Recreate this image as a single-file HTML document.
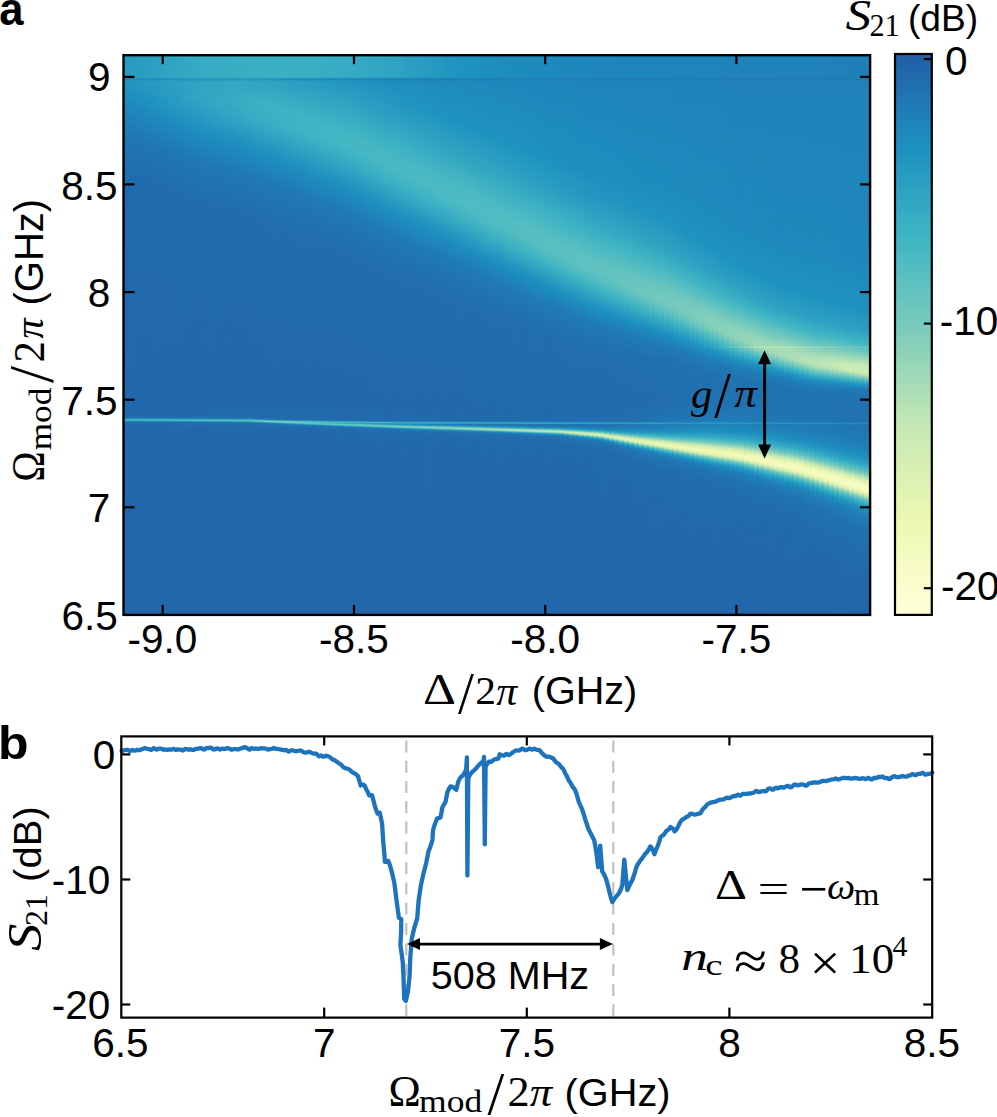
<!DOCTYPE html>
<html><head><meta charset="utf-8"><style>
html,body{margin:0;padding:0;background:#fff;overflow:hidden}
svg{display:block}
</style></head><body>
<svg width="997" height="1117" viewBox="0 0 997 1117">
<defs><linearGradient id="h0" x1="0" y1="0" x2="0" y2="1"><stop offset="0.0000" stop-color="#269ac1"/><stop offset="0.0377" stop-color="#269ac1"/><stop offset="0.0395" stop-color="#1f93c0"/><stop offset="0.0413" stop-color="#1f83b9"/><stop offset="0.0430" stop-color="#1e8cbe"/><stop offset="0.0448" stop-color="#2296c1"/><stop offset="0.0789" stop-color="#1e8cbe"/><stop offset="0.1507" stop-color="#2074b2"/><stop offset="0.2386" stop-color="#216aad"/><stop offset="0.6422" stop-color="#2268ac"/><stop offset="0.6475" stop-color="#216eaf"/><stop offset="0.6493" stop-color="#1f80b8"/><stop offset="0.6511" stop-color="#3db2c4"/><stop offset="0.6529" stop-color="#40b5c4"/><stop offset="0.6547" stop-color="#1f83b9"/><stop offset="0.6565" stop-color="#216eaf"/><stop offset="0.6619" stop-color="#2268ac"/><stop offset="1.0000" stop-color="#2266ab"/></linearGradient><linearGradient id="h1" x1="0" y1="0" x2="0" y2="1"><stop offset="0.0000" stop-color="#279cc1"/><stop offset="0.0377" stop-color="#279bc1"/><stop offset="0.0395" stop-color="#2094c0"/><stop offset="0.0413" stop-color="#1e84ba"/><stop offset="0.0430" stop-color="#1d8ebe"/><stop offset="0.0448" stop-color="#2397c1"/><stop offset="0.0807" stop-color="#1d8dbe"/><stop offset="0.1525" stop-color="#2074b2"/><stop offset="0.2386" stop-color="#216aad"/><stop offset="0.6404" stop-color="#2268ac"/><stop offset="0.6457" stop-color="#216aad"/><stop offset="0.6475" stop-color="#216eaf"/><stop offset="0.6493" stop-color="#1f80b7"/><stop offset="0.6511" stop-color="#3cb1c3"/><stop offset="0.6529" stop-color="#43b7c4"/><stop offset="0.6547" stop-color="#1e84ba"/><stop offset="0.6565" stop-color="#216faf"/><stop offset="0.6601" stop-color="#2169ac"/><stop offset="0.8215" stop-color="#2266ab"/><stop offset="1.0000" stop-color="#2266ab"/></linearGradient><linearGradient id="h2" x1="0" y1="0" x2="0" y2="1"><stop offset="0.0000" stop-color="#289dc1"/><stop offset="0.0377" stop-color="#289dc1"/><stop offset="0.0395" stop-color="#2195c0"/><stop offset="0.0413" stop-color="#1e85ba"/><stop offset="0.0430" stop-color="#1d8fbf"/><stop offset="0.0448" stop-color="#2498c1"/><stop offset="0.0843" stop-color="#1d8dbe"/><stop offset="0.1543" stop-color="#2074b2"/><stop offset="0.2368" stop-color="#216aad"/><stop offset="0.6404" stop-color="#2268ac"/><stop offset="0.6457" stop-color="#216aad"/><stop offset="0.6475" stop-color="#216eaf"/><stop offset="0.6493" stop-color="#1f7fb7"/><stop offset="0.6511" stop-color="#3bb0c3"/><stop offset="0.6529" stop-color="#47b8c3"/><stop offset="0.6547" stop-color="#1e85ba"/><stop offset="0.6565" stop-color="#216faf"/><stop offset="0.6601" stop-color="#2169ac"/><stop offset="0.8018" stop-color="#2266ab"/><stop offset="1.0000" stop-color="#2266ab"/></linearGradient><linearGradient id="h3" x1="0" y1="0" x2="0" y2="1"><stop offset="0.0000" stop-color="#2a9ec1"/><stop offset="0.0377" stop-color="#299ec1"/><stop offset="0.0395" stop-color="#2296c1"/><stop offset="0.0413" stop-color="#1e86bb"/><stop offset="0.0430" stop-color="#1d90c0"/><stop offset="0.0448" stop-color="#2599c1"/><stop offset="0.0861" stop-color="#1d8ebf"/><stop offset="0.1561" stop-color="#2075b2"/><stop offset="0.2368" stop-color="#216bad"/><stop offset="0.6386" stop-color="#2267ac"/><stop offset="0.6457" stop-color="#216aad"/><stop offset="0.6475" stop-color="#216eaf"/><stop offset="0.6493" stop-color="#1f7eb7"/><stop offset="0.6511" stop-color="#3aafc3"/><stop offset="0.6529" stop-color="#4ab9c3"/><stop offset="0.6547" stop-color="#1e87bb"/><stop offset="0.6565" stop-color="#216fb0"/><stop offset="0.6601" stop-color="#2169ac"/><stop offset="0.7857" stop-color="#2266ab"/><stop offset="1.0000" stop-color="#2266ab"/></linearGradient><linearGradient id="h4" x1="0" y1="0" x2="0" y2="1"><stop offset="0.0000" stop-color="#2b9fc2"/><stop offset="0.0377" stop-color="#2b9fc2"/><stop offset="0.0395" stop-color="#2397c1"/><stop offset="0.0413" stop-color="#1e88bb"/><stop offset="0.0430" stop-color="#1d91c0"/><stop offset="0.0448" stop-color="#269ac1"/><stop offset="0.0861" stop-color="#1d90c0"/><stop offset="0.1578" stop-color="#2075b2"/><stop offset="0.2368" stop-color="#216bad"/><stop offset="0.6368" stop-color="#2267ac"/><stop offset="0.6457" stop-color="#216aad"/><stop offset="0.6475" stop-color="#216eaf"/><stop offset="0.6493" stop-color="#1f7eb7"/><stop offset="0.6511" stop-color="#39aec3"/><stop offset="0.6529" stop-color="#4dbac2"/><stop offset="0.6547" stop-color="#1e88bc"/><stop offset="0.6565" stop-color="#2170b0"/><stop offset="0.6601" stop-color="#2169ad"/><stop offset="0.7713" stop-color="#2266ab"/><stop offset="1.0000" stop-color="#2266ab"/></linearGradient><linearGradient id="h5" x1="0" y1="0" x2="0" y2="1"><stop offset="0.0000" stop-color="#2ca0c2"/><stop offset="0.0377" stop-color="#2ca0c2"/><stop offset="0.0395" stop-color="#2498c1"/><stop offset="0.0413" stop-color="#1e88bc"/><stop offset="0.0430" stop-color="#1e92c0"/><stop offset="0.0448" stop-color="#279bc1"/><stop offset="0.0843" stop-color="#1f93c0"/><stop offset="0.1596" stop-color="#2076b3"/><stop offset="0.2368" stop-color="#216bad"/><stop offset="0.6350" stop-color="#2267ac"/><stop offset="0.6457" stop-color="#216aad"/><stop offset="0.6475" stop-color="#216eaf"/><stop offset="0.6493" stop-color="#1f7db6"/><stop offset="0.6511" stop-color="#38adc3"/><stop offset="0.6529" stop-color="#50bcc2"/><stop offset="0.6547" stop-color="#1e8abd"/><stop offset="0.6565" stop-color="#2170b0"/><stop offset="0.6601" stop-color="#2169ad"/><stop offset="0.7605" stop-color="#2266ab"/><stop offset="1.0000" stop-color="#2266ab"/></linearGradient><linearGradient id="h6" x1="0" y1="0" x2="0" y2="1"><stop offset="0.0000" stop-color="#2da1c2"/><stop offset="0.0377" stop-color="#2da1c2"/><stop offset="0.0395" stop-color="#2498c1"/><stop offset="0.0413" stop-color="#1e89bc"/><stop offset="0.0430" stop-color="#1f93c0"/><stop offset="0.0448" stop-color="#289cc1"/><stop offset="0.0825" stop-color="#2195c0"/><stop offset="0.1022" stop-color="#1d8dbe"/><stop offset="0.1686" stop-color="#2075b2"/><stop offset="0.2511" stop-color="#216aad"/><stop offset="0.6404" stop-color="#2268ac"/><stop offset="0.6475" stop-color="#216eaf"/><stop offset="0.6493" stop-color="#1f7db6"/><stop offset="0.6511" stop-color="#37acc3"/><stop offset="0.6529" stop-color="#53bdc1"/><stop offset="0.6547" stop-color="#1e8cbd"/><stop offset="0.6565" stop-color="#2171b0"/><stop offset="0.6601" stop-color="#2169ad"/><stop offset="0.7516" stop-color="#2266ab"/><stop offset="1.0000" stop-color="#2266ab"/></linearGradient><linearGradient id="h7" x1="0" y1="0" x2="0" y2="1"><stop offset="0.0000" stop-color="#2ea2c2"/><stop offset="0.0377" stop-color="#2ea2c2"/><stop offset="0.0395" stop-color="#2599c1"/><stop offset="0.0413" stop-color="#1e8abd"/><stop offset="0.0430" stop-color="#2094c0"/><stop offset="0.0448" stop-color="#299dc1"/><stop offset="0.0807" stop-color="#2397c1"/><stop offset="0.1040" stop-color="#1d8ebe"/><stop offset="0.1686" stop-color="#2075b3"/><stop offset="0.2475" stop-color="#216bad"/><stop offset="0.6386" stop-color="#2267ac"/><stop offset="0.6457" stop-color="#216aad"/><stop offset="0.6475" stop-color="#216eaf"/><stop offset="0.6493" stop-color="#1f7cb6"/><stop offset="0.6511" stop-color="#36abc3"/><stop offset="0.6529" stop-color="#56bec1"/><stop offset="0.6547" stop-color="#1d8dbe"/><stop offset="0.6565" stop-color="#2171b0"/><stop offset="0.6601" stop-color="#2169ad"/><stop offset="0.7426" stop-color="#2266ab"/><stop offset="1.0000" stop-color="#2266ab"/></linearGradient><linearGradient id="h8" x1="0" y1="0" x2="0" y2="1"><stop offset="0.0000" stop-color="#2fa3c2"/><stop offset="0.0377" stop-color="#2fa3c2"/><stop offset="0.0395" stop-color="#269ac1"/><stop offset="0.0413" stop-color="#1e8bbd"/><stop offset="0.0430" stop-color="#2195c0"/><stop offset="0.0448" stop-color="#2a9ec1"/><stop offset="0.0789" stop-color="#2599c1"/><stop offset="0.1076" stop-color="#1d8ebf"/><stop offset="0.1722" stop-color="#2075b3"/><stop offset="0.2511" stop-color="#216bad"/><stop offset="0.6386" stop-color="#2267ac"/><stop offset="0.6457" stop-color="#216aad"/><stop offset="0.6475" stop-color="#216eaf"/><stop offset="0.6493" stop-color="#1f7cb6"/><stop offset="0.6511" stop-color="#35aac3"/><stop offset="0.6529" stop-color="#59bfc1"/><stop offset="0.6547" stop-color="#1d8fbf"/><stop offset="0.6565" stop-color="#2171b1"/><stop offset="0.6583" stop-color="#216bae"/><stop offset="0.6744" stop-color="#2267ab"/><stop offset="1.0000" stop-color="#2266ab"/></linearGradient><linearGradient id="h9" x1="0" y1="0" x2="0" y2="1"><stop offset="0.0000" stop-color="#30a4c2"/><stop offset="0.0377" stop-color="#30a4c2"/><stop offset="0.0395" stop-color="#279bc1"/><stop offset="0.0413" stop-color="#1d8dbe"/><stop offset="0.0430" stop-color="#2296c1"/><stop offset="0.0448" stop-color="#2b9fc2"/><stop offset="0.0771" stop-color="#279cc1"/><stop offset="0.1112" stop-color="#1d8fbf"/><stop offset="0.1740" stop-color="#2076b3"/><stop offset="0.2511" stop-color="#216bad"/><stop offset="0.6350" stop-color="#2267ac"/><stop offset="0.6457" stop-color="#216aad"/><stop offset="0.6475" stop-color="#216eaf"/><stop offset="0.6493" stop-color="#1f7cb6"/><stop offset="0.6511" stop-color="#34a9c3"/><stop offset="0.6529" stop-color="#5cc0c0"/><stop offset="0.6547" stop-color="#1d91c0"/><stop offset="0.6565" stop-color="#2072b1"/><stop offset="0.6583" stop-color="#216bae"/><stop offset="0.6726" stop-color="#2267ab"/><stop offset="1.0000" stop-color="#2266ab"/></linearGradient><linearGradient id="h10" x1="0" y1="0" x2="0" y2="1"><stop offset="0.0000" stop-color="#31a6c2"/><stop offset="0.0377" stop-color="#31a5c2"/><stop offset="0.0395" stop-color="#289cc1"/><stop offset="0.0413" stop-color="#1d8ebe"/><stop offset="0.0448" stop-color="#2ca0c2"/><stop offset="0.0771" stop-color="#299dc1"/><stop offset="0.1166" stop-color="#1d8ebf"/><stop offset="0.1776" stop-color="#2076b3"/><stop offset="0.2547" stop-color="#216bae"/><stop offset="0.6350" stop-color="#2267ac"/><stop offset="0.6457" stop-color="#216aad"/><stop offset="0.6475" stop-color="#216eaf"/><stop offset="0.6493" stop-color="#1f7bb5"/><stop offset="0.6511" stop-color="#33a8c2"/><stop offset="0.6529" stop-color="#5ec1c0"/><stop offset="0.6547" stop-color="#1f93c0"/><stop offset="0.6565" stop-color="#2072b1"/><stop offset="0.6583" stop-color="#216cae"/><stop offset="0.6726" stop-color="#2267ab"/><stop offset="1.0000" stop-color="#2266ab"/></linearGradient><linearGradient id="h11" x1="0" y1="0" x2="0" y2="1"><stop offset="0.0000" stop-color="#32a7c2"/><stop offset="0.0377" stop-color="#32a6c2"/><stop offset="0.0395" stop-color="#289dc1"/><stop offset="0.0413" stop-color="#1d8fbf"/><stop offset="0.0448" stop-color="#2da1c2"/><stop offset="0.0771" stop-color="#2b9fc2"/><stop offset="0.1202" stop-color="#1d8ebf"/><stop offset="0.1812" stop-color="#2076b3"/><stop offset="0.2583" stop-color="#216bae"/><stop offset="0.6350" stop-color="#2267ac"/><stop offset="0.6457" stop-color="#216aad"/><stop offset="0.6475" stop-color="#216eaf"/><stop offset="0.6493" stop-color="#1f7bb5"/><stop offset="0.6511" stop-color="#32a7c2"/><stop offset="0.6529" stop-color="#60c2bf"/><stop offset="0.6547" stop-color="#2195c0"/><stop offset="0.6565" stop-color="#2073b1"/><stop offset="0.6583" stop-color="#216cae"/><stop offset="0.6726" stop-color="#2267ab"/><stop offset="1.0000" stop-color="#2266ab"/></linearGradient><linearGradient id="h12" x1="0" y1="0" x2="0" y2="1"><stop offset="0.0000" stop-color="#33a8c2"/><stop offset="0.0377" stop-color="#33a7c2"/><stop offset="0.0413" stop-color="#1d90bf"/><stop offset="0.0448" stop-color="#2da2c2"/><stop offset="0.0771" stop-color="#2da1c2"/><stop offset="0.1238" stop-color="#1d8fbf"/><stop offset="0.1830" stop-color="#2077b3"/><stop offset="0.2583" stop-color="#216cae"/><stop offset="0.6314" stop-color="#2267ab"/><stop offset="0.6457" stop-color="#216aad"/><stop offset="0.6475" stop-color="#216eaf"/><stop offset="0.6493" stop-color="#207ab5"/><stop offset="0.6511" stop-color="#31a6c2"/><stop offset="0.6529" stop-color="#62c2bf"/><stop offset="0.6547" stop-color="#2297c1"/><stop offset="0.6565" stop-color="#2074b2"/><stop offset="0.6583" stop-color="#216cae"/><stop offset="0.6709" stop-color="#2267ac"/><stop offset="1.0000" stop-color="#2266ab"/></linearGradient><linearGradient id="h13" x1="0" y1="0" x2="0" y2="1"><stop offset="0.0000" stop-color="#34a9c3"/><stop offset="0.0377" stop-color="#34a9c3"/><stop offset="0.0413" stop-color="#1d91c0"/><stop offset="0.0448" stop-color="#2ea3c2"/><stop offset="0.0771" stop-color="#2ea3c2"/><stop offset="0.1274" stop-color="#1d8fbf"/><stop offset="0.1865" stop-color="#2077b3"/><stop offset="0.2601" stop-color="#216cae"/><stop offset="0.6278" stop-color="#2267ab"/><stop offset="0.6457" stop-color="#216aad"/><stop offset="0.6475" stop-color="#216eaf"/><stop offset="0.6493" stop-color="#207ab5"/><stop offset="0.6511" stop-color="#30a4c2"/><stop offset="0.6529" stop-color="#64c3bf"/><stop offset="0.6547" stop-color="#2498c1"/><stop offset="0.6565" stop-color="#2074b2"/><stop offset="0.6583" stop-color="#216cae"/><stop offset="0.6709" stop-color="#2267ac"/><stop offset="1.0000" stop-color="#2266ab"/></linearGradient><linearGradient id="h14" x1="0" y1="0" x2="0" y2="1"><stop offset="0.0000" stop-color="#35aac3"/><stop offset="0.0377" stop-color="#35aac3"/><stop offset="0.0413" stop-color="#1d91c0"/><stop offset="0.0448" stop-color="#2fa3c2"/><stop offset="0.0771" stop-color="#30a4c2"/><stop offset="0.1327" stop-color="#1d8ebf"/><stop offset="0.1901" stop-color="#2077b3"/><stop offset="0.2637" stop-color="#216cae"/><stop offset="0.6296" stop-color="#2267ab"/><stop offset="0.6457" stop-color="#216aad"/><stop offset="0.6475" stop-color="#216eaf"/><stop offset="0.6493" stop-color="#207ab5"/><stop offset="0.6511" stop-color="#2fa3c2"/><stop offset="0.6529" stop-color="#65c4bf"/><stop offset="0.6547" stop-color="#269ac1"/><stop offset="0.6565" stop-color="#2075b2"/><stop offset="0.6583" stop-color="#216cae"/><stop offset="0.6691" stop-color="#2267ac"/><stop offset="1.0000" stop-color="#2266ab"/></linearGradient><linearGradient id="h15" x1="0" y1="0" x2="0" y2="1"><stop offset="0.0000" stop-color="#36abc3"/><stop offset="0.0377" stop-color="#36aac3"/><stop offset="0.0413" stop-color="#1e92c0"/><stop offset="0.0448" stop-color="#30a4c2"/><stop offset="0.0771" stop-color="#31a6c2"/><stop offset="0.1309" stop-color="#1d91c0"/><stop offset="0.1901" stop-color="#2078b4"/><stop offset="0.2619" stop-color="#216cae"/><stop offset="0.6045" stop-color="#2267ab"/><stop offset="0.6439" stop-color="#2169ad"/><stop offset="0.6475" stop-color="#216eaf"/><stop offset="0.6493" stop-color="#2079b4"/><stop offset="0.6511" stop-color="#2ea2c2"/><stop offset="0.6529" stop-color="#67c4bf"/><stop offset="0.6547" stop-color="#289dc1"/><stop offset="0.6565" stop-color="#2075b2"/><stop offset="0.6583" stop-color="#216cae"/><stop offset="0.6691" stop-color="#2267ac"/><stop offset="1.0000" stop-color="#2266ab"/></linearGradient><linearGradient id="h16" x1="0" y1="0" x2="0" y2="1"><stop offset="0.0000" stop-color="#36abc3"/><stop offset="0.0377" stop-color="#36abc3"/><stop offset="0.0413" stop-color="#1e92c0"/><stop offset="0.0448" stop-color="#30a5c2"/><stop offset="0.0771" stop-color="#33a7c2"/><stop offset="0.1238" stop-color="#2296c1"/><stop offset="0.1417" stop-color="#1d8ebe"/><stop offset="0.1973" stop-color="#2077b3"/><stop offset="0.2726" stop-color="#216cae"/><stop offset="0.6332" stop-color="#2267ac"/><stop offset="0.6457" stop-color="#216bad"/><stop offset="0.6475" stop-color="#216daf"/><stop offset="0.6493" stop-color="#2079b4"/><stop offset="0.6511" stop-color="#2da1c2"/><stop offset="0.6529" stop-color="#68c4be"/><stop offset="0.6547" stop-color="#2a9fc1"/><stop offset="0.6565" stop-color="#2076b3"/><stop offset="0.6583" stop-color="#216dae"/><stop offset="0.6691" stop-color="#2267ac"/><stop offset="1.0000" stop-color="#2266ab"/></linearGradient><linearGradient id="h17" x1="0" y1="0" x2="0" y2="1"><stop offset="0.0000" stop-color="#37abc3"/><stop offset="0.0377" stop-color="#37abc3"/><stop offset="0.0413" stop-color="#1f93c0"/><stop offset="0.0448" stop-color="#30a5c2"/><stop offset="0.0789" stop-color="#33a8c2"/><stop offset="0.1256" stop-color="#2397c1"/><stop offset="0.1435" stop-color="#1d8ebf"/><stop offset="0.1991" stop-color="#2077b3"/><stop offset="0.2726" stop-color="#216cae"/><stop offset="0.6314" stop-color="#2267ac"/><stop offset="0.6457" stop-color="#216bad"/><stop offset="0.6475" stop-color="#216daf"/><stop offset="0.6493" stop-color="#2079b4"/><stop offset="0.6511" stop-color="#2ca0c2"/><stop offset="0.6529" stop-color="#68c5be"/><stop offset="0.6547" stop-color="#2da1c2"/><stop offset="0.6565" stop-color="#2077b3"/><stop offset="0.6583" stop-color="#216dae"/><stop offset="0.6673" stop-color="#2268ac"/><stop offset="1.0000" stop-color="#2266ab"/></linearGradient><linearGradient id="h18" x1="0" y1="0" x2="0" y2="1"><stop offset="0.0000" stop-color="#37acc3"/><stop offset="0.0377" stop-color="#37acc3"/><stop offset="0.0413" stop-color="#1f93c0"/><stop offset="0.0448" stop-color="#31a5c2"/><stop offset="0.0789" stop-color="#35a9c3"/><stop offset="0.1220" stop-color="#269ac1"/><stop offset="0.1453" stop-color="#1d8fbf"/><stop offset="0.2009" stop-color="#2077b3"/><stop offset="0.2726" stop-color="#216cae"/><stop offset="0.6242" stop-color="#2267ab"/><stop offset="0.6457" stop-color="#216bad"/><stop offset="0.6475" stop-color="#216daf"/><stop offset="0.6493" stop-color="#2078b4"/><stop offset="0.6511" stop-color="#2b9fc2"/><stop offset="0.6529" stop-color="#69c5be"/><stop offset="0.6547" stop-color="#2fa3c2"/><stop offset="0.6565" stop-color="#2078b4"/><stop offset="0.6583" stop-color="#216dae"/><stop offset="0.6673" stop-color="#2268ac"/><stop offset="1.0000" stop-color="#2266ab"/></linearGradient><linearGradient id="h19" x1="0" y1="0" x2="0" y2="1"><stop offset="0.0000" stop-color="#37acc3"/><stop offset="0.0377" stop-color="#37acc3"/><stop offset="0.0413" stop-color="#1f93c0"/><stop offset="0.0448" stop-color="#31a5c2"/><stop offset="0.0789" stop-color="#36aac3"/><stop offset="0.1184" stop-color="#299ec1"/><stop offset="0.1489" stop-color="#1d8ebf"/><stop offset="0.2027" stop-color="#2077b3"/><stop offset="0.2744" stop-color="#216cae"/><stop offset="0.6224" stop-color="#2267ab"/><stop offset="0.6457" stop-color="#216bad"/><stop offset="0.6475" stop-color="#216daf"/><stop offset="0.6493" stop-color="#2078b4"/><stop offset="0.6511" stop-color="#2a9ec1"/><stop offset="0.6529" stop-color="#69c5be"/><stop offset="0.6547" stop-color="#31a6c2"/><stop offset="0.6565" stop-color="#2078b4"/><stop offset="0.6583" stop-color="#216dae"/><stop offset="0.6673" stop-color="#2268ac"/><stop offset="1.0000" stop-color="#2266ab"/></linearGradient><linearGradient id="h20" x1="0" y1="0" x2="0" y2="1"><stop offset="0.0000" stop-color="#38adc3"/><stop offset="0.0377" stop-color="#38acc3"/><stop offset="0.0413" stop-color="#1f93c0"/><stop offset="0.0448" stop-color="#31a6c2"/><stop offset="0.0789" stop-color="#37abc3"/><stop offset="0.1166" stop-color="#2ca0c2"/><stop offset="0.1507" stop-color="#1d8fbf"/><stop offset="0.2045" stop-color="#2078b4"/><stop offset="0.2744" stop-color="#216cae"/><stop offset="0.6117" stop-color="#2267ab"/><stop offset="0.6439" stop-color="#2169ad"/><stop offset="0.6475" stop-color="#216daf"/><stop offset="0.6493" stop-color="#2078b4"/><stop offset="0.6511" stop-color="#299dc1"/><stop offset="0.6529" stop-color="#69c5be"/><stop offset="0.6547" stop-color="#34a8c3"/><stop offset="0.6565" stop-color="#2079b4"/><stop offset="0.6583" stop-color="#216daf"/><stop offset="0.6673" stop-color="#2268ac"/><stop offset="1.0000" stop-color="#2266ab"/></linearGradient><linearGradient id="h21" x1="0" y1="0" x2="0" y2="1"><stop offset="0.0000" stop-color="#38adc3"/><stop offset="0.0377" stop-color="#38adc3"/><stop offset="0.0413" stop-color="#1f93c0"/><stop offset="0.0448" stop-color="#31a6c2"/><stop offset="0.0789" stop-color="#38acc3"/><stop offset="0.1148" stop-color="#2ea2c2"/><stop offset="0.1543" stop-color="#1d8fbf"/><stop offset="0.2081" stop-color="#2077b3"/><stop offset="0.2798" stop-color="#216cae"/><stop offset="0.6260" stop-color="#2267ac"/><stop offset="0.6457" stop-color="#216bad"/><stop offset="0.6475" stop-color="#216daf"/><stop offset="0.6493" stop-color="#2078b4"/><stop offset="0.6511" stop-color="#289cc1"/><stop offset="0.6529" stop-color="#69c5be"/><stop offset="0.6547" stop-color="#36abc3"/><stop offset="0.6565" stop-color="#207ab5"/><stop offset="0.6583" stop-color="#216eaf"/><stop offset="0.6655" stop-color="#2268ac"/><stop offset="1.0000" stop-color="#2266ab"/></linearGradient><linearGradient id="h22" x1="0" y1="0" x2="0" y2="1"><stop offset="0.0000" stop-color="#39adc3"/><stop offset="0.0377" stop-color="#38adc3"/><stop offset="0.0413" stop-color="#1f93c0"/><stop offset="0.0448" stop-color="#31a6c2"/><stop offset="0.0807" stop-color="#38adc3"/><stop offset="0.1148" stop-color="#30a4c2"/><stop offset="0.1561" stop-color="#1d8fbf"/><stop offset="0.2081" stop-color="#2078b4"/><stop offset="0.2780" stop-color="#216cae"/><stop offset="0.6063" stop-color="#2267ab"/><stop offset="0.6439" stop-color="#2169ad"/><stop offset="0.6475" stop-color="#216daf"/><stop offset="0.6493" stop-color="#2077b3"/><stop offset="0.6511" stop-color="#279bc1"/><stop offset="0.6529" stop-color="#68c5be"/><stop offset="0.6547" stop-color="#38adc3"/><stop offset="0.6565" stop-color="#1f7bb5"/><stop offset="0.6583" stop-color="#216eaf"/><stop offset="0.6655" stop-color="#2268ac"/><stop offset="1.0000" stop-color="#2266ab"/></linearGradient><linearGradient id="h23" x1="0" y1="0" x2="0" y2="1"><stop offset="0.0000" stop-color="#39aec3"/><stop offset="0.0377" stop-color="#39aec3"/><stop offset="0.0413" stop-color="#1f93c0"/><stop offset="0.0448" stop-color="#31a6c2"/><stop offset="0.0807" stop-color="#39aec3"/><stop offset="0.1148" stop-color="#31a6c2"/><stop offset="0.1596" stop-color="#1d8fbf"/><stop offset="0.2117" stop-color="#2078b4"/><stop offset="0.2816" stop-color="#216cae"/><stop offset="0.6152" stop-color="#2267ab"/><stop offset="0.6457" stop-color="#216bad"/><stop offset="0.6475" stop-color="#216daf"/><stop offset="0.6493" stop-color="#2077b3"/><stop offset="0.6511" stop-color="#269ac1"/><stop offset="0.6529" stop-color="#67c4be"/><stop offset="0.6547" stop-color="#3bb0c3"/><stop offset="0.6565" stop-color="#1f7cb6"/><stop offset="0.6583" stop-color="#216eaf"/><stop offset="0.6655" stop-color="#2268ac"/><stop offset="1.0000" stop-color="#2266ab"/></linearGradient><linearGradient id="h24" x1="0" y1="0" x2="0" y2="1"><stop offset="0.0000" stop-color="#39aec3"/><stop offset="0.0377" stop-color="#39aec3"/><stop offset="0.0413" stop-color="#1f93c0"/><stop offset="0.0448" stop-color="#31a6c2"/><stop offset="0.0825" stop-color="#3aafc3"/><stop offset="0.1148" stop-color="#33a8c2"/><stop offset="0.1632" stop-color="#1d8fbf"/><stop offset="0.2152" stop-color="#2078b4"/><stop offset="0.2852" stop-color="#216cae"/><stop offset="0.6188" stop-color="#2267ab"/><stop offset="0.6457" stop-color="#216bad"/><stop offset="0.6475" stop-color="#216daf"/><stop offset="0.6493" stop-color="#2077b3"/><stop offset="0.6511" stop-color="#2599c1"/><stop offset="0.6529" stop-color="#67c4bf"/><stop offset="0.6547" stop-color="#3db2c4"/><stop offset="0.6565" stop-color="#1f7db6"/><stop offset="0.6583" stop-color="#216eaf"/><stop offset="0.6655" stop-color="#2268ac"/><stop offset="1.0000" stop-color="#2266ab"/></linearGradient><linearGradient id="h25" x1="0" y1="0" x2="0" y2="1"><stop offset="0.0000" stop-color="#3aafc3"/><stop offset="0.0377" stop-color="#3aaec3"/><stop offset="0.0413" stop-color="#1e92c0"/><stop offset="0.0448" stop-color="#31a5c2"/><stop offset="0.0825" stop-color="#3bb0c3"/><stop offset="0.1148" stop-color="#35aac3"/><stop offset="0.1668" stop-color="#1d8fbf"/><stop offset="0.2188" stop-color="#2078b4"/><stop offset="0.2888" stop-color="#216cae"/><stop offset="0.6206" stop-color="#2267ac"/><stop offset="0.6457" stop-color="#216bad"/><stop offset="0.6475" stop-color="#216dae"/><stop offset="0.6493" stop-color="#2075b3"/><stop offset="0.6511" stop-color="#2296c1"/><stop offset="0.6529" stop-color="#64c3bf"/><stop offset="0.6547" stop-color="#48b8c3"/><stop offset="0.6565" stop-color="#1f81b8"/><stop offset="0.6583" stop-color="#216faf"/><stop offset="0.6637" stop-color="#2169ac"/><stop offset="1.0000" stop-color="#2266ab"/></linearGradient><linearGradient id="h26" x1="0" y1="0" x2="0" y2="1"><stop offset="0.0000" stop-color="#3aafc3"/><stop offset="0.0377" stop-color="#3aafc3"/><stop offset="0.0413" stop-color="#1e92c0"/><stop offset="0.0448" stop-color="#30a5c2"/><stop offset="0.0843" stop-color="#3cb0c3"/><stop offset="0.1148" stop-color="#37acc3"/><stop offset="0.1704" stop-color="#1d8fbf"/><stop offset="0.2206" stop-color="#2078b4"/><stop offset="0.2888" stop-color="#216dae"/><stop offset="0.6027" stop-color="#2267ab"/><stop offset="0.6457" stop-color="#216aad"/><stop offset="0.6493" stop-color="#2072b1"/><stop offset="0.6511" stop-color="#1e8bbd"/><stop offset="0.6529" stop-color="#56bec1"/><stop offset="0.6547" stop-color="#68c4be"/><stop offset="0.6565" stop-color="#1e8cbd"/><stop offset="0.6583" stop-color="#2171b0"/><stop offset="0.6619" stop-color="#216aad"/><stop offset="0.7265" stop-color="#2267ab"/><stop offset="1.0000" stop-color="#2266ab"/></linearGradient><linearGradient id="h27" x1="0" y1="0" x2="0" y2="1"><stop offset="0.0000" stop-color="#3aafc3"/><stop offset="0.0377" stop-color="#3aafc3"/><stop offset="0.0413" stop-color="#1d91c0"/><stop offset="0.0448" stop-color="#30a4c2"/><stop offset="0.0861" stop-color="#3cb1c3"/><stop offset="0.1166" stop-color="#38adc3"/><stop offset="0.1740" stop-color="#1d8fbf"/><stop offset="0.2242" stop-color="#2078b4"/><stop offset="0.2924" stop-color="#216dae"/><stop offset="0.6063" stop-color="#2267ac"/><stop offset="0.6457" stop-color="#216aad"/><stop offset="0.6493" stop-color="#2170b0"/><stop offset="0.6511" stop-color="#1f82b9"/><stop offset="0.6529" stop-color="#43b7c4"/><stop offset="0.6547" stop-color="#83cebb"/><stop offset="0.6565" stop-color="#2498c1"/><stop offset="0.6583" stop-color="#2074b2"/><stop offset="0.6601" stop-color="#216dae"/><stop offset="0.6726" stop-color="#2267ac"/><stop offset="1.0000" stop-color="#2266ab"/></linearGradient><linearGradient id="h28" x1="0" y1="0" x2="0" y2="1"><stop offset="0.0000" stop-color="#3bb0c3"/><stop offset="0.0377" stop-color="#3bb0c3"/><stop offset="0.0395" stop-color="#299ec1"/><stop offset="0.0413" stop-color="#1d91c0"/><stop offset="0.0448" stop-color="#2fa3c2"/><stop offset="0.0897" stop-color="#3db2c4"/><stop offset="0.1202" stop-color="#39adc3"/><stop offset="0.1776" stop-color="#1d8fbf"/><stop offset="0.2278" stop-color="#2078b4"/><stop offset="0.2960" stop-color="#216dae"/><stop offset="0.6099" stop-color="#2267ac"/><stop offset="0.6457" stop-color="#216aad"/><stop offset="0.6493" stop-color="#216faf"/><stop offset="0.6511" stop-color="#1f7bb5"/><stop offset="0.6529" stop-color="#36abc3"/><stop offset="0.6547" stop-color="#94d5b9"/><stop offset="0.6565" stop-color="#32a6c2"/><stop offset="0.6583" stop-color="#2079b4"/><stop offset="0.6601" stop-color="#216eaf"/><stop offset="0.6691" stop-color="#2268ac"/><stop offset="1.0000" stop-color="#2266ab"/></linearGradient><linearGradient id="h29" x1="0" y1="0" x2="0" y2="1"><stop offset="0.0000" stop-color="#3bb0c3"/><stop offset="0.0377" stop-color="#3bb0c3"/><stop offset="0.0395" stop-color="#289dc1"/><stop offset="0.0413" stop-color="#1d90bf"/><stop offset="0.0448" stop-color="#2ea3c2"/><stop offset="0.0915" stop-color="#3db2c4"/><stop offset="0.1220" stop-color="#3aaec3"/><stop offset="0.1812" stop-color="#1d8fbf"/><stop offset="0.2314" stop-color="#2078b4"/><stop offset="0.2996" stop-color="#216dae"/><stop offset="0.6152" stop-color="#2267ac"/><stop offset="0.6457" stop-color="#2169ad"/><stop offset="0.6493" stop-color="#216daf"/><stop offset="0.6511" stop-color="#2077b3"/><stop offset="0.6529" stop-color="#2ba0c2"/><stop offset="0.6547" stop-color="#98d7b9"/><stop offset="0.6565" stop-color="#41b6c4"/><stop offset="0.6583" stop-color="#1f81b8"/><stop offset="0.6601" stop-color="#216faf"/><stop offset="0.6655" stop-color="#2169ac"/><stop offset="1.0000" stop-color="#2266ab"/></linearGradient><linearGradient id="h30" x1="0" y1="0" x2="0" y2="1"><stop offset="0.0000" stop-color="#3cb0c3"/><stop offset="0.0377" stop-color="#3bb0c3"/><stop offset="0.0395" stop-color="#289cc1"/><stop offset="0.0413" stop-color="#1d8ebf"/><stop offset="0.0448" stop-color="#2da2c2"/><stop offset="0.0933" stop-color="#3db2c4"/><stop offset="0.1238" stop-color="#3aafc3"/><stop offset="0.1848" stop-color="#1d8fbf"/><stop offset="0.2350" stop-color="#2078b4"/><stop offset="0.3031" stop-color="#216dae"/><stop offset="0.6188" stop-color="#2267ac"/><stop offset="0.6475" stop-color="#216aad"/><stop offset="0.6493" stop-color="#216dae"/><stop offset="0.6511" stop-color="#2073b1"/><stop offset="0.6529" stop-color="#2296c1"/><stop offset="0.6547" stop-color="#90d3b9"/><stop offset="0.6565" stop-color="#5bc0c0"/><stop offset="0.6583" stop-color="#1e8bbd"/><stop offset="0.6601" stop-color="#2072b1"/><stop offset="0.6637" stop-color="#216aad"/><stop offset="0.7229" stop-color="#2267ab"/><stop offset="1.0000" stop-color="#2266ab"/></linearGradient><linearGradient id="h31" x1="0" y1="0" x2="0" y2="1"><stop offset="0.0000" stop-color="#3cb1c3"/><stop offset="0.0377" stop-color="#3cb0c3"/><stop offset="0.0395" stop-color="#279bc1"/><stop offset="0.0413" stop-color="#1d8dbe"/><stop offset="0.0430" stop-color="#2397c1"/><stop offset="0.0448" stop-color="#2ca1c2"/><stop offset="0.0969" stop-color="#3eb3c4"/><stop offset="0.1274" stop-color="#3bafc3"/><stop offset="0.1883" stop-color="#1d8fbf"/><stop offset="0.2368" stop-color="#2078b4"/><stop offset="0.3031" stop-color="#216dae"/><stop offset="0.6027" stop-color="#2267ac"/><stop offset="0.6475" stop-color="#216aad"/><stop offset="0.6511" stop-color="#2171b0"/><stop offset="0.6529" stop-color="#1d8ebe"/><stop offset="0.6547" stop-color="#82cebb"/><stop offset="0.6565" stop-color="#70c8bd"/><stop offset="0.6583" stop-color="#2297c1"/><stop offset="0.6601" stop-color="#2075b2"/><stop offset="0.6619" stop-color="#216dae"/><stop offset="0.6726" stop-color="#2268ac"/><stop offset="1.0000" stop-color="#2266ab"/></linearGradient><linearGradient id="h32" x1="0" y1="0" x2="0" y2="1"><stop offset="0.0000" stop-color="#3bb0c3"/><stop offset="0.0377" stop-color="#3bb0c3"/><stop offset="0.0395" stop-color="#269ac1"/><stop offset="0.0413" stop-color="#1e8cbe"/><stop offset="0.0430" stop-color="#2296c1"/><stop offset="0.0448" stop-color="#2ba0c2"/><stop offset="0.1004" stop-color="#3eb3c4"/><stop offset="0.1309" stop-color="#3bb0c3"/><stop offset="0.1919" stop-color="#1d8fbf"/><stop offset="0.2404" stop-color="#2078b4"/><stop offset="0.3067" stop-color="#216dae"/><stop offset="0.6063" stop-color="#2267ac"/><stop offset="0.6475" stop-color="#216aad"/><stop offset="0.6511" stop-color="#216faf"/><stop offset="0.6529" stop-color="#1e86bb"/><stop offset="0.6547" stop-color="#74c9bd"/><stop offset="0.6565" stop-color="#7bccbc"/><stop offset="0.6583" stop-color="#2fa4c2"/><stop offset="0.6601" stop-color="#207ab5"/><stop offset="0.6619" stop-color="#216eaf"/><stop offset="0.6691" stop-color="#2268ac"/><stop offset="1.0000" stop-color="#2266ab"/></linearGradient><linearGradient id="h33" x1="0" y1="0" x2="0" y2="1"><stop offset="0.0000" stop-color="#3bb0c3"/><stop offset="0.0377" stop-color="#3bb0c3"/><stop offset="0.0395" stop-color="#2599c1"/><stop offset="0.0413" stop-color="#1e8bbd"/><stop offset="0.0430" stop-color="#2195c0"/><stop offset="0.0448" stop-color="#2a9fc1"/><stop offset="0.1022" stop-color="#3fb3c4"/><stop offset="0.1327" stop-color="#3cb1c3"/><stop offset="0.1955" stop-color="#1d8fbf"/><stop offset="0.2439" stop-color="#2078b4"/><stop offset="0.3103" stop-color="#216dae"/><stop offset="0.6099" stop-color="#2267ac"/><stop offset="0.6475" stop-color="#216aad"/><stop offset="0.6511" stop-color="#216eaf"/><stop offset="0.6529" stop-color="#1f81b8"/><stop offset="0.6547" stop-color="#68c5be"/><stop offset="0.6565" stop-color="#7acbbc"/><stop offset="0.6583" stop-color="#3db2c4"/><stop offset="0.6601" stop-color="#1f82b8"/><stop offset="0.6619" stop-color="#2170b0"/><stop offset="0.6673" stop-color="#2169ac"/><stop offset="1.0000" stop-color="#2266ab"/></linearGradient><linearGradient id="h34" x1="0" y1="0" x2="0" y2="1"><stop offset="0.0000" stop-color="#3bb0c3"/><stop offset="0.0377" stop-color="#3bafc3"/><stop offset="0.0395" stop-color="#2498c1"/><stop offset="0.0413" stop-color="#1e8abd"/><stop offset="0.0430" stop-color="#2094c0"/><stop offset="0.0448" stop-color="#2a9ec1"/><stop offset="0.1058" stop-color="#3fb4c4"/><stop offset="0.1345" stop-color="#3db2c4"/><stop offset="0.1991" stop-color="#1d8fbf"/><stop offset="0.2475" stop-color="#2078b4"/><stop offset="0.3139" stop-color="#216dae"/><stop offset="0.6135" stop-color="#2267ac"/><stop offset="0.6493" stop-color="#216bad"/><stop offset="0.6511" stop-color="#216dae"/><stop offset="0.6529" stop-color="#1f7cb6"/><stop offset="0.6547" stop-color="#5fc1c0"/><stop offset="0.6565" stop-color="#71c8bd"/><stop offset="0.6583" stop-color="#51bcc2"/><stop offset="0.6601" stop-color="#1e8cbd"/><stop offset="0.6619" stop-color="#2072b1"/><stop offset="0.6655" stop-color="#216aad"/><stop offset="0.7193" stop-color="#2267ab"/><stop offset="1.0000" stop-color="#2266ab"/></linearGradient><linearGradient id="h35" x1="0" y1="0" x2="0" y2="1"><stop offset="0.0000" stop-color="#3aafc3"/><stop offset="0.0377" stop-color="#3aafc3"/><stop offset="0.0395" stop-color="#2397c1"/><stop offset="0.0413" stop-color="#1e89bc"/><stop offset="0.0430" stop-color="#1f93c0"/><stop offset="0.0448" stop-color="#299dc1"/><stop offset="0.1094" stop-color="#3fb4c4"/><stop offset="0.1381" stop-color="#3db2c4"/><stop offset="0.2027" stop-color="#1d8fbf"/><stop offset="0.2511" stop-color="#2078b4"/><stop offset="0.3175" stop-color="#216dae"/><stop offset="0.6170" stop-color="#2267ac"/><stop offset="0.6493" stop-color="#216aad"/><stop offset="0.6511" stop-color="#216cae"/><stop offset="0.6529" stop-color="#2079b4"/><stop offset="0.6547" stop-color="#56bec1"/><stop offset="0.6565" stop-color="#66c4bf"/><stop offset="0.6583" stop-color="#62c2bf"/><stop offset="0.6601" stop-color="#2397c1"/><stop offset="0.6619" stop-color="#2075b2"/><stop offset="0.6637" stop-color="#216dae"/><stop offset="0.6744" stop-color="#2268ac"/><stop offset="1.0000" stop-color="#2266ab"/></linearGradient><linearGradient id="h36" x1="0" y1="0" x2="0" y2="1"><stop offset="0.0000" stop-color="#3aafc3"/><stop offset="0.0377" stop-color="#3aafc3"/><stop offset="0.0395" stop-color="#2297c1"/><stop offset="0.0413" stop-color="#1e88bc"/><stop offset="0.0430" stop-color="#1e92c0"/><stop offset="0.0448" stop-color="#289cc1"/><stop offset="0.1130" stop-color="#40b5c4"/><stop offset="0.1417" stop-color="#3eb2c4"/><stop offset="0.2063" stop-color="#1d8fbf"/><stop offset="0.2547" stop-color="#2078b4"/><stop offset="0.3211" stop-color="#216dae"/><stop offset="0.6188" stop-color="#2267ac"/><stop offset="0.6493" stop-color="#216aad"/><stop offset="0.6511" stop-color="#216cae"/><stop offset="0.6529" stop-color="#2077b3"/><stop offset="0.6547" stop-color="#4cbac2"/><stop offset="0.6565" stop-color="#5fc1c0"/><stop offset="0.6583" stop-color="#6ac5be"/><stop offset="0.6601" stop-color="#2ca1c2"/><stop offset="0.6619" stop-color="#2079b4"/><stop offset="0.6637" stop-color="#216eaf"/><stop offset="0.6709" stop-color="#2268ac"/><stop offset="1.0000" stop-color="#2266ab"/></linearGradient><linearGradient id="h37" x1="0" y1="0" x2="0" y2="1"><stop offset="0.0000" stop-color="#3aafc3"/><stop offset="0.0377" stop-color="#3aaec3"/><stop offset="0.0395" stop-color="#2296c1"/><stop offset="0.0413" stop-color="#1e87bb"/><stop offset="0.0430" stop-color="#1d91c0"/><stop offset="0.0448" stop-color="#279bc1"/><stop offset="0.1166" stop-color="#40b5c4"/><stop offset="0.1453" stop-color="#3eb3c4"/><stop offset="0.2099" stop-color="#1d90bf"/><stop offset="0.2583" stop-color="#2078b4"/><stop offset="0.3247" stop-color="#216dae"/><stop offset="0.6224" stop-color="#2267ac"/><stop offset="0.6493" stop-color="#216aad"/><stop offset="0.6511" stop-color="#216cae"/><stop offset="0.6529" stop-color="#2074b2"/><stop offset="0.6547" stop-color="#42b6c4"/><stop offset="0.6565" stop-color="#59bfc1"/><stop offset="0.6583" stop-color="#6bc6be"/><stop offset="0.6601" stop-color="#37acc3"/><stop offset="0.6619" stop-color="#1f7fb7"/><stop offset="0.6637" stop-color="#216fb0"/><stop offset="0.6691" stop-color="#2169ac"/><stop offset="1.0000" stop-color="#2266ab"/></linearGradient><linearGradient id="h38" x1="0" y1="0" x2="0" y2="1"><stop offset="0.0000" stop-color="#39aec3"/><stop offset="0.0377" stop-color="#39aec3"/><stop offset="0.0395" stop-color="#2195c0"/><stop offset="0.0413" stop-color="#1e86bb"/><stop offset="0.0430" stop-color="#1d91c0"/><stop offset="0.0448" stop-color="#269ac1"/><stop offset="0.1202" stop-color="#41b6c4"/><stop offset="0.1471" stop-color="#3fb4c4"/><stop offset="0.2117" stop-color="#1d91c0"/><stop offset="0.2583" stop-color="#207ab5"/><stop offset="0.3211" stop-color="#216daf"/><stop offset="0.5794" stop-color="#2267ac"/><stop offset="0.6475" stop-color="#2169ad"/><stop offset="0.6511" stop-color="#216cae"/><stop offset="0.6529" stop-color="#2073b1"/><stop offset="0.6547" stop-color="#3cb1c3"/><stop offset="0.6565" stop-color="#54bdc1"/><stop offset="0.6583" stop-color="#67c4bf"/><stop offset="0.6601" stop-color="#43b7c4"/><stop offset="0.6619" stop-color="#1e86bb"/><stop offset="0.6637" stop-color="#2171b0"/><stop offset="0.6673" stop-color="#216aad"/><stop offset="0.7211" stop-color="#2267ab"/><stop offset="1.0000" stop-color="#2266ab"/></linearGradient><linearGradient id="h39" x1="0" y1="0" x2="0" y2="1"><stop offset="0.0000" stop-color="#39aec3"/><stop offset="0.0377" stop-color="#39aec3"/><stop offset="0.0395" stop-color="#2094c0"/><stop offset="0.0413" stop-color="#1e86ba"/><stop offset="0.0430" stop-color="#1d90bf"/><stop offset="0.0448" stop-color="#259ac1"/><stop offset="0.1238" stop-color="#41b6c4"/><stop offset="0.1489" stop-color="#40b5c4"/><stop offset="0.1973" stop-color="#279bc1"/><stop offset="0.2188" stop-color="#1d8fbf"/><stop offset="0.2655" stop-color="#2078b4"/><stop offset="0.3318" stop-color="#216dae"/><stop offset="0.6260" stop-color="#2267ac"/><stop offset="0.6511" stop-color="#216bae"/><stop offset="0.6529" stop-color="#2171b0"/><stop offset="0.6547" stop-color="#36abc3"/><stop offset="0.6565" stop-color="#50bcc2"/><stop offset="0.6583" stop-color="#5ec1c0"/><stop offset="0.6601" stop-color="#54bdc1"/><stop offset="0.6619" stop-color="#1d8ebf"/><stop offset="0.6637" stop-color="#2073b2"/><stop offset="0.6655" stop-color="#216dae"/><stop offset="0.6780" stop-color="#2268ac"/><stop offset="1.0000" stop-color="#2266ab"/></linearGradient><linearGradient id="h40" x1="0" y1="0" x2="0" y2="1"><stop offset="0.0000" stop-color="#39adc3"/><stop offset="0.0377" stop-color="#39adc3"/><stop offset="0.0395" stop-color="#2094c0"/><stop offset="0.0413" stop-color="#1e85ba"/><stop offset="0.0430" stop-color="#1d8fbf"/><stop offset="0.0448" stop-color="#2599c1"/><stop offset="0.1256" stop-color="#41b6c4"/><stop offset="0.1489" stop-color="#41b6c4"/><stop offset="0.1883" stop-color="#2ea3c2"/><stop offset="0.2206" stop-color="#1d90bf"/><stop offset="0.2673" stop-color="#2079b4"/><stop offset="0.3318" stop-color="#216dae"/><stop offset="0.6135" stop-color="#2267ac"/><stop offset="0.6493" stop-color="#216aad"/><stop offset="0.6529" stop-color="#2170b0"/><stop offset="0.6547" stop-color="#31a6c2"/><stop offset="0.6565" stop-color="#4ebbc2"/><stop offset="0.6583" stop-color="#53bdc1"/><stop offset="0.6601" stop-color="#63c3bf"/><stop offset="0.6619" stop-color="#2397c1"/><stop offset="0.6637" stop-color="#2077b3"/><stop offset="0.6655" stop-color="#216eaf"/><stop offset="0.6744" stop-color="#2268ac"/><stop offset="1.0000" stop-color="#2266ab"/></linearGradient><linearGradient id="h41" x1="0" y1="0" x2="0" y2="1"><stop offset="0.0000" stop-color="#38adc3"/><stop offset="0.0377" stop-color="#38adc3"/><stop offset="0.0395" stop-color="#1f93c0"/><stop offset="0.0413" stop-color="#1e84ba"/><stop offset="0.0430" stop-color="#1d8ebf"/><stop offset="0.0448" stop-color="#2498c1"/><stop offset="0.1291" stop-color="#42b6c4"/><stop offset="0.1507" stop-color="#42b6c4"/><stop offset="0.1865" stop-color="#32a6c2"/><stop offset="0.2242" stop-color="#1d90bf"/><stop offset="0.2709" stop-color="#2079b4"/><stop offset="0.3354" stop-color="#216dae"/><stop offset="0.6170" stop-color="#2267ac"/><stop offset="0.6493" stop-color="#216aad"/><stop offset="0.6529" stop-color="#216faf"/><stop offset="0.6547" stop-color="#2ca0c2"/><stop offset="0.6565" stop-color="#4dbbc2"/><stop offset="0.6583" stop-color="#47b8c3"/><stop offset="0.6601" stop-color="#6ec7bd"/><stop offset="0.6619" stop-color="#2da1c2"/><stop offset="0.6637" stop-color="#1f7bb5"/><stop offset="0.6655" stop-color="#216faf"/><stop offset="0.6726" stop-color="#2268ac"/><stop offset="1.0000" stop-color="#2266ab"/></linearGradient><linearGradient id="h42" x1="0" y1="0" x2="0" y2="1"><stop offset="0.0000" stop-color="#38adc3"/><stop offset="0.0377" stop-color="#38adc3"/><stop offset="0.0395" stop-color="#1e92c0"/><stop offset="0.0413" stop-color="#1e84ba"/><stop offset="0.0430" stop-color="#1d8ebe"/><stop offset="0.0448" stop-color="#2397c1"/><stop offset="0.1327" stop-color="#42b7c4"/><stop offset="0.1543" stop-color="#42b6c4"/><stop offset="0.1883" stop-color="#33a7c2"/><stop offset="0.2278" stop-color="#1d8fbf"/><stop offset="0.2744" stop-color="#2079b4"/><stop offset="0.3390" stop-color="#216dae"/><stop offset="0.6206" stop-color="#2267ac"/><stop offset="0.6511" stop-color="#216bad"/><stop offset="0.6529" stop-color="#216eaf"/><stop offset="0.6547" stop-color="#279bc1"/><stop offset="0.6565" stop-color="#4dbbc2"/><stop offset="0.6583" stop-color="#3eb2c4"/><stop offset="0.6601" stop-color="#72c8bd"/><stop offset="0.6619" stop-color="#37acc3"/><stop offset="0.6637" stop-color="#1f80b8"/><stop offset="0.6655" stop-color="#2170b0"/><stop offset="0.6709" stop-color="#2169ad"/><stop offset="0.9901" stop-color="#2266ab"/><stop offset="1.0000" stop-color="#2266ab"/></linearGradient><linearGradient id="h43" x1="0" y1="0" x2="0" y2="1"><stop offset="0.0000" stop-color="#38acc3"/><stop offset="0.0377" stop-color="#37acc3"/><stop offset="0.0395" stop-color="#1e92c0"/><stop offset="0.0413" stop-color="#1f83b9"/><stop offset="0.0430" stop-color="#1d8dbe"/><stop offset="0.0448" stop-color="#2296c1"/><stop offset="0.1363" stop-color="#43b7c4"/><stop offset="0.1578" stop-color="#43b7c4"/><stop offset="0.1919" stop-color="#33a8c2"/><stop offset="0.2314" stop-color="#1d90bf"/><stop offset="0.2780" stop-color="#2079b4"/><stop offset="0.3426" stop-color="#216dae"/><stop offset="0.6224" stop-color="#2267ac"/><stop offset="0.6511" stop-color="#216bad"/><stop offset="0.6529" stop-color="#216eaf"/><stop offset="0.6547" stop-color="#2296c1"/><stop offset="0.6565" stop-color="#4ebbc2"/><stop offset="0.6583" stop-color="#37acc3"/><stop offset="0.6601" stop-color="#70c8bd"/><stop offset="0.6619" stop-color="#42b7c4"/><stop offset="0.6637" stop-color="#1e87bb"/><stop offset="0.6655" stop-color="#2072b1"/><stop offset="0.6691" stop-color="#216bad"/><stop offset="0.7103" stop-color="#2267ab"/><stop offset="1.0000" stop-color="#2266ab"/></linearGradient><linearGradient id="h44" x1="0" y1="0" x2="0" y2="1"><stop offset="0.0000" stop-color="#37abc3"/><stop offset="0.0377" stop-color="#37abc3"/><stop offset="0.0395" stop-color="#1d91c0"/><stop offset="0.0413" stop-color="#1f82b9"/><stop offset="0.0430" stop-color="#1e8cbd"/><stop offset="0.0448" stop-color="#2196c0"/><stop offset="0.1417" stop-color="#43b7c4"/><stop offset="0.1632" stop-color="#43b7c4"/><stop offset="0.1973" stop-color="#33a7c2"/><stop offset="0.2368" stop-color="#1d8fbf"/><stop offset="0.2834" stop-color="#2078b4"/><stop offset="0.3480" stop-color="#216dae"/><stop offset="0.6296" stop-color="#2267ac"/><stop offset="0.6511" stop-color="#216bad"/><stop offset="0.6529" stop-color="#216daf"/><stop offset="0.6547" stop-color="#1e92c0"/><stop offset="0.6565" stop-color="#4fbbc2"/><stop offset="0.6583" stop-color="#31a6c2"/><stop offset="0.6601" stop-color="#6ac5be"/><stop offset="0.6619" stop-color="#55bdc1"/><stop offset="0.6637" stop-color="#1d8fbf"/><stop offset="0.6655" stop-color="#2074b2"/><stop offset="0.6673" stop-color="#216daf"/><stop offset="0.6780" stop-color="#2268ac"/><stop offset="1.0000" stop-color="#2266ab"/></linearGradient><linearGradient id="h45" x1="0" y1="0" x2="0" y2="1"><stop offset="0.0000" stop-color="#36abc3"/><stop offset="0.0377" stop-color="#36aac3"/><stop offset="0.0395" stop-color="#1d90bf"/><stop offset="0.0413" stop-color="#1f82b8"/><stop offset="0.0448" stop-color="#2195c0"/><stop offset="0.1453" stop-color="#44b7c4"/><stop offset="0.1668" stop-color="#44b7c4"/><stop offset="0.1991" stop-color="#34a9c3"/><stop offset="0.2404" stop-color="#1d90bf"/><stop offset="0.2870" stop-color="#2078b4"/><stop offset="0.3516" stop-color="#216dae"/><stop offset="0.6296" stop-color="#2268ac"/><stop offset="0.6511" stop-color="#216bad"/><stop offset="0.6529" stop-color="#216dae"/><stop offset="0.6547" stop-color="#1d8dbe"/><stop offset="0.6565" stop-color="#51bcc2"/><stop offset="0.6583" stop-color="#2da1c2"/><stop offset="0.6601" stop-color="#60c2bf"/><stop offset="0.6619" stop-color="#65c3bf"/><stop offset="0.6637" stop-color="#2498c1"/><stop offset="0.6655" stop-color="#2078b4"/><stop offset="0.6673" stop-color="#216eaf"/><stop offset="0.6762" stop-color="#2268ac"/><stop offset="1.0000" stop-color="#2266ab"/></linearGradient><linearGradient id="h46" x1="0" y1="0" x2="0" y2="1"><stop offset="0.0000" stop-color="#35aac3"/><stop offset="0.0377" stop-color="#35aac3"/><stop offset="0.0395" stop-color="#1d8fbf"/><stop offset="0.0413" stop-color="#1f81b8"/><stop offset="0.0448" stop-color="#2094c0"/><stop offset="0.1220" stop-color="#3aafc3"/><stop offset="0.1561" stop-color="#45b8c3"/><stop offset="0.1776" stop-color="#41b6c4"/><stop offset="0.2296" stop-color="#2499c1"/><stop offset="0.2457" stop-color="#1d8fbf"/><stop offset="0.2906" stop-color="#2079b4"/><stop offset="0.3534" stop-color="#216dae"/><stop offset="0.6224" stop-color="#2267ac"/><stop offset="0.6511" stop-color="#216bad"/><stop offset="0.6529" stop-color="#216cae"/><stop offset="0.6547" stop-color="#1e88bc"/><stop offset="0.6565" stop-color="#51bcc2"/><stop offset="0.6583" stop-color="#299dc1"/><stop offset="0.6601" stop-color="#54bdc1"/><stop offset="0.6619" stop-color="#71c8bd"/><stop offset="0.6637" stop-color="#2da1c2"/><stop offset="0.6655" stop-color="#1f7cb6"/><stop offset="0.6673" stop-color="#2170b0"/><stop offset="0.6744" stop-color="#2169ac"/><stop offset="1.0000" stop-color="#2266ab"/></linearGradient><linearGradient id="h47" x1="0" y1="0" x2="0" y2="1"><stop offset="0.0000" stop-color="#34a9c3"/><stop offset="0.0377" stop-color="#34a9c3"/><stop offset="0.0395" stop-color="#1d8ebf"/><stop offset="0.0413" stop-color="#1f80b8"/><stop offset="0.0448" stop-color="#1f93c0"/><stop offset="0.1166" stop-color="#37abc3"/><stop offset="0.1561" stop-color="#45b8c3"/><stop offset="0.1776" stop-color="#44b7c4"/><stop offset="0.2099" stop-color="#34a8c3"/><stop offset="0.2493" stop-color="#1d8fbf"/><stop offset="0.2942" stop-color="#2079b4"/><stop offset="0.3570" stop-color="#216dae"/><stop offset="0.6224" stop-color="#2267ac"/><stop offset="0.6511" stop-color="#216bad"/><stop offset="0.6529" stop-color="#216cae"/><stop offset="0.6547" stop-color="#1e84ba"/><stop offset="0.6565" stop-color="#52bcc2"/><stop offset="0.6583" stop-color="#269ac1"/><stop offset="0.6601" stop-color="#47b8c3"/><stop offset="0.6619" stop-color="#79cbbc"/><stop offset="0.6637" stop-color="#37acc3"/><stop offset="0.6655" stop-color="#1f81b8"/><stop offset="0.6673" stop-color="#2171b0"/><stop offset="0.6709" stop-color="#216bad"/><stop offset="0.7139" stop-color="#2267ab"/><stop offset="1.0000" stop-color="#2266ab"/></linearGradient><linearGradient id="h48" x1="0" y1="0" x2="0" y2="1"><stop offset="0.0000" stop-color="#33a8c2"/><stop offset="0.0377" stop-color="#33a8c2"/><stop offset="0.0395" stop-color="#1d8dbe"/><stop offset="0.0413" stop-color="#1f80b8"/><stop offset="0.0448" stop-color="#1e92c0"/><stop offset="0.1148" stop-color="#34a9c3"/><stop offset="0.1578" stop-color="#45b7c3"/><stop offset="0.1794" stop-color="#45b8c3"/><stop offset="0.2063" stop-color="#39adc3"/><stop offset="0.2547" stop-color="#1d8fbf"/><stop offset="0.2996" stop-color="#2079b4"/><stop offset="0.3623" stop-color="#216dae"/><stop offset="0.6278" stop-color="#2268ac"/><stop offset="0.6511" stop-color="#216aad"/><stop offset="0.6529" stop-color="#216cae"/><stop offset="0.6547" stop-color="#1f80b8"/><stop offset="0.6565" stop-color="#51bcc2"/><stop offset="0.6583" stop-color="#2599c1"/><stop offset="0.6601" stop-color="#3db2c4"/><stop offset="0.6619" stop-color="#7acbbc"/><stop offset="0.6637" stop-color="#42b6c4"/><stop offset="0.6655" stop-color="#1e88bc"/><stop offset="0.6673" stop-color="#2073b1"/><stop offset="0.6709" stop-color="#216bad"/><stop offset="0.7049" stop-color="#2267ab"/><stop offset="1.0000" stop-color="#2266ab"/></linearGradient><linearGradient id="h49" x1="0" y1="0" x2="0" y2="1"><stop offset="0.0000" stop-color="#32a7c2"/><stop offset="0.0377" stop-color="#32a7c2"/><stop offset="0.0395" stop-color="#1d8dbe"/><stop offset="0.0413" stop-color="#1f7fb7"/><stop offset="0.0448" stop-color="#1e92c0"/><stop offset="0.1148" stop-color="#32a7c2"/><stop offset="0.1614" stop-color="#45b7c3"/><stop offset="0.1848" stop-color="#46b8c3"/><stop offset="0.2117" stop-color="#38adc3"/><stop offset="0.2583" stop-color="#1d90bf"/><stop offset="0.3031" stop-color="#2079b4"/><stop offset="0.3659" stop-color="#216dae"/><stop offset="0.6278" stop-color="#2268ac"/><stop offset="0.6529" stop-color="#216cae"/><stop offset="0.6547" stop-color="#1f7db6"/><stop offset="0.6565" stop-color="#50bbc2"/><stop offset="0.6583" stop-color="#2498c1"/><stop offset="0.6601" stop-color="#36abc3"/><stop offset="0.6619" stop-color="#77cabc"/><stop offset="0.6637" stop-color="#55bdc1"/><stop offset="0.6655" stop-color="#1d90c0"/><stop offset="0.6673" stop-color="#2076b3"/><stop offset="0.6691" stop-color="#216eaf"/><stop offset="0.6798" stop-color="#2268ac"/><stop offset="1.0000" stop-color="#2266ab"/></linearGradient><linearGradient id="h50" x1="0" y1="0" x2="0" y2="1"><stop offset="0.0000" stop-color="#32a6c2"/><stop offset="0.0377" stop-color="#31a6c2"/><stop offset="0.0395" stop-color="#1e8cbe"/><stop offset="0.0413" stop-color="#1f7fb7"/><stop offset="0.0448" stop-color="#1d91c0"/><stop offset="0.1148" stop-color="#31a5c2"/><stop offset="0.1650" stop-color="#45b7c3"/><stop offset="0.1883" stop-color="#46b8c3"/><stop offset="0.2135" stop-color="#3aafc3"/><stop offset="0.2637" stop-color="#1d8fbf"/><stop offset="0.3085" stop-color="#2079b4"/><stop offset="0.3713" stop-color="#216dae"/><stop offset="0.6314" stop-color="#2268ac"/><stop offset="0.6529" stop-color="#216cae"/><stop offset="0.6547" stop-color="#207ab5"/><stop offset="0.6565" stop-color="#4dbac2"/><stop offset="0.6583" stop-color="#2499c1"/><stop offset="0.6601" stop-color="#2fa4c2"/><stop offset="0.6619" stop-color="#6fc7bd"/><stop offset="0.6637" stop-color="#66c4bf"/><stop offset="0.6655" stop-color="#2499c1"/><stop offset="0.6673" stop-color="#2079b4"/><stop offset="0.6691" stop-color="#216faf"/><stop offset="0.6762" stop-color="#2169ac"/><stop offset="1.0000" stop-color="#2266ab"/></linearGradient><linearGradient id="h51" x1="0" y1="0" x2="0" y2="1"><stop offset="0.0000" stop-color="#31a5c2"/><stop offset="0.0377" stop-color="#31a5c2"/><stop offset="0.0395" stop-color="#1e8bbd"/><stop offset="0.0413" stop-color="#1f7eb7"/><stop offset="0.0448" stop-color="#1d90c0"/><stop offset="0.1094" stop-color="#2da2c2"/><stop offset="0.1686" stop-color="#45b7c3"/><stop offset="0.1919" stop-color="#47b8c3"/><stop offset="0.2170" stop-color="#3bb0c3"/><stop offset="0.2673" stop-color="#1d90bf"/><stop offset="0.3121" stop-color="#2079b4"/><stop offset="0.3731" stop-color="#216dae"/><stop offset="0.6260" stop-color="#2268ac"/><stop offset="0.6529" stop-color="#216bae"/><stop offset="0.6547" stop-color="#2077b3"/><stop offset="0.6565" stop-color="#4ab9c3"/><stop offset="0.6583" stop-color="#269ac1"/><stop offset="0.6601" stop-color="#299dc1"/><stop offset="0.6619" stop-color="#65c3bf"/><stop offset="0.6637" stop-color="#74c9bd"/><stop offset="0.6655" stop-color="#2da2c2"/><stop offset="0.6673" stop-color="#1f7db6"/><stop offset="0.6691" stop-color="#2170b0"/><stop offset="0.6744" stop-color="#216aad"/><stop offset="0.8323" stop-color="#2267ab"/><stop offset="1.0000" stop-color="#2266ab"/></linearGradient><linearGradient id="h52" x1="0" y1="0" x2="0" y2="1"><stop offset="0.0000" stop-color="#30a4c2"/><stop offset="0.0377" stop-color="#30a4c2"/><stop offset="0.0395" stop-color="#1e8bbd"/><stop offset="0.0413" stop-color="#1f7eb7"/><stop offset="0.0448" stop-color="#1d8fbf"/><stop offset="0.1058" stop-color="#2a9fc1"/><stop offset="0.1722" stop-color="#45b7c3"/><stop offset="0.1955" stop-color="#48b9c3"/><stop offset="0.2206" stop-color="#3cb1c3"/><stop offset="0.2726" stop-color="#1d8fbf"/><stop offset="0.3175" stop-color="#2079b4"/><stop offset="0.3803" stop-color="#216dae"/><stop offset="0.6350" stop-color="#2268ac"/><stop offset="0.6529" stop-color="#216bae"/><stop offset="0.6547" stop-color="#2075b2"/><stop offset="0.6565" stop-color="#45b7c3"/><stop offset="0.6583" stop-color="#289cc1"/><stop offset="0.6601" stop-color="#2498c1"/><stop offset="0.6619" stop-color="#59bfc0"/><stop offset="0.6637" stop-color="#7ecdbb"/><stop offset="0.6655" stop-color="#37acc3"/><stop offset="0.6673" stop-color="#1f83b9"/><stop offset="0.6691" stop-color="#2072b1"/><stop offset="0.6726" stop-color="#216bad"/><stop offset="0.7085" stop-color="#2267ac"/><stop offset="1.0000" stop-color="#2266ab"/></linearGradient><linearGradient id="h53" x1="0" y1="0" x2="0" y2="1"><stop offset="0.0000" stop-color="#2fa4c2"/><stop offset="0.0377" stop-color="#2fa3c2"/><stop offset="0.0395" stop-color="#1e8abd"/><stop offset="0.0413" stop-color="#1f7eb6"/><stop offset="0.0448" stop-color="#1d8fbf"/><stop offset="0.0987" stop-color="#279bc1"/><stop offset="0.1776" stop-color="#46b8c3"/><stop offset="0.2009" stop-color="#48b9c3"/><stop offset="0.2260" stop-color="#3cb0c3"/><stop offset="0.2780" stop-color="#1d8fbf"/><stop offset="0.3229" stop-color="#2078b4"/><stop offset="0.3857" stop-color="#216dae"/><stop offset="0.6368" stop-color="#2268ac"/><stop offset="0.6529" stop-color="#216bae"/><stop offset="0.6547" stop-color="#2073b1"/><stop offset="0.6565" stop-color="#40b5c4"/><stop offset="0.6583" stop-color="#2a9fc1"/><stop offset="0.6601" stop-color="#1f93c0"/><stop offset="0.6619" stop-color="#4dbac2"/><stop offset="0.6637" stop-color="#83cfbb"/><stop offset="0.6655" stop-color="#42b6c4"/><stop offset="0.6673" stop-color="#1e89bc"/><stop offset="0.6691" stop-color="#2074b2"/><stop offset="0.6726" stop-color="#216bae"/><stop offset="0.7013" stop-color="#2267ac"/><stop offset="1.0000" stop-color="#2266ab"/></linearGradient><linearGradient id="h54" x1="0" y1="0" x2="0" y2="1"><stop offset="0.0000" stop-color="#2ea3c2"/><stop offset="0.0377" stop-color="#2ea3c2"/><stop offset="0.0395" stop-color="#1e8abd"/><stop offset="0.0413" stop-color="#1f7db6"/><stop offset="0.0448" stop-color="#1d8ebf"/><stop offset="0.0879" stop-color="#2397c1"/><stop offset="0.1722" stop-color="#41b6c4"/><stop offset="0.1991" stop-color="#49b9c3"/><stop offset="0.2224" stop-color="#40b5c4"/><stop offset="0.2816" stop-color="#1d90bf"/><stop offset="0.3247" stop-color="#2079b4"/><stop offset="0.3839" stop-color="#216daf"/><stop offset="0.6224" stop-color="#2268ac"/><stop offset="0.6529" stop-color="#216bae"/><stop offset="0.6547" stop-color="#2072b1"/><stop offset="0.6565" stop-color="#3db1c4"/><stop offset="0.6583" stop-color="#2ea2c2"/><stop offset="0.6601" stop-color="#1d8ebf"/><stop offset="0.6619" stop-color="#40b5c4"/><stop offset="0.6637" stop-color="#82cebb"/><stop offset="0.6655" stop-color="#55bdc1"/><stop offset="0.6673" stop-color="#1d91c0"/><stop offset="0.6691" stop-color="#2077b3"/><stop offset="0.6709" stop-color="#216faf"/><stop offset="0.6798" stop-color="#2169ac"/><stop offset="1.0000" stop-color="#2266ab"/></linearGradient><linearGradient id="h55" x1="0" y1="0" x2="0" y2="1"><stop offset="0.0000" stop-color="#2da2c2"/><stop offset="0.0377" stop-color="#2da2c2"/><stop offset="0.0395" stop-color="#1e89bc"/><stop offset="0.0413" stop-color="#1f7db6"/><stop offset="0.0448" stop-color="#1d8ebe"/><stop offset="0.0843" stop-color="#2195c0"/><stop offset="0.1507" stop-color="#37acc3"/><stop offset="0.1883" stop-color="#47b8c3"/><stop offset="0.2117" stop-color="#49b9c3"/><stop offset="0.2368" stop-color="#3bb0c3"/><stop offset="0.2870" stop-color="#1d8fbf"/><stop offset="0.3300" stop-color="#2079b4"/><stop offset="0.3910" stop-color="#216dae"/><stop offset="0.6332" stop-color="#2268ac"/><stop offset="0.6529" stop-color="#216bad"/><stop offset="0.6547" stop-color="#2171b0"/><stop offset="0.6565" stop-color="#39aec3"/><stop offset="0.6583" stop-color="#30a4c2"/><stop offset="0.6601" stop-color="#1e8abd"/><stop offset="0.6619" stop-color="#3aaec3"/><stop offset="0.6637" stop-color="#7dccbb"/><stop offset="0.6655" stop-color="#65c4bf"/><stop offset="0.6673" stop-color="#2599c1"/><stop offset="0.6691" stop-color="#207ab5"/><stop offset="0.6709" stop-color="#2170b0"/><stop offset="0.6780" stop-color="#2169ad"/><stop offset="1.0000" stop-color="#2266ab"/></linearGradient><linearGradient id="h56" x1="0" y1="0" x2="0" y2="1"><stop offset="0.0000" stop-color="#2ca0c2"/><stop offset="0.0377" stop-color="#2ca0c2"/><stop offset="0.0395" stop-color="#1e89bc"/><stop offset="0.0413" stop-color="#1f7db6"/><stop offset="0.0448" stop-color="#1d8dbe"/><stop offset="0.0861" stop-color="#2195c0"/><stop offset="0.1525" stop-color="#36abc3"/><stop offset="0.1919" stop-color="#47b8c3"/><stop offset="0.2152" stop-color="#49b9c3"/><stop offset="0.2404" stop-color="#3cb1c3"/><stop offset="0.2906" stop-color="#1d90bf"/><stop offset="0.3336" stop-color="#2079b4"/><stop offset="0.3928" stop-color="#216daf"/><stop offset="0.6278" stop-color="#2268ac"/><stop offset="0.6529" stop-color="#216bad"/><stop offset="0.6547" stop-color="#2170b0"/><stop offset="0.6565" stop-color="#38adc3"/><stop offset="0.6583" stop-color="#30a4c2"/><stop offset="0.6601" stop-color="#1e87bb"/><stop offset="0.6619" stop-color="#34a9c3"/><stop offset="0.6637" stop-color="#77cabc"/><stop offset="0.6655" stop-color="#73c9bd"/><stop offset="0.6673" stop-color="#2ca1c2"/><stop offset="0.6691" stop-color="#1f7eb7"/><stop offset="0.6709" stop-color="#2171b0"/><stop offset="0.6762" stop-color="#216aad"/><stop offset="0.7874" stop-color="#2267ab"/><stop offset="1.0000" stop-color="#2266ab"/></linearGradient><linearGradient id="h57" x1="0" y1="0" x2="0" y2="1"><stop offset="0.0000" stop-color="#2b9fc2"/><stop offset="0.0377" stop-color="#2b9fc2"/><stop offset="0.0395" stop-color="#1e89bc"/><stop offset="0.0413" stop-color="#1f7db6"/><stop offset="0.0448" stop-color="#1d8dbe"/><stop offset="0.0861" stop-color="#2094c0"/><stop offset="0.1507" stop-color="#34a9c3"/><stop offset="0.1937" stop-color="#47b8c3"/><stop offset="0.2170" stop-color="#4ab9c3"/><stop offset="0.2422" stop-color="#3eb2c4"/><stop offset="0.2942" stop-color="#1d90c0"/><stop offset="0.3372" stop-color="#2079b4"/><stop offset="0.3964" stop-color="#216daf"/><stop offset="0.6296" stop-color="#2268ac"/><stop offset="0.6529" stop-color="#216bad"/><stop offset="0.6547" stop-color="#2170b0"/><stop offset="0.6565" stop-color="#37acc3"/><stop offset="0.6583" stop-color="#2fa4c2"/><stop offset="0.6601" stop-color="#1e84ba"/><stop offset="0.6619" stop-color="#2fa3c2"/><stop offset="0.6637" stop-color="#6fc7bd"/><stop offset="0.6655" stop-color="#7ecdbb"/><stop offset="0.6673" stop-color="#34a9c3"/><stop offset="0.6691" stop-color="#1f82b9"/><stop offset="0.6709" stop-color="#2072b1"/><stop offset="0.6744" stop-color="#216bae"/><stop offset="0.7067" stop-color="#2267ac"/><stop offset="1.0000" stop-color="#2266ab"/></linearGradient><linearGradient id="h58" x1="0" y1="0" x2="0" y2="1"><stop offset="0.0000" stop-color="#2a9ec1"/><stop offset="0.0377" stop-color="#299ec1"/><stop offset="0.0395" stop-color="#1e88bc"/><stop offset="0.0413" stop-color="#1f7cb6"/><stop offset="0.0448" stop-color="#1e8cbe"/><stop offset="0.0897" stop-color="#2094c0"/><stop offset="0.1543" stop-color="#34a8c3"/><stop offset="0.1973" stop-color="#47b8c3"/><stop offset="0.2224" stop-color="#4bbac3"/><stop offset="0.2475" stop-color="#3db2c4"/><stop offset="0.2996" stop-color="#1d8fbf"/><stop offset="0.3426" stop-color="#2079b4"/><stop offset="0.4018" stop-color="#216dae"/><stop offset="0.6332" stop-color="#2268ac"/><stop offset="0.6529" stop-color="#216bad"/><stop offset="0.6547" stop-color="#2170b0"/><stop offset="0.6565" stop-color="#36abc3"/><stop offset="0.6583" stop-color="#2fa4c2"/><stop offset="0.6601" stop-color="#1f82b9"/><stop offset="0.6619" stop-color="#2a9fc1"/><stop offset="0.6637" stop-color="#66c4bf"/><stop offset="0.6655" stop-color="#88d0ba"/><stop offset="0.6673" stop-color="#3db2c4"/><stop offset="0.6691" stop-color="#1e87bb"/><stop offset="0.6709" stop-color="#2074b2"/><stop offset="0.6744" stop-color="#216cae"/><stop offset="0.7013" stop-color="#2267ac"/><stop offset="1.0000" stop-color="#2266ab"/></linearGradient><linearGradient id="h59" x1="0" y1="0" x2="0" y2="1"><stop offset="0.0000" stop-color="#289dc1"/><stop offset="0.0377" stop-color="#289dc1"/><stop offset="0.0395" stop-color="#1e88bc"/><stop offset="0.0413" stop-color="#1f7cb6"/><stop offset="0.0448" stop-color="#1e8cbd"/><stop offset="0.0915" stop-color="#2094c0"/><stop offset="0.1561" stop-color="#33a7c2"/><stop offset="0.2027" stop-color="#47b8c3"/><stop offset="0.2260" stop-color="#4bbac3"/><stop offset="0.2529" stop-color="#3db2c4"/><stop offset="0.3031" stop-color="#1d90bf"/><stop offset="0.3462" stop-color="#2079b4"/><stop offset="0.4054" stop-color="#216dae"/><stop offset="0.6350" stop-color="#2268ac"/><stop offset="0.6529" stop-color="#216bad"/><stop offset="0.6547" stop-color="#2170b0"/><stop offset="0.6565" stop-color="#35aac3"/><stop offset="0.6583" stop-color="#2fa4c2"/><stop offset="0.6601" stop-color="#1f80b8"/><stop offset="0.6619" stop-color="#269ac1"/><stop offset="0.6637" stop-color="#5cc0c0"/><stop offset="0.6655" stop-color="#8dd3ba"/><stop offset="0.6673" stop-color="#49b9c3"/><stop offset="0.6691" stop-color="#1d8ebe"/><stop offset="0.6709" stop-color="#2076b3"/><stop offset="0.6726" stop-color="#216faf"/><stop offset="0.6816" stop-color="#2169ac"/><stop offset="1.0000" stop-color="#2266ab"/></linearGradient><linearGradient id="h60" x1="0" y1="0" x2="0" y2="1"><stop offset="0.0000" stop-color="#279bc1"/><stop offset="0.0377" stop-color="#279bc1"/><stop offset="0.0395" stop-color="#1e88bb"/><stop offset="0.0413" stop-color="#1f7cb6"/><stop offset="0.0448" stop-color="#1e8bbd"/><stop offset="0.0951" stop-color="#2094c0"/><stop offset="0.1596" stop-color="#33a7c2"/><stop offset="0.2063" stop-color="#48b8c3"/><stop offset="0.2314" stop-color="#4cbac2"/><stop offset="0.2565" stop-color="#3db2c4"/><stop offset="0.3085" stop-color="#1d8fbf"/><stop offset="0.3516" stop-color="#2078b4"/><stop offset="0.4108" stop-color="#216dae"/><stop offset="0.6368" stop-color="#2268ac"/><stop offset="0.6529" stop-color="#216bad"/><stop offset="0.6547" stop-color="#216fb0"/><stop offset="0.6565" stop-color="#34a9c3"/><stop offset="0.6583" stop-color="#2fa4c2"/><stop offset="0.6601" stop-color="#1f7eb7"/><stop offset="0.6619" stop-color="#2296c1"/><stop offset="0.6637" stop-color="#53bdc1"/><stop offset="0.6655" stop-color="#8fd3b9"/><stop offset="0.6673" stop-color="#59bfc1"/><stop offset="0.6691" stop-color="#2094c0"/><stop offset="0.6709" stop-color="#2079b4"/><stop offset="0.6726" stop-color="#2170b0"/><stop offset="0.6798" stop-color="#2169ad"/><stop offset="1.0000" stop-color="#2266ab"/></linearGradient><linearGradient id="h61" x1="0" y1="0" x2="0" y2="1"><stop offset="0.0000" stop-color="#269ac1"/><stop offset="0.0377" stop-color="#269ac1"/><stop offset="0.0395" stop-color="#1e87bb"/><stop offset="0.0413" stop-color="#1f7cb6"/><stop offset="0.0448" stop-color="#1e8bbd"/><stop offset="0.0987" stop-color="#1f94c0"/><stop offset="0.1632" stop-color="#33a7c2"/><stop offset="0.2099" stop-color="#48b8c3"/><stop offset="0.2350" stop-color="#4cbac2"/><stop offset="0.2619" stop-color="#3db2c4"/><stop offset="0.3121" stop-color="#1d90bf"/><stop offset="0.3534" stop-color="#2079b4"/><stop offset="0.4108" stop-color="#216daf"/><stop offset="0.6314" stop-color="#2268ac"/><stop offset="0.6529" stop-color="#216bad"/><stop offset="0.6547" stop-color="#216fb0"/><stop offset="0.6565" stop-color="#33a8c2"/><stop offset="0.6583" stop-color="#2fa4c2"/><stop offset="0.6601" stop-color="#1f7db6"/><stop offset="0.6619" stop-color="#1f93c0"/><stop offset="0.6637" stop-color="#49b9c3"/><stop offset="0.6655" stop-color="#8ed3ba"/><stop offset="0.6673" stop-color="#69c5be"/><stop offset="0.6691" stop-color="#279bc1"/><stop offset="0.6709" stop-color="#1f7cb6"/><stop offset="0.6726" stop-color="#2171b0"/><stop offset="0.6798" stop-color="#216aad"/><stop offset="1.0000" stop-color="#2266ab"/></linearGradient><linearGradient id="h62" x1="0" y1="0" x2="0" y2="1"><stop offset="0.0000" stop-color="#2599c1"/><stop offset="0.0377" stop-color="#2599c1"/><stop offset="0.0395" stop-color="#1e87bb"/><stop offset="0.0413" stop-color="#1f7cb6"/><stop offset="0.0448" stop-color="#1e8bbd"/><stop offset="0.1022" stop-color="#1f94c0"/><stop offset="0.1668" stop-color="#33a7c2"/><stop offset="0.2135" stop-color="#48b8c3"/><stop offset="0.2386" stop-color="#4dbac2"/><stop offset="0.2655" stop-color="#3eb3c4"/><stop offset="0.3157" stop-color="#1d90c0"/><stop offset="0.3570" stop-color="#2079b4"/><stop offset="0.4143" stop-color="#216daf"/><stop offset="0.6314" stop-color="#2268ac"/><stop offset="0.6529" stop-color="#216bad"/><stop offset="0.6547" stop-color="#216faf"/><stop offset="0.6565" stop-color="#32a7c2"/><stop offset="0.6583" stop-color="#30a4c2"/><stop offset="0.6601" stop-color="#1f7bb5"/><stop offset="0.6619" stop-color="#1d8fbf"/><stop offset="0.6637" stop-color="#40b5c4"/><stop offset="0.6655" stop-color="#8ad1ba"/><stop offset="0.6673" stop-color="#78cabc"/><stop offset="0.6691" stop-color="#2ea3c2"/><stop offset="0.6709" stop-color="#1f80b8"/><stop offset="0.6726" stop-color="#2072b1"/><stop offset="0.6780" stop-color="#216aad"/><stop offset="0.7516" stop-color="#2267ab"/><stop offset="1.0000" stop-color="#2266ab"/></linearGradient><linearGradient id="h63" x1="0" y1="0" x2="0" y2="1"><stop offset="0.0000" stop-color="#2398c1"/><stop offset="0.0377" stop-color="#2398c1"/><stop offset="0.0395" stop-color="#1e87bb"/><stop offset="0.0413" stop-color="#1f7cb6"/><stop offset="0.0448" stop-color="#1e8abd"/><stop offset="0.1058" stop-color="#1f93c0"/><stop offset="0.1704" stop-color="#32a7c2"/><stop offset="0.2170" stop-color="#48b8c3"/><stop offset="0.2422" stop-color="#4dbbc2"/><stop offset="0.2619" stop-color="#43b7c4"/><stop offset="0.3211" stop-color="#1d8fbf"/><stop offset="0.3623" stop-color="#2079b4"/><stop offset="0.4197" stop-color="#216dae"/><stop offset="0.6350" stop-color="#2268ac"/><stop offset="0.6529" stop-color="#216bad"/><stop offset="0.6547" stop-color="#216faf"/><stop offset="0.6565" stop-color="#31a6c2"/><stop offset="0.6583" stop-color="#30a4c2"/><stop offset="0.6601" stop-color="#207ab5"/><stop offset="0.6619" stop-color="#1e8cbd"/><stop offset="0.6637" stop-color="#3bb0c3"/><stop offset="0.6655" stop-color="#83cfbb"/><stop offset="0.6673" stop-color="#86d0ba"/><stop offset="0.6691" stop-color="#36abc3"/><stop offset="0.6709" stop-color="#1e85ba"/><stop offset="0.6726" stop-color="#2074b2"/><stop offset="0.6762" stop-color="#216cae"/><stop offset="0.7031" stop-color="#2267ac"/><stop offset="1.0000" stop-color="#2266ab"/></linearGradient><linearGradient id="h64" x1="0" y1="0" x2="0" y2="1"><stop offset="0.0000" stop-color="#2296c1"/><stop offset="0.0377" stop-color="#2296c1"/><stop offset="0.0395" stop-color="#1e87bb"/><stop offset="0.0413" stop-color="#1f7cb6"/><stop offset="0.0448" stop-color="#1e8abd"/><stop offset="0.1076" stop-color="#1f93c0"/><stop offset="0.1722" stop-color="#31a6c2"/><stop offset="0.2224" stop-color="#48b9c3"/><stop offset="0.2475" stop-color="#4ebbc2"/><stop offset="0.2673" stop-color="#43b7c4"/><stop offset="0.3247" stop-color="#1d90bf"/><stop offset="0.3659" stop-color="#2079b4"/><stop offset="0.4233" stop-color="#216daf"/><stop offset="0.6368" stop-color="#2268ac"/><stop offset="0.6529" stop-color="#216bad"/><stop offset="0.6547" stop-color="#216faf"/><stop offset="0.6565" stop-color="#31a5c2"/><stop offset="0.6583" stop-color="#30a4c2"/><stop offset="0.6601" stop-color="#2079b4"/><stop offset="0.6619" stop-color="#1e89bc"/><stop offset="0.6637" stop-color="#36abc3"/><stop offset="0.6655" stop-color="#7cccbc"/><stop offset="0.6673" stop-color="#92d4b9"/><stop offset="0.6691" stop-color="#3fb4c4"/><stop offset="0.6709" stop-color="#1e8abd"/><stop offset="0.6726" stop-color="#2076b3"/><stop offset="0.6762" stop-color="#216cae"/><stop offset="0.6978" stop-color="#2268ac"/><stop offset="1.0000" stop-color="#2266ab"/></linearGradient><linearGradient id="h65" x1="0" y1="0" x2="0" y2="1"><stop offset="0.0000" stop-color="#2195c0"/><stop offset="0.0377" stop-color="#2195c0"/><stop offset="0.0395" stop-color="#1e86bb"/><stop offset="0.0413" stop-color="#1f7cb6"/><stop offset="0.0448" stop-color="#1e8abc"/><stop offset="0.1130" stop-color="#1f93c0"/><stop offset="0.1776" stop-color="#32a7c2"/><stop offset="0.2260" stop-color="#48b9c3"/><stop offset="0.2511" stop-color="#4ebbc2"/><stop offset="0.2709" stop-color="#44b7c4"/><stop offset="0.3300" stop-color="#1d8fbf"/><stop offset="0.3713" stop-color="#2079b4"/><stop offset="0.4287" stop-color="#216dae"/><stop offset="0.6386" stop-color="#2268ac"/><stop offset="0.6529" stop-color="#216bad"/><stop offset="0.6547" stop-color="#216faf"/><stop offset="0.6565" stop-color="#30a4c2"/><stop offset="0.6583" stop-color="#30a5c2"/><stop offset="0.6601" stop-color="#2079b4"/><stop offset="0.6619" stop-color="#1e86bb"/><stop offset="0.6637" stop-color="#31a6c2"/><stop offset="0.6655" stop-color="#73c9bd"/><stop offset="0.6673" stop-color="#9bd8b8"/><stop offset="0.6691" stop-color="#4ebbc2"/><stop offset="0.6709" stop-color="#1d91c0"/><stop offset="0.6726" stop-color="#2078b4"/><stop offset="0.6744" stop-color="#2170b0"/><stop offset="0.6834" stop-color="#2169ac"/><stop offset="1.0000" stop-color="#2266ab"/></linearGradient><linearGradient id="h66" x1="0" y1="0" x2="0" y2="1"><stop offset="0.0000" stop-color="#2094c0"/><stop offset="0.0377" stop-color="#2094c0"/><stop offset="0.0413" stop-color="#1f7cb6"/><stop offset="0.0448" stop-color="#1e89bc"/><stop offset="0.1166" stop-color="#1f93c0"/><stop offset="0.1830" stop-color="#33a7c2"/><stop offset="0.2296" stop-color="#48b9c3"/><stop offset="0.2547" stop-color="#4fbbc2"/><stop offset="0.2744" stop-color="#45b8c3"/><stop offset="0.3336" stop-color="#1d90bf"/><stop offset="0.3749" stop-color="#2079b4"/><stop offset="0.4323" stop-color="#216dae"/><stop offset="0.6386" stop-color="#2268ac"/><stop offset="0.6529" stop-color="#216bad"/><stop offset="0.6547" stop-color="#216eaf"/><stop offset="0.6565" stop-color="#2fa3c2"/><stop offset="0.6583" stop-color="#30a5c2"/><stop offset="0.6601" stop-color="#2078b4"/><stop offset="0.6619" stop-color="#1f83b9"/><stop offset="0.6637" stop-color="#2da1c2"/><stop offset="0.6655" stop-color="#6ac5be"/><stop offset="0.6673" stop-color="#a0dab8"/><stop offset="0.6691" stop-color="#5ec1c0"/><stop offset="0.6709" stop-color="#2397c1"/><stop offset="0.6726" stop-color="#1f7bb5"/><stop offset="0.6744" stop-color="#2171b0"/><stop offset="0.6816" stop-color="#216aad"/><stop offset="0.9040" stop-color="#2266ab"/><stop offset="1.0000" stop-color="#2266ab"/></linearGradient><linearGradient id="h67" x1="0" y1="0" x2="0" y2="1"><stop offset="0.0000" stop-color="#1f94c0"/><stop offset="0.0377" stop-color="#1f93c0"/><stop offset="0.0413" stop-color="#1f7cb6"/><stop offset="0.0448" stop-color="#1e89bc"/><stop offset="0.1202" stop-color="#1f93c0"/><stop offset="0.1865" stop-color="#32a7c2"/><stop offset="0.2350" stop-color="#49b9c3"/><stop offset="0.2601" stop-color="#4fbbc2"/><stop offset="0.2798" stop-color="#45b8c3"/><stop offset="0.3372" stop-color="#1d91c0"/><stop offset="0.3767" stop-color="#207ab5"/><stop offset="0.4305" stop-color="#216eaf"/><stop offset="0.6278" stop-color="#2268ac"/><stop offset="0.6529" stop-color="#216bad"/><stop offset="0.6547" stop-color="#216eaf"/><stop offset="0.6565" stop-color="#2ea2c2"/><stop offset="0.6583" stop-color="#30a5c2"/><stop offset="0.6601" stop-color="#2077b3"/><stop offset="0.6619" stop-color="#1f81b8"/><stop offset="0.6637" stop-color="#299dc1"/><stop offset="0.6655" stop-color="#60c2bf"/><stop offset="0.6673" stop-color="#a1dab8"/><stop offset="0.6691" stop-color="#6ec7bd"/><stop offset="0.6709" stop-color="#299ec1"/><stop offset="0.6726" stop-color="#1f7eb7"/><stop offset="0.6744" stop-color="#2072b1"/><stop offset="0.6798" stop-color="#216bad"/><stop offset="0.7444" stop-color="#2267ab"/><stop offset="1.0000" stop-color="#2266ab"/></linearGradient><linearGradient id="h68" x1="0" y1="0" x2="0" y2="1"><stop offset="0.0000" stop-color="#1f93c0"/><stop offset="0.0377" stop-color="#1f93c0"/><stop offset="0.0413" stop-color="#1f7cb6"/><stop offset="0.0448" stop-color="#1e89bc"/><stop offset="0.1238" stop-color="#1f93c0"/><stop offset="0.1901" stop-color="#32a7c2"/><stop offset="0.2386" stop-color="#49b9c3"/><stop offset="0.2637" stop-color="#50bbc2"/><stop offset="0.2834" stop-color="#46b8c3"/><stop offset="0.3193" stop-color="#2ca0c2"/><stop offset="0.3426" stop-color="#1d90bf"/><stop offset="0.3821" stop-color="#2079b4"/><stop offset="0.4377" stop-color="#216daf"/><stop offset="0.6368" stop-color="#2268ac"/><stop offset="0.6529" stop-color="#216bad"/><stop offset="0.6547" stop-color="#216eaf"/><stop offset="0.6565" stop-color="#2da1c2"/><stop offset="0.6583" stop-color="#31a5c2"/><stop offset="0.6601" stop-color="#2077b3"/><stop offset="0.6619" stop-color="#1f7fb7"/><stop offset="0.6637" stop-color="#2599c1"/><stop offset="0.6655" stop-color="#57bec1"/><stop offset="0.6673" stop-color="#9fd9b8"/><stop offset="0.6691" stop-color="#7eccbb"/><stop offset="0.6709" stop-color="#31a5c2"/><stop offset="0.6726" stop-color="#1f82b9"/><stop offset="0.6744" stop-color="#2074b2"/><stop offset="0.6780" stop-color="#216cae"/><stop offset="0.7031" stop-color="#2268ac"/><stop offset="1.0000" stop-color="#2266ab"/></linearGradient><linearGradient id="h69" x1="0" y1="0" x2="0" y2="1"><stop offset="0.0000" stop-color="#1e92c0"/><stop offset="0.0377" stop-color="#1e92c0"/><stop offset="0.0413" stop-color="#1f7cb6"/><stop offset="0.0448" stop-color="#1e89bc"/><stop offset="0.1274" stop-color="#1f93c0"/><stop offset="0.1937" stop-color="#32a6c2"/><stop offset="0.2422" stop-color="#49b9c3"/><stop offset="0.2673" stop-color="#50bcc2"/><stop offset="0.2852" stop-color="#49b9c3"/><stop offset="0.3085" stop-color="#37acc3"/><stop offset="0.3480" stop-color="#1d8fbf"/><stop offset="0.3874" stop-color="#2079b4"/><stop offset="0.4430" stop-color="#216dae"/><stop offset="0.6386" stop-color="#2169ac"/><stop offset="0.6529" stop-color="#216bad"/><stop offset="0.6547" stop-color="#216eaf"/><stop offset="0.6565" stop-color="#2ca1c2"/><stop offset="0.6583" stop-color="#31a5c2"/><stop offset="0.6601" stop-color="#2076b3"/><stop offset="0.6619" stop-color="#1f7eb7"/><stop offset="0.6637" stop-color="#2296c1"/><stop offset="0.6655" stop-color="#4dbbc2"/><stop offset="0.6673" stop-color="#9ad8b8"/><stop offset="0.6691" stop-color="#8ed3ba"/><stop offset="0.6709" stop-color="#39aec3"/><stop offset="0.6726" stop-color="#1e87bb"/><stop offset="0.6744" stop-color="#2075b2"/><stop offset="0.6780" stop-color="#216dae"/><stop offset="0.6996" stop-color="#2268ac"/><stop offset="1.0000" stop-color="#2266ab"/></linearGradient><linearGradient id="h70" x1="0" y1="0" x2="0" y2="1"><stop offset="0.0000" stop-color="#1d91c0"/><stop offset="0.0377" stop-color="#1d91c0"/><stop offset="0.0413" stop-color="#1f7cb6"/><stop offset="0.0448" stop-color="#1e88bc"/><stop offset="0.1309" stop-color="#1f93c0"/><stop offset="0.1973" stop-color="#32a6c2"/><stop offset="0.2475" stop-color="#4ab9c3"/><stop offset="0.2726" stop-color="#51bcc2"/><stop offset="0.2906" stop-color="#49b9c3"/><stop offset="0.3139" stop-color="#37acc3"/><stop offset="0.3516" stop-color="#1d90bf"/><stop offset="0.3910" stop-color="#2079b4"/><stop offset="0.4448" stop-color="#216daf"/><stop offset="0.6368" stop-color="#2268ac"/><stop offset="0.6529" stop-color="#216bad"/><stop offset="0.6547" stop-color="#216eaf"/><stop offset="0.6565" stop-color="#2ba0c2"/><stop offset="0.6583" stop-color="#31a6c2"/><stop offset="0.6601" stop-color="#2076b3"/><stop offset="0.6619" stop-color="#1f7cb6"/><stop offset="0.6637" stop-color="#1f93c0"/><stop offset="0.6655" stop-color="#44b7c4"/><stop offset="0.6673" stop-color="#93d5b9"/><stop offset="0.6691" stop-color="#9cd8b8"/><stop offset="0.6709" stop-color="#43b7c4"/><stop offset="0.6726" stop-color="#1d8dbe"/><stop offset="0.6744" stop-color="#2077b4"/><stop offset="0.6762" stop-color="#2170b0"/><stop offset="0.6852" stop-color="#2169ad"/><stop offset="1.0000" stop-color="#2266ab"/></linearGradient><linearGradient id="h71" x1="0" y1="0" x2="0" y2="1"><stop offset="0.0000" stop-color="#1d90c0"/><stop offset="0.0377" stop-color="#1d90bf"/><stop offset="0.0413" stop-color="#1f7cb6"/><stop offset="0.0448" stop-color="#1e88bc"/><stop offset="0.1363" stop-color="#1f93c0"/><stop offset="0.2027" stop-color="#32a7c2"/><stop offset="0.2511" stop-color="#49b9c3"/><stop offset="0.2780" stop-color="#51bcc2"/><stop offset="0.2960" stop-color="#49b9c3"/><stop offset="0.3211" stop-color="#35aac3"/><stop offset="0.3570" stop-color="#1d8fbf"/><stop offset="0.3964" stop-color="#2079b4"/><stop offset="0.4520" stop-color="#216dae"/><stop offset="0.6404" stop-color="#2169ac"/><stop offset="0.6529" stop-color="#216bad"/><stop offset="0.6547" stop-color="#216eaf"/><stop offset="0.6565" stop-color="#2a9fc1"/><stop offset="0.6583" stop-color="#31a6c2"/><stop offset="0.6601" stop-color="#2076b3"/><stop offset="0.6619" stop-color="#1f7bb5"/><stop offset="0.6637" stop-color="#1d8fbf"/><stop offset="0.6655" stop-color="#3db2c4"/><stop offset="0.6673" stop-color="#8ad1ba"/><stop offset="0.6691" stop-color="#a7ddb7"/><stop offset="0.6709" stop-color="#53bdc1"/><stop offset="0.6726" stop-color="#1f93c0"/><stop offset="0.6744" stop-color="#207ab5"/><stop offset="0.6762" stop-color="#2171b0"/><stop offset="0.6834" stop-color="#216aad"/><stop offset="0.8484" stop-color="#2267ab"/><stop offset="1.0000" stop-color="#2266ab"/></linearGradient><linearGradient id="h72" x1="0" y1="0" x2="0" y2="1"><stop offset="0.0000" stop-color="#1d8fbf"/><stop offset="0.0377" stop-color="#1d8fbf"/><stop offset="0.0413" stop-color="#1f7cb6"/><stop offset="0.0448" stop-color="#1e88bc"/><stop offset="0.1399" stop-color="#1f93c0"/><stop offset="0.2063" stop-color="#32a7c2"/><stop offset="0.2529" stop-color="#48b9c3"/><stop offset="0.2798" stop-color="#51bcc2"/><stop offset="0.2978" stop-color="#4bbac3"/><stop offset="0.3193" stop-color="#3aafc3"/><stop offset="0.3605" stop-color="#1d90bf"/><stop offset="0.4000" stop-color="#2079b4"/><stop offset="0.4538" stop-color="#216daf"/><stop offset="0.6386" stop-color="#2169ac"/><stop offset="0.6529" stop-color="#216bad"/><stop offset="0.6547" stop-color="#216eaf"/><stop offset="0.6565" stop-color="#2a9ec1"/><stop offset="0.6583" stop-color="#32a6c2"/><stop offset="0.6601" stop-color="#2075b2"/><stop offset="0.6619" stop-color="#207ab5"/><stop offset="0.6637" stop-color="#1e8cbd"/><stop offset="0.6655" stop-color="#38acc3"/><stop offset="0.6673" stop-color="#7fcdbb"/><stop offset="0.6691" stop-color="#aedfb6"/><stop offset="0.6709" stop-color="#65c3bf"/><stop offset="0.6726" stop-color="#269ac1"/><stop offset="0.6744" stop-color="#1f7db6"/><stop offset="0.6762" stop-color="#2072b1"/><stop offset="0.6834" stop-color="#216aad"/><stop offset="0.8126" stop-color="#2267ab"/><stop offset="1.0000" stop-color="#2266ab"/></linearGradient><linearGradient id="h73" x1="0" y1="0" x2="0" y2="1"><stop offset="0.0000" stop-color="#1d8ebf"/><stop offset="0.0377" stop-color="#1d8ebe"/><stop offset="0.0413" stop-color="#1f7cb6"/><stop offset="0.0448" stop-color="#1e88bb"/><stop offset="0.1435" stop-color="#1f93c0"/><stop offset="0.2099" stop-color="#32a6c2"/><stop offset="0.2565" stop-color="#48b9c3"/><stop offset="0.2834" stop-color="#52bcc2"/><stop offset="0.3013" stop-color="#4cbac2"/><stop offset="0.3229" stop-color="#3bb0c3"/><stop offset="0.3641" stop-color="#1d90c0"/><stop offset="0.4018" stop-color="#207ab5"/><stop offset="0.4538" stop-color="#216eaf"/><stop offset="0.6332" stop-color="#2268ac"/><stop offset="0.6529" stop-color="#216bad"/><stop offset="0.6547" stop-color="#216eaf"/><stop offset="0.6565" stop-color="#299dc1"/><stop offset="0.6583" stop-color="#32a6c2"/><stop offset="0.6601" stop-color="#2075b2"/><stop offset="0.6619" stop-color="#2078b4"/><stop offset="0.6637" stop-color="#1e88bc"/><stop offset="0.6655" stop-color="#32a7c2"/><stop offset="0.6673" stop-color="#74c9bd"/><stop offset="0.6691" stop-color="#b1e0b6"/><stop offset="0.6709" stop-color="#77cabc"/><stop offset="0.6726" stop-color="#2ea2c2"/><stop offset="0.6744" stop-color="#1f82b8"/><stop offset="0.6762" stop-color="#2074b2"/><stop offset="0.6798" stop-color="#216dae"/><stop offset="0.7031" stop-color="#2268ac"/><stop offset="1.0000" stop-color="#2266ab"/></linearGradient><linearGradient id="h74" x1="0" y1="0" x2="0" y2="1"><stop offset="0.0000" stop-color="#1d8dbe"/><stop offset="0.0377" stop-color="#1d8dbe"/><stop offset="0.0413" stop-color="#1f7cb6"/><stop offset="0.0448" stop-color="#1e87bb"/><stop offset="0.1471" stop-color="#1f93c0"/><stop offset="0.2135" stop-color="#32a6c2"/><stop offset="0.2601" stop-color="#48b9c3"/><stop offset="0.2870" stop-color="#52bcc2"/><stop offset="0.3049" stop-color="#4dbbc2"/><stop offset="0.3265" stop-color="#3cb0c3"/><stop offset="0.3695" stop-color="#1d90bf"/><stop offset="0.4072" stop-color="#2079b4"/><stop offset="0.4610" stop-color="#216daf"/><stop offset="0.6404" stop-color="#2169ac"/><stop offset="0.6529" stop-color="#216bad"/><stop offset="0.6547" stop-color="#216eaf"/><stop offset="0.6565" stop-color="#289cc1"/><stop offset="0.6583" stop-color="#32a7c2"/><stop offset="0.6601" stop-color="#2075b2"/><stop offset="0.6619" stop-color="#2077b3"/><stop offset="0.6637" stop-color="#1e86ba"/><stop offset="0.6655" stop-color="#2ea2c2"/><stop offset="0.6673" stop-color="#69c5be"/><stop offset="0.6691" stop-color="#b0e0b6"/><stop offset="0.6709" stop-color="#8ad1ba"/><stop offset="0.6726" stop-color="#36abc3"/><stop offset="0.6744" stop-color="#1e87bb"/><stop offset="0.6762" stop-color="#2076b3"/><stop offset="0.6798" stop-color="#216daf"/><stop offset="0.6996" stop-color="#2268ac"/><stop offset="1.0000" stop-color="#2266ab"/></linearGradient><linearGradient id="h75" x1="0" y1="0" x2="0" y2="1"><stop offset="0.0000" stop-color="#1e8cbe"/><stop offset="0.0377" stop-color="#1e8cbe"/><stop offset="0.0413" stop-color="#1f7cb6"/><stop offset="0.0448" stop-color="#1e87bb"/><stop offset="0.1507" stop-color="#1f93c0"/><stop offset="0.2170" stop-color="#31a6c2"/><stop offset="0.2637" stop-color="#48b9c3"/><stop offset="0.2906" stop-color="#53bdc1"/><stop offset="0.3085" stop-color="#4fbbc2"/><stop offset="0.3300" stop-color="#3cb1c3"/><stop offset="0.3731" stop-color="#1d90c0"/><stop offset="0.4108" stop-color="#207ab5"/><stop offset="0.4628" stop-color="#216eaf"/><stop offset="0.6368" stop-color="#2169ac"/><stop offset="0.6529" stop-color="#216bad"/><stop offset="0.6547" stop-color="#216daf"/><stop offset="0.6565" stop-color="#279bc1"/><stop offset="0.6583" stop-color="#32a7c2"/><stop offset="0.6601" stop-color="#2075b2"/><stop offset="0.6619" stop-color="#2077b3"/><stop offset="0.6637" stop-color="#1f83b9"/><stop offset="0.6655" stop-color="#299ec1"/><stop offset="0.6673" stop-color="#5ec1c0"/><stop offset="0.6691" stop-color="#abdeb7"/><stop offset="0.6709" stop-color="#9cd8b8"/><stop offset="0.6726" stop-color="#40b5c4"/><stop offset="0.6744" stop-color="#1d8dbe"/><stop offset="0.6762" stop-color="#2078b4"/><stop offset="0.6780" stop-color="#2171b0"/><stop offset="0.6870" stop-color="#216aad"/><stop offset="1.0000" stop-color="#2266ab"/></linearGradient><linearGradient id="h76" x1="0" y1="0" x2="0" y2="1"><stop offset="0.0000" stop-color="#1e8cbd"/><stop offset="0.0377" stop-color="#1e8cbd"/><stop offset="0.0413" stop-color="#1f7cb6"/><stop offset="0.0448" stop-color="#1e87bb"/><stop offset="0.1561" stop-color="#1f93c0"/><stop offset="0.2224" stop-color="#32a6c2"/><stop offset="0.2673" stop-color="#48b8c3"/><stop offset="0.2942" stop-color="#53bdc1"/><stop offset="0.3121" stop-color="#50bcc2"/><stop offset="0.3354" stop-color="#3cb1c3"/><stop offset="0.3785" stop-color="#1d8fbf"/><stop offset="0.4161" stop-color="#2079b4"/><stop offset="0.4700" stop-color="#216dae"/><stop offset="0.6422" stop-color="#2169ac"/><stop offset="0.6547" stop-color="#216daf"/><stop offset="0.6565" stop-color="#269bc1"/><stop offset="0.6583" stop-color="#33a7c2"/><stop offset="0.6601" stop-color="#2075b2"/><stop offset="0.6619" stop-color="#2076b3"/><stop offset="0.6637" stop-color="#1f82b8"/><stop offset="0.6655" stop-color="#269ac1"/><stop offset="0.6673" stop-color="#54bdc1"/><stop offset="0.6691" stop-color="#a4dbb7"/><stop offset="0.6709" stop-color="#acdeb7"/><stop offset="0.6726" stop-color="#51bcc2"/><stop offset="0.6744" stop-color="#2094c0"/><stop offset="0.6762" stop-color="#1f7bb5"/><stop offset="0.6780" stop-color="#2072b1"/><stop offset="0.6852" stop-color="#216aad"/><stop offset="0.8000" stop-color="#2267ab"/><stop offset="1.0000" stop-color="#2266ab"/></linearGradient><linearGradient id="h77" x1="0" y1="0" x2="0" y2="1"><stop offset="0.0000" stop-color="#1e8bbd"/><stop offset="0.0377" stop-color="#1e8bbd"/><stop offset="0.0413" stop-color="#1f7db6"/><stop offset="0.0448" stop-color="#1e87bb"/><stop offset="0.1596" stop-color="#1f93c0"/><stop offset="0.2242" stop-color="#31a5c2"/><stop offset="0.2691" stop-color="#46b8c3"/><stop offset="0.2978" stop-color="#54bdc1"/><stop offset="0.3157" stop-color="#51bcc2"/><stop offset="0.3390" stop-color="#3db2c4"/><stop offset="0.3821" stop-color="#1d90bf"/><stop offset="0.4197" stop-color="#2079b4"/><stop offset="0.4717" stop-color="#216daf"/><stop offset="0.6404" stop-color="#2169ac"/><stop offset="0.6547" stop-color="#216daf"/><stop offset="0.6565" stop-color="#269ac1"/><stop offset="0.6583" stop-color="#33a7c2"/><stop offset="0.6601" stop-color="#2075b2"/><stop offset="0.6619" stop-color="#2076b3"/><stop offset="0.6637" stop-color="#1f80b8"/><stop offset="0.6655" stop-color="#2397c1"/><stop offset="0.6673" stop-color="#4bbac3"/><stop offset="0.6691" stop-color="#9bd8b8"/><stop offset="0.6709" stop-color="#b7e3b6"/><stop offset="0.6726" stop-color="#64c3bf"/><stop offset="0.6744" stop-color="#279bc1"/><stop offset="0.6762" stop-color="#1f7fb7"/><stop offset="0.6780" stop-color="#2074b2"/><stop offset="0.6834" stop-color="#216cae"/><stop offset="0.7283" stop-color="#2267ac"/><stop offset="1.0000" stop-color="#2266ab"/></linearGradient><linearGradient id="h78" x1="0" y1="0" x2="0" y2="1"><stop offset="0.0000" stop-color="#1e8bbd"/><stop offset="0.0377" stop-color="#1e8bbd"/><stop offset="0.0413" stop-color="#1f7db6"/><stop offset="0.0448" stop-color="#1e87bb"/><stop offset="0.1650" stop-color="#1f93c0"/><stop offset="0.2296" stop-color="#31a6c2"/><stop offset="0.2726" stop-color="#46b8c3"/><stop offset="0.3013" stop-color="#54bdc1"/><stop offset="0.3193" stop-color="#53bcc1"/><stop offset="0.3444" stop-color="#3db1c4"/><stop offset="0.3857" stop-color="#1d90c0"/><stop offset="0.4215" stop-color="#207ab5"/><stop offset="0.4717" stop-color="#216eaf"/><stop offset="0.6368" stop-color="#2169ac"/><stop offset="0.6547" stop-color="#216daf"/><stop offset="0.6565" stop-color="#2599c1"/><stop offset="0.6583" stop-color="#33a8c2"/><stop offset="0.6601" stop-color="#2075b2"/><stop offset="0.6619" stop-color="#2075b2"/><stop offset="0.6637" stop-color="#1f7fb7"/><stop offset="0.6655" stop-color="#2094c0"/><stop offset="0.6673" stop-color="#42b6c4"/><stop offset="0.6691" stop-color="#91d4b9"/><stop offset="0.6709" stop-color="#bee6b5"/><stop offset="0.6726" stop-color="#77cabc"/><stop offset="0.6744" stop-color="#2fa4c2"/><stop offset="0.6762" stop-color="#1e84ba"/><stop offset="0.6780" stop-color="#2075b3"/><stop offset="0.6816" stop-color="#216eaf"/><stop offset="0.7013" stop-color="#2268ac"/><stop offset="1.0000" stop-color="#2266ab"/></linearGradient><linearGradient id="h79" x1="0" y1="0" x2="0" y2="1"><stop offset="0.0000" stop-color="#1e8bbd"/><stop offset="0.0377" stop-color="#1e8bbd"/><stop offset="0.0413" stop-color="#1f7db6"/><stop offset="0.0448" stop-color="#1e86bb"/><stop offset="0.1668" stop-color="#1f93c0"/><stop offset="0.2314" stop-color="#30a5c2"/><stop offset="0.2762" stop-color="#46b8c3"/><stop offset="0.3049" stop-color="#55bdc1"/><stop offset="0.3229" stop-color="#54bdc1"/><stop offset="0.3480" stop-color="#3db2c4"/><stop offset="0.3910" stop-color="#1d8fbf"/><stop offset="0.4269" stop-color="#2079b4"/><stop offset="0.4771" stop-color="#216daf"/><stop offset="0.6386" stop-color="#2169ac"/><stop offset="0.6547" stop-color="#216daf"/><stop offset="0.6565" stop-color="#2498c1"/><stop offset="0.6583" stop-color="#33a8c2"/><stop offset="0.6601" stop-color="#2075b2"/><stop offset="0.6619" stop-color="#2075b2"/><stop offset="0.6637" stop-color="#1f7eb7"/><stop offset="0.6655" stop-color="#1e92c0"/><stop offset="0.6673" stop-color="#3db2c4"/><stop offset="0.6691" stop-color="#86d0ba"/><stop offset="0.6709" stop-color="#c1e6b5"/><stop offset="0.6726" stop-color="#8bd2ba"/><stop offset="0.6744" stop-color="#38adc3"/><stop offset="0.6762" stop-color="#1e89bc"/><stop offset="0.6780" stop-color="#2078b4"/><stop offset="0.6816" stop-color="#216eaf"/><stop offset="0.6996" stop-color="#2268ac"/><stop offset="1.0000" stop-color="#2266ab"/></linearGradient><linearGradient id="h80" x1="0" y1="0" x2="0" y2="1"><stop offset="0.0000" stop-color="#1e8bbd"/><stop offset="0.0377" stop-color="#1e8abd"/><stop offset="0.0413" stop-color="#1f7db6"/><stop offset="0.0448" stop-color="#1e86bb"/><stop offset="0.1704" stop-color="#1e93c0"/><stop offset="0.2350" stop-color="#30a5c2"/><stop offset="0.2798" stop-color="#46b8c3"/><stop offset="0.3085" stop-color="#56bec1"/><stop offset="0.3265" stop-color="#55bdc1"/><stop offset="0.3462" stop-color="#44b7c4"/><stop offset="0.3946" stop-color="#1d90c0"/><stop offset="0.4305" stop-color="#2079b4"/><stop offset="0.4807" stop-color="#216daf"/><stop offset="0.6386" stop-color="#2169ac"/><stop offset="0.6547" stop-color="#216daf"/><stop offset="0.6565" stop-color="#2397c1"/><stop offset="0.6583" stop-color="#34a8c3"/><stop offset="0.6601" stop-color="#2075b2"/><stop offset="0.6619" stop-color="#2075b2"/><stop offset="0.6637" stop-color="#1f7db6"/><stop offset="0.6655" stop-color="#1d8fbf"/><stop offset="0.6673" stop-color="#38adc3"/><stop offset="0.6691" stop-color="#7bccbc"/><stop offset="0.6709" stop-color="#c0e6b5"/><stop offset="0.6726" stop-color="#9ed9b8"/><stop offset="0.6744" stop-color="#42b6c4"/><stop offset="0.6762" stop-color="#1d90c0"/><stop offset="0.6780" stop-color="#207ab5"/><stop offset="0.6798" stop-color="#2072b1"/><stop offset="0.6870" stop-color="#216bad"/><stop offset="0.7803" stop-color="#2267ab"/><stop offset="1.0000" stop-color="#2266ab"/></linearGradient><linearGradient id="h81" x1="0" y1="0" x2="0" y2="1"><stop offset="0.0000" stop-color="#1e8abd"/><stop offset="0.0377" stop-color="#1e8abd"/><stop offset="0.0413" stop-color="#1f7db6"/><stop offset="0.0448" stop-color="#1e86bb"/><stop offset="0.1722" stop-color="#1e92c0"/><stop offset="0.2368" stop-color="#2fa4c2"/><stop offset="0.2834" stop-color="#46b8c3"/><stop offset="0.3121" stop-color="#56bec1"/><stop offset="0.3318" stop-color="#55bec1"/><stop offset="0.3516" stop-color="#43b7c4"/><stop offset="0.3982" stop-color="#1d91c0"/><stop offset="0.4341" stop-color="#207ab5"/><stop offset="0.4825" stop-color="#216eaf"/><stop offset="0.6368" stop-color="#2169ac"/><stop offset="0.6547" stop-color="#216daf"/><stop offset="0.6565" stop-color="#2397c1"/><stop offset="0.6583" stop-color="#34a9c3"/><stop offset="0.6601" stop-color="#2075b2"/><stop offset="0.6619" stop-color="#2074b2"/><stop offset="0.6637" stop-color="#1f7cb6"/><stop offset="0.6655" stop-color="#1e8cbe"/><stop offset="0.6673" stop-color="#34a9c3"/><stop offset="0.6691" stop-color="#71c8bd"/><stop offset="0.6709" stop-color="#bce5b5"/><stop offset="0.6726" stop-color="#b0e0b6"/><stop offset="0.6744" stop-color="#54bdc1"/><stop offset="0.6762" stop-color="#2297c1"/><stop offset="0.6780" stop-color="#1f7eb7"/><stop offset="0.6798" stop-color="#2074b2"/><stop offset="0.6870" stop-color="#216bad"/><stop offset="0.7641" stop-color="#2267ab"/><stop offset="1.0000" stop-color="#2266ab"/></linearGradient><linearGradient id="h82" x1="0" y1="0" x2="0" y2="1"><stop offset="0.0000" stop-color="#1e8abd"/><stop offset="0.0377" stop-color="#1e8abc"/><stop offset="0.0413" stop-color="#1f7db6"/><stop offset="0.0448" stop-color="#1e86bb"/><stop offset="0.1740" stop-color="#1e92c0"/><stop offset="0.2386" stop-color="#2ea3c2"/><stop offset="0.2870" stop-color="#45b8c3"/><stop offset="0.3175" stop-color="#57bec1"/><stop offset="0.3354" stop-color="#57bec1"/><stop offset="0.3534" stop-color="#47b8c3"/><stop offset="0.4018" stop-color="#1d91c0"/><stop offset="0.4377" stop-color="#207ab5"/><stop offset="0.4861" stop-color="#216eaf"/><stop offset="0.6386" stop-color="#2169ad"/><stop offset="0.6547" stop-color="#216daf"/><stop offset="0.6565" stop-color="#2296c1"/><stop offset="0.6583" stop-color="#34a9c3"/><stop offset="0.6601" stop-color="#2075b2"/><stop offset="0.6619" stop-color="#2074b2"/><stop offset="0.6637" stop-color="#1f7bb5"/><stop offset="0.6655" stop-color="#1e8abd"/><stop offset="0.6673" stop-color="#30a5c2"/><stop offset="0.6691" stop-color="#68c4be"/><stop offset="0.6709" stop-color="#b6e2b6"/><stop offset="0.6726" stop-color="#bee5b5"/><stop offset="0.6744" stop-color="#66c4bf"/><stop offset="0.6762" stop-color="#2a9ec1"/><stop offset="0.6780" stop-color="#1f82b9"/><stop offset="0.6798" stop-color="#2075b2"/><stop offset="0.6852" stop-color="#216cae"/><stop offset="0.7211" stop-color="#2268ac"/><stop offset="1.0000" stop-color="#2266ab"/></linearGradient><linearGradient id="h83" x1="0" y1="0" x2="0" y2="1"><stop offset="0.0000" stop-color="#1e8abc"/><stop offset="0.0377" stop-color="#1e89bc"/><stop offset="0.0413" stop-color="#1f7db6"/><stop offset="0.0448" stop-color="#1e86ba"/><stop offset="0.1758" stop-color="#1d91c0"/><stop offset="0.2404" stop-color="#2da2c2"/><stop offset="0.2906" stop-color="#45b8c3"/><stop offset="0.3211" stop-color="#57bec1"/><stop offset="0.3408" stop-color="#57bec1"/><stop offset="0.3587" stop-color="#46b8c3"/><stop offset="0.4054" stop-color="#1e92c0"/><stop offset="0.4413" stop-color="#207ab5"/><stop offset="0.4897" stop-color="#216eaf"/><stop offset="0.6386" stop-color="#2169ad"/><stop offset="0.6547" stop-color="#216daf"/><stop offset="0.6565" stop-color="#2195c0"/><stop offset="0.6583" stop-color="#34a9c3"/><stop offset="0.6601" stop-color="#2075b2"/><stop offset="0.6619" stop-color="#2074b2"/><stop offset="0.6637" stop-color="#207ab5"/><stop offset="0.6655" stop-color="#1e88bc"/><stop offset="0.6673" stop-color="#2da1c2"/><stop offset="0.6691" stop-color="#5ec1c0"/><stop offset="0.6709" stop-color="#aedfb6"/><stop offset="0.6726" stop-color="#c7e9b4"/><stop offset="0.6744" stop-color="#78cbbc"/><stop offset="0.6762" stop-color="#31a6c2"/><stop offset="0.6780" stop-color="#1e87bb"/><stop offset="0.6798" stop-color="#2077b3"/><stop offset="0.6834" stop-color="#216eaf"/><stop offset="0.7013" stop-color="#2268ac"/><stop offset="1.0000" stop-color="#2266ab"/></linearGradient><linearGradient id="h84" x1="0" y1="0" x2="0" y2="1"><stop offset="0.0000" stop-color="#1e89bc"/><stop offset="0.0377" stop-color="#1e89bc"/><stop offset="0.0413" stop-color="#1f7db6"/><stop offset="0.0448" stop-color="#1e85ba"/><stop offset="0.1776" stop-color="#1d91c0"/><stop offset="0.2422" stop-color="#2ca1c2"/><stop offset="0.2942" stop-color="#45b7c3"/><stop offset="0.3247" stop-color="#58bfc1"/><stop offset="0.3444" stop-color="#58bfc1"/><stop offset="0.3623" stop-color="#48b9c3"/><stop offset="0.3910" stop-color="#2da1c2"/><stop offset="0.4126" stop-color="#1d8fbf"/><stop offset="0.4466" stop-color="#2079b4"/><stop offset="0.4951" stop-color="#216daf"/><stop offset="0.6404" stop-color="#2169ad"/><stop offset="0.6547" stop-color="#216daf"/><stop offset="0.6565" stop-color="#2095c0"/><stop offset="0.6583" stop-color="#35a9c3"/><stop offset="0.6601" stop-color="#2075b2"/><stop offset="0.6619" stop-color="#2074b2"/><stop offset="0.6637" stop-color="#207ab5"/><stop offset="0.6655" stop-color="#1e86bb"/><stop offset="0.6673" stop-color="#2a9ec1"/><stop offset="0.6691" stop-color="#56bec1"/><stop offset="0.6709" stop-color="#a4dcb7"/><stop offset="0.6726" stop-color="#cbeab4"/><stop offset="0.6744" stop-color="#8cd2ba"/><stop offset="0.6762" stop-color="#3aafc3"/><stop offset="0.6780" stop-color="#1d8dbe"/><stop offset="0.6798" stop-color="#207ab5"/><stop offset="0.6816" stop-color="#2072b1"/><stop offset="0.6888" stop-color="#216bad"/><stop offset="0.7695" stop-color="#2267ab"/><stop offset="1.0000" stop-color="#2266ab"/></linearGradient><linearGradient id="h85" x1="0" y1="0" x2="0" y2="1"><stop offset="0.0000" stop-color="#1e89bc"/><stop offset="0.0377" stop-color="#1e89bc"/><stop offset="0.0413" stop-color="#1f7db6"/><stop offset="0.0448" stop-color="#1e85ba"/><stop offset="0.1812" stop-color="#1d91c0"/><stop offset="0.2439" stop-color="#2ba0c2"/><stop offset="0.2978" stop-color="#44b7c3"/><stop offset="0.3283" stop-color="#58bfc1"/><stop offset="0.3480" stop-color="#59bfc0"/><stop offset="0.3659" stop-color="#4ab9c3"/><stop offset="0.3857" stop-color="#35aac3"/><stop offset="0.4161" stop-color="#1d90bf"/><stop offset="0.4502" stop-color="#2079b4"/><stop offset="0.4987" stop-color="#216daf"/><stop offset="0.6404" stop-color="#2169ad"/><stop offset="0.6547" stop-color="#216daf"/><stop offset="0.6565" stop-color="#2094c0"/><stop offset="0.6583" stop-color="#35aac3"/><stop offset="0.6601" stop-color="#2075b2"/><stop offset="0.6619" stop-color="#2073b2"/><stop offset="0.6637" stop-color="#2079b4"/><stop offset="0.6655" stop-color="#1e85ba"/><stop offset="0.6673" stop-color="#279bc1"/><stop offset="0.6691" stop-color="#4dbac2"/><stop offset="0.6709" stop-color="#9ad8b8"/><stop offset="0.6726" stop-color="#ccebb4"/><stop offset="0.6744" stop-color="#a0dab8"/><stop offset="0.6762" stop-color="#45b8c3"/><stop offset="0.6780" stop-color="#1f93c0"/><stop offset="0.6798" stop-color="#1f7db6"/><stop offset="0.6816" stop-color="#2074b2"/><stop offset="0.6888" stop-color="#216bae"/><stop offset="0.7552" stop-color="#2267ac"/><stop offset="1.0000" stop-color="#2266ab"/></linearGradient><linearGradient id="h86" x1="0" y1="0" x2="0" y2="1"><stop offset="0.0000" stop-color="#1e89bc"/><stop offset="0.0377" stop-color="#1e89bc"/><stop offset="0.0413" stop-color="#1f7db6"/><stop offset="0.0448" stop-color="#1e85ba"/><stop offset="0.1848" stop-color="#1d90c0"/><stop offset="0.2475" stop-color="#2b9fc2"/><stop offset="0.3013" stop-color="#44b7c4"/><stop offset="0.3318" stop-color="#59bfc1"/><stop offset="0.3516" stop-color="#5bbfc0"/><stop offset="0.3677" stop-color="#4ebbc2"/><stop offset="0.3874" stop-color="#38adc3"/><stop offset="0.4197" stop-color="#1d90c0"/><stop offset="0.4538" stop-color="#2079b4"/><stop offset="0.5004" stop-color="#216eaf"/><stop offset="0.6404" stop-color="#2169ad"/><stop offset="0.6547" stop-color="#216daf"/><stop offset="0.6565" stop-color="#1f93c0"/><stop offset="0.6583" stop-color="#35aac3"/><stop offset="0.6601" stop-color="#2075b2"/><stop offset="0.6619" stop-color="#2073b1"/><stop offset="0.6637" stop-color="#2079b4"/><stop offset="0.6655" stop-color="#1f83b9"/><stop offset="0.6673" stop-color="#2498c1"/><stop offset="0.6691" stop-color="#45b7c3"/><stop offset="0.6709" stop-color="#90d4b9"/><stop offset="0.6726" stop-color="#cbebb4"/><stop offset="0.6744" stop-color="#b2e1b6"/><stop offset="0.6762" stop-color="#56bec1"/><stop offset="0.6780" stop-color="#2599c1"/><stop offset="0.6798" stop-color="#1f81b8"/><stop offset="0.6816" stop-color="#2075b2"/><stop offset="0.6870" stop-color="#216dae"/><stop offset="0.7211" stop-color="#2268ac"/><stop offset="1.0000" stop-color="#2266ab"/></linearGradient><linearGradient id="h87" x1="0" y1="0" x2="0" y2="1"><stop offset="0.0000" stop-color="#1e88bc"/><stop offset="0.0377" stop-color="#1e88bc"/><stop offset="0.0413" stop-color="#1f7db6"/><stop offset="0.0448" stop-color="#1e85ba"/><stop offset="0.1883" stop-color="#1d90c0"/><stop offset="0.2493" stop-color="#2a9ec1"/><stop offset="0.3049" stop-color="#44b7c4"/><stop offset="0.3372" stop-color="#5abfc0"/><stop offset="0.3570" stop-color="#5bc0c0"/><stop offset="0.3731" stop-color="#4dbbc2"/><stop offset="0.3892" stop-color="#3bafc3"/><stop offset="0.4233" stop-color="#1d91c0"/><stop offset="0.4556" stop-color="#207ab5"/><stop offset="0.5004" stop-color="#216eaf"/><stop offset="0.6350" stop-color="#2169ad"/><stop offset="0.6547" stop-color="#216daf"/><stop offset="0.6565" stop-color="#1e92c0"/><stop offset="0.6583" stop-color="#35aac3"/><stop offset="0.6601" stop-color="#2075b2"/><stop offset="0.6619" stop-color="#2073b1"/><stop offset="0.6637" stop-color="#2078b4"/><stop offset="0.6655" stop-color="#1f82b9"/><stop offset="0.6673" stop-color="#2195c0"/><stop offset="0.6691" stop-color="#3db2c4"/><stop offset="0.6709" stop-color="#80cdbb"/><stop offset="0.6726" stop-color="#c8e9b4"/><stop offset="0.6744" stop-color="#c7e9b4"/><stop offset="0.6762" stop-color="#70c7bd"/><stop offset="0.6780" stop-color="#2fa4c2"/><stop offset="0.6798" stop-color="#1e87bb"/><stop offset="0.6816" stop-color="#2078b4"/><stop offset="0.6852" stop-color="#216faf"/><stop offset="0.7013" stop-color="#2169ac"/><stop offset="1.0000" stop-color="#2266ab"/></linearGradient><linearGradient id="h88" x1="0" y1="0" x2="0" y2="1"><stop offset="0.0000" stop-color="#1e88bc"/><stop offset="0.0377" stop-color="#1e88bc"/><stop offset="0.0413" stop-color="#1f7db6"/><stop offset="0.0448" stop-color="#1e85ba"/><stop offset="0.1901" stop-color="#1d90bf"/><stop offset="0.2475" stop-color="#289cc1"/><stop offset="0.3067" stop-color="#42b6c4"/><stop offset="0.3408" stop-color="#5abfc0"/><stop offset="0.3605" stop-color="#5cc0c0"/><stop offset="0.3767" stop-color="#4fbbc2"/><stop offset="0.3946" stop-color="#3aafc3"/><stop offset="0.4287" stop-color="#1d90bf"/><stop offset="0.4610" stop-color="#207ab5"/><stop offset="0.5076" stop-color="#216eaf"/><stop offset="0.6404" stop-color="#216aad"/><stop offset="0.6547" stop-color="#216daf"/><stop offset="0.6565" stop-color="#1d91c0"/><stop offset="0.6583" stop-color="#35a9c3"/><stop offset="0.6601" stop-color="#2075b2"/><stop offset="0.6619" stop-color="#2073b1"/><stop offset="0.6637" stop-color="#2077b3"/><stop offset="0.6655" stop-color="#1f80b7"/><stop offset="0.6673" stop-color="#1d90c0"/><stop offset="0.6691" stop-color="#34a9c3"/><stop offset="0.6709" stop-color="#69c5be"/><stop offset="0.6726" stop-color="#b5e2b6"/><stop offset="0.6744" stop-color="#d0edb3"/><stop offset="0.6762" stop-color="#9dd9b8"/><stop offset="0.6780" stop-color="#47b8c3"/><stop offset="0.6798" stop-color="#2296c1"/><stop offset="0.6816" stop-color="#1f80b7"/><stop offset="0.6834" stop-color="#2076b3"/><stop offset="0.6888" stop-color="#216dae"/><stop offset="0.7211" stop-color="#2268ac"/><stop offset="1.0000" stop-color="#2266ab"/></linearGradient><linearGradient id="h89" x1="0" y1="0" x2="0" y2="1"><stop offset="0.0000" stop-color="#1e88bb"/><stop offset="0.0377" stop-color="#1e88bb"/><stop offset="0.0413" stop-color="#1f7db6"/><stop offset="0.0448" stop-color="#1e85ba"/><stop offset="0.1937" stop-color="#1d90bf"/><stop offset="0.2493" stop-color="#279bc1"/><stop offset="0.3103" stop-color="#41b6c4"/><stop offset="0.3444" stop-color="#5abfc0"/><stop offset="0.3641" stop-color="#5dc1c0"/><stop offset="0.3803" stop-color="#51bcc2"/><stop offset="0.3982" stop-color="#3bb0c3"/><stop offset="0.4323" stop-color="#1d90c0"/><stop offset="0.4646" stop-color="#207ab5"/><stop offset="0.5094" stop-color="#216eaf"/><stop offset="0.6386" stop-color="#216aad"/><stop offset="0.6547" stop-color="#216eaf"/><stop offset="0.6565" stop-color="#1d90c0"/><stop offset="0.6583" stop-color="#34a9c3"/><stop offset="0.6601" stop-color="#2075b3"/><stop offset="0.6619" stop-color="#2073b1"/><stop offset="0.6655" stop-color="#1f7eb7"/><stop offset="0.6673" stop-color="#1e8cbd"/><stop offset="0.6691" stop-color="#2da2c2"/><stop offset="0.6709" stop-color="#55bec1"/><stop offset="0.6726" stop-color="#9dd9b8"/><stop offset="0.6744" stop-color="#cfecb3"/><stop offset="0.6762" stop-color="#c4e8b4"/><stop offset="0.6780" stop-color="#6fc7bd"/><stop offset="0.6798" stop-color="#32a7c2"/><stop offset="0.6816" stop-color="#1e8bbd"/><stop offset="0.6834" stop-color="#1f7bb5"/><stop offset="0.6870" stop-color="#2170b0"/><stop offset="0.7013" stop-color="#2169ad"/><stop offset="1.0000" stop-color="#2266ab"/></linearGradient><linearGradient id="h90" x1="0" y1="0" x2="0" y2="1"><stop offset="0.0000" stop-color="#1e87bb"/><stop offset="0.0377" stop-color="#1e87bb"/><stop offset="0.0413" stop-color="#1f7db6"/><stop offset="0.0448" stop-color="#1e84ba"/><stop offset="0.1973" stop-color="#1d8fbf"/><stop offset="0.2529" stop-color="#279bc1"/><stop offset="0.3139" stop-color="#41b6c4"/><stop offset="0.3480" stop-color="#5bc0c0"/><stop offset="0.3695" stop-color="#5ec1c0"/><stop offset="0.3857" stop-color="#50bcc2"/><stop offset="0.4018" stop-color="#3cb1c3"/><stop offset="0.4359" stop-color="#1d91c0"/><stop offset="0.4682" stop-color="#207ab5"/><stop offset="0.5130" stop-color="#216eaf"/><stop offset="0.6386" stop-color="#216aad"/><stop offset="0.6547" stop-color="#216eaf"/><stop offset="0.6565" stop-color="#1d8fbf"/><stop offset="0.6583" stop-color="#34a8c3"/><stop offset="0.6601" stop-color="#2076b3"/><stop offset="0.6619" stop-color="#2073b1"/><stop offset="0.6655" stop-color="#1f7cb6"/><stop offset="0.6673" stop-color="#1e88bc"/><stop offset="0.6691" stop-color="#279cc1"/><stop offset="0.6709" stop-color="#44b7c4"/><stop offset="0.6726" stop-color="#84cfbb"/><stop offset="0.6744" stop-color="#c8e9b4"/><stop offset="0.6762" stop-color="#d1edb3"/><stop offset="0.6780" stop-color="#9ad8b8"/><stop offset="0.6798" stop-color="#4ab9c3"/><stop offset="0.6816" stop-color="#2499c1"/><stop offset="0.6834" stop-color="#1f83b9"/><stop offset="0.6852" stop-color="#2078b4"/><stop offset="0.6906" stop-color="#216eaf"/><stop offset="0.7175" stop-color="#2268ac"/><stop offset="1.0000" stop-color="#2266ab"/></linearGradient><linearGradient id="h91" x1="0" y1="0" x2="0" y2="1"><stop offset="0.0000" stop-color="#1e87bb"/><stop offset="0.0377" stop-color="#1e87bb"/><stop offset="0.0413" stop-color="#1f7db6"/><stop offset="0.0448" stop-color="#1e84ba"/><stop offset="0.2009" stop-color="#1d8fbf"/><stop offset="0.2547" stop-color="#269ac1"/><stop offset="0.3139" stop-color="#3fb4c4"/><stop offset="0.3552" stop-color="#5dc0c0"/><stop offset="0.3749" stop-color="#5ec1c0"/><stop offset="0.3910" stop-color="#50bcc2"/><stop offset="0.4072" stop-color="#3bb0c3"/><stop offset="0.4413" stop-color="#1d90bf"/><stop offset="0.4735" stop-color="#2079b4"/><stop offset="0.5184" stop-color="#216eaf"/><stop offset="0.6404" stop-color="#216aad"/><stop offset="0.6547" stop-color="#216eaf"/><stop offset="0.6565" stop-color="#1d8ebf"/><stop offset="0.6583" stop-color="#33a8c2"/><stop offset="0.6601" stop-color="#2076b3"/><stop offset="0.6619" stop-color="#2073b1"/><stop offset="0.6655" stop-color="#1f7bb5"/><stop offset="0.6673" stop-color="#1e86ba"/><stop offset="0.6691" stop-color="#2397c1"/><stop offset="0.6709" stop-color="#3aafc3"/><stop offset="0.6726" stop-color="#6fc7bd"/><stop offset="0.6744" stop-color="#b5e2b6"/><stop offset="0.6762" stop-color="#d4eeb3"/><stop offset="0.6780" stop-color="#c1e7b5"/><stop offset="0.6798" stop-color="#6fc7bd"/><stop offset="0.6816" stop-color="#35a9c3"/><stop offset="0.6834" stop-color="#1d8ebf"/><stop offset="0.6852" stop-color="#1f7db6"/><stop offset="0.6870" stop-color="#2075b2"/><stop offset="0.6942" stop-color="#216cae"/><stop offset="0.7408" stop-color="#2268ac"/><stop offset="1.0000" stop-color="#2266ab"/></linearGradient><linearGradient id="h92" x1="0" y1="0" x2="0" y2="1"><stop offset="0.0000" stop-color="#1e87bb"/><stop offset="0.0377" stop-color="#1e87bb"/><stop offset="0.0413" stop-color="#1f7db6"/><stop offset="0.0448" stop-color="#1e84ba"/><stop offset="0.2045" stop-color="#1d8fbf"/><stop offset="0.2547" stop-color="#2599c1"/><stop offset="0.3121" stop-color="#3cb0c3"/><stop offset="0.3336" stop-color="#4bbac3"/><stop offset="0.3623" stop-color="#5ec1c0"/><stop offset="0.3803" stop-color="#5fc1c0"/><stop offset="0.3964" stop-color="#4fbbc2"/><stop offset="0.4126" stop-color="#3aafc3"/><stop offset="0.4448" stop-color="#1d90c0"/><stop offset="0.4753" stop-color="#207ab5"/><stop offset="0.5184" stop-color="#216eaf"/><stop offset="0.6368" stop-color="#216aad"/><stop offset="0.6547" stop-color="#216eaf"/><stop offset="0.6565" stop-color="#1d8dbe"/><stop offset="0.6583" stop-color="#33a7c2"/><stop offset="0.6601" stop-color="#2076b3"/><stop offset="0.6619" stop-color="#2072b1"/><stop offset="0.6655" stop-color="#207ab5"/><stop offset="0.6673" stop-color="#1f83b9"/><stop offset="0.6691" stop-color="#1f93c0"/><stop offset="0.6709" stop-color="#33a8c2"/><stop offset="0.6726" stop-color="#5dc0c0"/><stop offset="0.6744" stop-color="#9ed9b8"/><stop offset="0.6762" stop-color="#d0ecb3"/><stop offset="0.6780" stop-color="#d1edb3"/><stop offset="0.6798" stop-color="#98d7b9"/><stop offset="0.6816" stop-color="#4cbac2"/><stop offset="0.6834" stop-color="#279cc1"/><stop offset="0.6852" stop-color="#1e86bb"/><stop offset="0.6870" stop-color="#207ab5"/><stop offset="0.6906" stop-color="#2171b0"/><stop offset="0.7067" stop-color="#2169ad"/><stop offset="1.0000" stop-color="#2266ab"/></linearGradient><linearGradient id="h93" x1="0" y1="0" x2="0" y2="1"><stop offset="0.0000" stop-color="#1e86bb"/><stop offset="0.0377" stop-color="#1e86bb"/><stop offset="0.0413" stop-color="#1f7db6"/><stop offset="0.0448" stop-color="#1e84ba"/><stop offset="0.2081" stop-color="#1d8fbf"/><stop offset="0.2565" stop-color="#2498c1"/><stop offset="0.3139" stop-color="#3aafc3"/><stop offset="0.3354" stop-color="#49b9c3"/><stop offset="0.3641" stop-color="#5ec1c0"/><stop offset="0.3839" stop-color="#60c1c0"/><stop offset="0.4000" stop-color="#51bcc2"/><stop offset="0.4161" stop-color="#3bb0c3"/><stop offset="0.4484" stop-color="#1d91c0"/><stop offset="0.4789" stop-color="#207ab5"/><stop offset="0.5220" stop-color="#216eaf"/><stop offset="0.6368" stop-color="#216aad"/><stop offset="0.6547" stop-color="#216eaf"/><stop offset="0.6565" stop-color="#1e8cbe"/><stop offset="0.6583" stop-color="#32a7c2"/><stop offset="0.6601" stop-color="#2076b3"/><stop offset="0.6619" stop-color="#2072b1"/><stop offset="0.6655" stop-color="#207ab5"/><stop offset="0.6673" stop-color="#1f81b8"/><stop offset="0.6691" stop-color="#1d8fbf"/><stop offset="0.6709" stop-color="#2da2c2"/><stop offset="0.6726" stop-color="#4dbbc2"/><stop offset="0.6744" stop-color="#88d1ba"/><stop offset="0.6762" stop-color="#c8e9b4"/><stop offset="0.6780" stop-color="#d7efb3"/><stop offset="0.6798" stop-color="#bee5b5"/><stop offset="0.6816" stop-color="#6fc7bd"/><stop offset="0.6834" stop-color="#37acc3"/><stop offset="0.6852" stop-color="#1e92c0"/><stop offset="0.6870" stop-color="#1f80b8"/><stop offset="0.6888" stop-color="#2077b3"/><stop offset="0.6942" stop-color="#216eaf"/><stop offset="0.7211" stop-color="#2268ac"/><stop offset="1.0000" stop-color="#2266ab"/></linearGradient><linearGradient id="h94" x1="0" y1="0" x2="0" y2="1"><stop offset="0.0000" stop-color="#1e86bb"/><stop offset="0.0377" stop-color="#1e86bb"/><stop offset="0.0413" stop-color="#1f7cb6"/><stop offset="0.0448" stop-color="#1e84ba"/><stop offset="0.2099" stop-color="#1d8fbf"/><stop offset="0.2547" stop-color="#2397c1"/><stop offset="0.3121" stop-color="#37acc3"/><stop offset="0.3372" stop-color="#47b8c3"/><stop offset="0.3677" stop-color="#5ec1c0"/><stop offset="0.3874" stop-color="#61c2bf"/><stop offset="0.4036" stop-color="#52bcc2"/><stop offset="0.4197" stop-color="#3cb1c3"/><stop offset="0.4520" stop-color="#1d91c0"/><stop offset="0.4825" stop-color="#207ab5"/><stop offset="0.5256" stop-color="#216eaf"/><stop offset="0.6386" stop-color="#216aad"/><stop offset="0.6547" stop-color="#216eaf"/><stop offset="0.6565" stop-color="#1e8bbd"/><stop offset="0.6583" stop-color="#32a6c2"/><stop offset="0.6601" stop-color="#2076b3"/><stop offset="0.6619" stop-color="#2072b1"/><stop offset="0.6655" stop-color="#2079b4"/><stop offset="0.6673" stop-color="#1f80b8"/><stop offset="0.6691" stop-color="#1e8cbd"/><stop offset="0.6709" stop-color="#299dc1"/><stop offset="0.6726" stop-color="#40b5c4"/><stop offset="0.6744" stop-color="#75c9bc"/><stop offset="0.6762" stop-color="#b6e2b6"/><stop offset="0.6780" stop-color="#d6efb3"/><stop offset="0.6798" stop-color="#d1edb3"/><stop offset="0.6816" stop-color="#96d6b9"/><stop offset="0.6834" stop-color="#4ebbc2"/><stop offset="0.6852" stop-color="#2a9ec1"/><stop offset="0.6870" stop-color="#1e89bc"/><stop offset="0.6888" stop-color="#1f7cb6"/><stop offset="0.6924" stop-color="#2072b1"/><stop offset="0.7067" stop-color="#216aad"/><stop offset="1.0000" stop-color="#2266ab"/></linearGradient><linearGradient id="h95" x1="0" y1="0" x2="0" y2="1"><stop offset="0.0000" stop-color="#1e86bb"/><stop offset="0.0377" stop-color="#1e86ba"/><stop offset="0.0413" stop-color="#1f7cb6"/><stop offset="0.0448" stop-color="#1e84ba"/><stop offset="0.2135" stop-color="#1d8fbf"/><stop offset="0.2565" stop-color="#2296c1"/><stop offset="0.3121" stop-color="#36aac3"/><stop offset="0.3390" stop-color="#46b8c3"/><stop offset="0.3713" stop-color="#5fc1c0"/><stop offset="0.3910" stop-color="#62c2bf"/><stop offset="0.4054" stop-color="#56bec1"/><stop offset="0.4233" stop-color="#3cb1c3"/><stop offset="0.4556" stop-color="#1d91c0"/><stop offset="0.4861" stop-color="#207ab5"/><stop offset="0.5274" stop-color="#216eaf"/><stop offset="0.6368" stop-color="#216aad"/><stop offset="0.6547" stop-color="#216eaf"/><stop offset="0.6565" stop-color="#1e8abd"/><stop offset="0.6583" stop-color="#31a6c2"/><stop offset="0.6601" stop-color="#2076b3"/><stop offset="0.6619" stop-color="#2072b1"/><stop offset="0.6673" stop-color="#1f7fb7"/><stop offset="0.6691" stop-color="#1e89bc"/><stop offset="0.6709" stop-color="#2498c1"/><stop offset="0.6726" stop-color="#38acc3"/><stop offset="0.6744" stop-color="#60c2bf"/><stop offset="0.6762" stop-color="#9bd8b8"/><stop offset="0.6780" stop-color="#ceecb3"/><stop offset="0.6798" stop-color="#daf0b3"/><stop offset="0.6816" stop-color="#c4e8b4"/><stop offset="0.6834" stop-color="#79cbbc"/><stop offset="0.6852" stop-color="#3eb2c4"/><stop offset="0.6870" stop-color="#2398c1"/><stop offset="0.6888" stop-color="#1e85ba"/><stop offset="0.6906" stop-color="#207ab5"/><stop offset="0.6942" stop-color="#2171b1"/><stop offset="0.7103" stop-color="#216aad"/><stop offset="1.0000" stop-color="#2266ab"/></linearGradient><linearGradient id="h96" x1="0" y1="0" x2="0" y2="1"><stop offset="0.0000" stop-color="#1e86ba"/><stop offset="0.0377" stop-color="#1e86ba"/><stop offset="0.0413" stop-color="#1f7cb6"/><stop offset="0.0448" stop-color="#1e84ba"/><stop offset="0.2152" stop-color="#1d8ebf"/><stop offset="0.2565" stop-color="#2195c0"/><stop offset="0.3121" stop-color="#34a9c3"/><stop offset="0.3426" stop-color="#46b8c3"/><stop offset="0.3749" stop-color="#60c2bf"/><stop offset="0.3946" stop-color="#63c3bf"/><stop offset="0.4090" stop-color="#57bec1"/><stop offset="0.4269" stop-color="#3db2c4"/><stop offset="0.4592" stop-color="#1d91c0"/><stop offset="0.4879" stop-color="#1f7bb5"/><stop offset="0.5291" stop-color="#216eaf"/><stop offset="0.6350" stop-color="#216aad"/><stop offset="0.6547" stop-color="#216faf"/><stop offset="0.6565" stop-color="#1e89bc"/><stop offset="0.6583" stop-color="#31a5c2"/><stop offset="0.6601" stop-color="#2077b3"/><stop offset="0.6619" stop-color="#2073b1"/><stop offset="0.6673" stop-color="#1f7eb7"/><stop offset="0.6691" stop-color="#1e86bb"/><stop offset="0.6709" stop-color="#1f93c0"/><stop offset="0.6726" stop-color="#2ea3c2"/><stop offset="0.6744" stop-color="#47b8c3"/><stop offset="0.6762" stop-color="#77cabc"/><stop offset="0.6780" stop-color="#b2e1b6"/><stop offset="0.6798" stop-color="#d5eeb3"/><stop offset="0.6816" stop-color="#daf1b2"/><stop offset="0.6834" stop-color="#bfe6b5"/><stop offset="0.6852" stop-color="#77cabc"/><stop offset="0.6870" stop-color="#3eb3c4"/><stop offset="0.6888" stop-color="#2599c1"/><stop offset="0.6906" stop-color="#1e87bb"/><stop offset="0.6924" stop-color="#1f7cb6"/><stop offset="0.6960" stop-color="#2072b1"/><stop offset="0.7103" stop-color="#216aad"/><stop offset="0.9202" stop-color="#2267ab"/><stop offset="1.0000" stop-color="#2266ab"/></linearGradient><linearGradient id="h97" x1="0" y1="0" x2="0" y2="1"><stop offset="0.0000" stop-color="#1e86ba"/><stop offset="0.0377" stop-color="#1e86ba"/><stop offset="0.0413" stop-color="#1f7cb6"/><stop offset="0.0448" stop-color="#1e84b9"/><stop offset="0.2188" stop-color="#1d8ebf"/><stop offset="0.2601" stop-color="#2195c0"/><stop offset="0.3157" stop-color="#34a9c3"/><stop offset="0.3444" stop-color="#45b7c3"/><stop offset="0.3785" stop-color="#61c2bf"/><stop offset="0.3982" stop-color="#65c3bf"/><stop offset="0.4126" stop-color="#59bfc1"/><stop offset="0.4305" stop-color="#3db2c4"/><stop offset="0.4628" stop-color="#1d90c0"/><stop offset="0.4915" stop-color="#207ab5"/><stop offset="0.5327" stop-color="#216eaf"/><stop offset="0.6350" stop-color="#216bad"/><stop offset="0.6547" stop-color="#216faf"/><stop offset="0.6565" stop-color="#1e89bc"/><stop offset="0.6583" stop-color="#31a5c2"/><stop offset="0.6601" stop-color="#2077b3"/><stop offset="0.6619" stop-color="#2073b1"/><stop offset="0.6673" stop-color="#1f7db6"/><stop offset="0.6709" stop-color="#1d8fbf"/><stop offset="0.6726" stop-color="#289cc1"/><stop offset="0.6744" stop-color="#3aafc3"/><stop offset="0.6762" stop-color="#5dc0c0"/><stop offset="0.6780" stop-color="#8fd3b9"/><stop offset="0.6798" stop-color="#c5e8b4"/><stop offset="0.6816" stop-color="#daf0b3"/><stop offset="0.6834" stop-color="#daf1b2"/><stop offset="0.6852" stop-color="#bbe4b5"/><stop offset="0.6870" stop-color="#76cabc"/><stop offset="0.6888" stop-color="#3fb4c4"/><stop offset="0.6906" stop-color="#279bc1"/><stop offset="0.6924" stop-color="#1e89bc"/><stop offset="0.6942" stop-color="#1f7eb7"/><stop offset="0.6978" stop-color="#2073b2"/><stop offset="0.7103" stop-color="#216bad"/><stop offset="0.8287" stop-color="#2267ab"/><stop offset="1.0000" stop-color="#2266ab"/></linearGradient><linearGradient id="h98" x1="0" y1="0" x2="0" y2="1"><stop offset="0.0000" stop-color="#1e86ba"/><stop offset="0.0377" stop-color="#1e85ba"/><stop offset="0.0413" stop-color="#1f7cb6"/><stop offset="0.0448" stop-color="#1e84b9"/><stop offset="0.2206" stop-color="#1d8ebf"/><stop offset="0.2619" stop-color="#2195c0"/><stop offset="0.3175" stop-color="#33a8c2"/><stop offset="0.3480" stop-color="#45b8c3"/><stop offset="0.3821" stop-color="#62c2bf"/><stop offset="0.4018" stop-color="#66c4bf"/><stop offset="0.4161" stop-color="#5abfc0"/><stop offset="0.4359" stop-color="#3cb0c3"/><stop offset="0.4664" stop-color="#1d90bf"/><stop offset="0.4951" stop-color="#207ab5"/><stop offset="0.5345" stop-color="#216eaf"/><stop offset="0.6350" stop-color="#216bad"/><stop offset="0.6547" stop-color="#2170b0"/><stop offset="0.6565" stop-color="#1e88bc"/><stop offset="0.6583" stop-color="#30a5c2"/><stop offset="0.6601" stop-color="#2078b4"/><stop offset="0.6619" stop-color="#2074b2"/><stop offset="0.6673" stop-color="#1f7db6"/><stop offset="0.6709" stop-color="#1e8cbd"/><stop offset="0.6726" stop-color="#2398c1"/><stop offset="0.6744" stop-color="#32a7c2"/><stop offset="0.6762" stop-color="#49b9c3"/><stop offset="0.6780" stop-color="#72c8bd"/><stop offset="0.6798" stop-color="#a5dcb7"/><stop offset="0.6816" stop-color="#cfecb3"/><stop offset="0.6834" stop-color="#def2b2"/><stop offset="0.6852" stop-color="#d9f0b3"/><stop offset="0.6870" stop-color="#b6e3b6"/><stop offset="0.6888" stop-color="#74c9bd"/><stop offset="0.6906" stop-color="#40b5c4"/><stop offset="0.6924" stop-color="#289dc1"/><stop offset="0.6942" stop-color="#1e8cbd"/><stop offset="0.6960" stop-color="#1f80b7"/><stop offset="0.6996" stop-color="#2074b2"/><stop offset="0.7121" stop-color="#216bae"/><stop offset="0.8108" stop-color="#2267ab"/><stop offset="1.0000" stop-color="#2266ab"/></linearGradient><linearGradient id="h99" x1="0" y1="0" x2="0" y2="1"><stop offset="0.0000" stop-color="#1e85ba"/><stop offset="0.0377" stop-color="#1e85ba"/><stop offset="0.0413" stop-color="#1f7cb6"/><stop offset="0.0448" stop-color="#1f83b9"/><stop offset="0.2242" stop-color="#1d8ebf"/><stop offset="0.2655" stop-color="#2195c0"/><stop offset="0.3211" stop-color="#33a8c2"/><stop offset="0.3516" stop-color="#45b8c3"/><stop offset="0.3857" stop-color="#63c3bf"/><stop offset="0.4054" stop-color="#68c4be"/><stop offset="0.4179" stop-color="#5ec1c0"/><stop offset="0.4395" stop-color="#3cb1c3"/><stop offset="0.4682" stop-color="#1d91c0"/><stop offset="0.4951" stop-color="#1f7bb5"/><stop offset="0.5327" stop-color="#216faf"/><stop offset="0.6278" stop-color="#216bad"/><stop offset="0.6547" stop-color="#2170b0"/><stop offset="0.6565" stop-color="#1e88bb"/><stop offset="0.6583" stop-color="#30a5c2"/><stop offset="0.6601" stop-color="#2079b4"/><stop offset="0.6619" stop-color="#2074b2"/><stop offset="0.6673" stop-color="#1f7db6"/><stop offset="0.6709" stop-color="#1e8abd"/><stop offset="0.6726" stop-color="#2094c0"/><stop offset="0.6744" stop-color="#2ca1c2"/><stop offset="0.6762" stop-color="#3db2c4"/><stop offset="0.6780" stop-color="#5dc0c0"/><stop offset="0.6798" stop-color="#87d0ba"/><stop offset="0.6816" stop-color="#b9e4b5"/><stop offset="0.6834" stop-color="#d6efb3"/><stop offset="0.6852" stop-color="#e0f3b2"/><stop offset="0.6870" stop-color="#d8f0b3"/><stop offset="0.6888" stop-color="#b3e1b6"/><stop offset="0.6906" stop-color="#73c9bd"/><stop offset="0.6924" stop-color="#41b6c4"/><stop offset="0.6942" stop-color="#2a9ec1"/><stop offset="0.6960" stop-color="#1d8ebe"/><stop offset="0.6978" stop-color="#1f81b8"/><stop offset="0.7013" stop-color="#2076b3"/><stop offset="0.7121" stop-color="#216cae"/><stop offset="0.7767" stop-color="#2267ac"/><stop offset="1.0000" stop-color="#2266ab"/></linearGradient><linearGradient id="h100" x1="0" y1="0" x2="0" y2="1"><stop offset="0.0000" stop-color="#1e85ba"/><stop offset="0.0377" stop-color="#1e85ba"/><stop offset="0.0413" stop-color="#1f7cb6"/><stop offset="0.0448" stop-color="#1f83b9"/><stop offset="0.2260" stop-color="#1d8ebe"/><stop offset="0.2673" stop-color="#2094c0"/><stop offset="0.3229" stop-color="#32a7c2"/><stop offset="0.3552" stop-color="#46b8c3"/><stop offset="0.3892" stop-color="#64c3bf"/><stop offset="0.4090" stop-color="#69c5be"/><stop offset="0.4215" stop-color="#5fc1c0"/><stop offset="0.4430" stop-color="#3cb1c3"/><stop offset="0.4717" stop-color="#1d91c0"/><stop offset="0.4987" stop-color="#1f7bb5"/><stop offset="0.5363" stop-color="#216eaf"/><stop offset="0.6296" stop-color="#216bae"/><stop offset="0.6547" stop-color="#2171b0"/><stop offset="0.6565" stop-color="#1e87bb"/><stop offset="0.6583" stop-color="#30a4c2"/><stop offset="0.6601" stop-color="#2079b4"/><stop offset="0.6619" stop-color="#2075b2"/><stop offset="0.6691" stop-color="#1f82b9"/><stop offset="0.6726" stop-color="#1e92c0"/><stop offset="0.6762" stop-color="#36abc3"/><stop offset="0.6780" stop-color="#4cbac2"/><stop offset="0.6798" stop-color="#71c8bd"/><stop offset="0.6834" stop-color="#c9eab4"/><stop offset="0.6852" stop-color="#dbf1b2"/><stop offset="0.6870" stop-color="#e2f4b2"/><stop offset="0.6888" stop-color="#d7efb3"/><stop offset="0.6906" stop-color="#afe0b6"/><stop offset="0.6924" stop-color="#72c8bd"/><stop offset="0.6942" stop-color="#42b6c4"/><stop offset="0.6960" stop-color="#2ba0c2"/><stop offset="0.6978" stop-color="#1d90bf"/><stop offset="0.6996" stop-color="#1f83b9"/><stop offset="0.7031" stop-color="#2077b3"/><stop offset="0.7139" stop-color="#216dae"/><stop offset="0.7713" stop-color="#2268ac"/><stop offset="1.0000" stop-color="#2266ab"/></linearGradient><linearGradient id="h101" x1="0" y1="0" x2="0" y2="1"><stop offset="0.0000" stop-color="#1e85ba"/><stop offset="0.0377" stop-color="#1e85ba"/><stop offset="0.0413" stop-color="#1f7cb6"/><stop offset="0.0448" stop-color="#1f83b9"/><stop offset="0.2296" stop-color="#1d8ebe"/><stop offset="0.2709" stop-color="#2094c0"/><stop offset="0.3265" stop-color="#32a7c2"/><stop offset="0.3570" stop-color="#44b7c4"/><stop offset="0.3928" stop-color="#65c3bf"/><stop offset="0.4126" stop-color="#6bc5be"/><stop offset="0.4251" stop-color="#61c2bf"/><stop offset="0.4466" stop-color="#3db2c4"/><stop offset="0.4753" stop-color="#1d91c0"/><stop offset="0.5022" stop-color="#207ab5"/><stop offset="0.5399" stop-color="#216eaf"/><stop offset="0.6314" stop-color="#216cae"/><stop offset="0.6547" stop-color="#2171b0"/><stop offset="0.6565" stop-color="#1e87bb"/><stop offset="0.6583" stop-color="#30a4c2"/><stop offset="0.6601" stop-color="#207ab5"/><stop offset="0.6619" stop-color="#2076b3"/><stop offset="0.6691" stop-color="#1f82b9"/><stop offset="0.6726" stop-color="#1d90c0"/><stop offset="0.6762" stop-color="#31a6c2"/><stop offset="0.6780" stop-color="#40b5c4"/><stop offset="0.6798" stop-color="#5fc1c0"/><stop offset="0.6816" stop-color="#84cfbb"/><stop offset="0.6834" stop-color="#b0e0b6"/><stop offset="0.6852" stop-color="#d1edb3"/><stop offset="0.6870" stop-color="#e0f3b2"/><stop offset="0.6888" stop-color="#e4f4b2"/><stop offset="0.6906" stop-color="#d5efb3"/><stop offset="0.6924" stop-color="#acdfb7"/><stop offset="0.6942" stop-color="#72c8bd"/><stop offset="0.6960" stop-color="#43b7c4"/><stop offset="0.6978" stop-color="#2da1c2"/><stop offset="0.6996" stop-color="#1e92c0"/><stop offset="0.7013" stop-color="#1e85ba"/><stop offset="0.7049" stop-color="#2078b4"/><stop offset="0.7139" stop-color="#216eaf"/><stop offset="0.7552" stop-color="#2268ac"/><stop offset="1.0000" stop-color="#2266ab"/></linearGradient><linearGradient id="h102" x1="0" y1="0" x2="0" y2="1"><stop offset="0.0000" stop-color="#1e85ba"/><stop offset="0.0377" stop-color="#1e85ba"/><stop offset="0.0413" stop-color="#1f7cb6"/><stop offset="0.0448" stop-color="#1f83b9"/><stop offset="0.2314" stop-color="#1d8dbe"/><stop offset="0.2744" stop-color="#2094c0"/><stop offset="0.3300" stop-color="#32a7c2"/><stop offset="0.3605" stop-color="#44b7c4"/><stop offset="0.3964" stop-color="#66c4bf"/><stop offset="0.4161" stop-color="#6cc6be"/><stop offset="0.4287" stop-color="#63c2bf"/><stop offset="0.4502" stop-color="#3db2c4"/><stop offset="0.4789" stop-color="#1d90c0"/><stop offset="0.5040" stop-color="#1f7bb5"/><stop offset="0.5399" stop-color="#216faf"/><stop offset="0.6278" stop-color="#216cae"/><stop offset="0.6547" stop-color="#2072b1"/><stop offset="0.6565" stop-color="#1e87bb"/><stop offset="0.6583" stop-color="#2fa4c2"/><stop offset="0.6601" stop-color="#1f7bb5"/><stop offset="0.6619" stop-color="#2076b3"/><stop offset="0.6691" stop-color="#1f82b9"/><stop offset="0.6726" stop-color="#1d8fbf"/><stop offset="0.6744" stop-color="#2397c1"/><stop offset="0.6780" stop-color="#3aafc3"/><stop offset="0.6798" stop-color="#51bcc2"/><stop offset="0.6816" stop-color="#71c8bd"/><stop offset="0.6852" stop-color="#c2e7b5"/><stop offset="0.6870" stop-color="#d7f0b3"/><stop offset="0.6888" stop-color="#e4f4b2"/><stop offset="0.6906" stop-color="#e4f5b2"/><stop offset="0.6924" stop-color="#d4eeb3"/><stop offset="0.6942" stop-color="#aadeb7"/><stop offset="0.6960" stop-color="#72c8bd"/><stop offset="0.6978" stop-color="#45b7c3"/><stop offset="0.6996" stop-color="#2fa3c2"/><stop offset="0.7013" stop-color="#1f93c0"/><stop offset="0.7049" stop-color="#1f7fb7"/><stop offset="0.7103" stop-color="#2073b1"/><stop offset="0.7283" stop-color="#216bad"/><stop offset="0.9058" stop-color="#2267ab"/><stop offset="1.0000" stop-color="#2266ab"/></linearGradient><linearGradient id="h103" x1="0" y1="0" x2="0" y2="1"><stop offset="0.0000" stop-color="#1e85ba"/><stop offset="0.0377" stop-color="#1e85ba"/><stop offset="0.0413" stop-color="#1f7cb6"/><stop offset="0.0448" stop-color="#1f83b9"/><stop offset="0.2350" stop-color="#1d8dbe"/><stop offset="0.2780" stop-color="#2094c0"/><stop offset="0.3336" stop-color="#32a7c2"/><stop offset="0.3641" stop-color="#45b7c3"/><stop offset="0.4000" stop-color="#67c4be"/><stop offset="0.4197" stop-color="#6ec7be"/><stop offset="0.4323" stop-color="#64c3bf"/><stop offset="0.4538" stop-color="#3db2c4"/><stop offset="0.4825" stop-color="#1d90bf"/><stop offset="0.5076" stop-color="#207ab5"/><stop offset="0.5435" stop-color="#216eaf"/><stop offset="0.6278" stop-color="#216cae"/><stop offset="0.6547" stop-color="#2072b1"/><stop offset="0.6565" stop-color="#1e86bb"/><stop offset="0.6583" stop-color="#2fa3c2"/><stop offset="0.6601" stop-color="#1f7bb5"/><stop offset="0.6619" stop-color="#2077b3"/><stop offset="0.6691" stop-color="#1f82b9"/><stop offset="0.6726" stop-color="#1d8ebf"/><stop offset="0.6744" stop-color="#2296c1"/><stop offset="0.6780" stop-color="#36abc3"/><stop offset="0.6798" stop-color="#46b8c3"/><stop offset="0.6816" stop-color="#62c2bf"/><stop offset="0.6834" stop-color="#83cfbb"/><stop offset="0.6852" stop-color="#abdeb7"/><stop offset="0.6870" stop-color="#cdebb4"/><stop offset="0.6888" stop-color="#ddf2b2"/><stop offset="0.6906" stop-color="#e6f5b2"/><stop offset="0.6924" stop-color="#e4f5b2"/><stop offset="0.6942" stop-color="#d2edb3"/><stop offset="0.6960" stop-color="#a6dcb7"/><stop offset="0.6978" stop-color="#71c8bd"/><stop offset="0.6996" stop-color="#46b8c3"/><stop offset="0.7013" stop-color="#30a4c2"/><stop offset="0.7031" stop-color="#2195c0"/><stop offset="0.7067" stop-color="#1f80b8"/><stop offset="0.7121" stop-color="#2074b2"/><stop offset="0.7300" stop-color="#216bad"/><stop offset="0.8807" stop-color="#2267ab"/><stop offset="1.0000" stop-color="#2266ab"/></linearGradient><linearGradient id="h104" x1="0" y1="0" x2="0" y2="1"><stop offset="0.0000" stop-color="#1e85ba"/><stop offset="0.0377" stop-color="#1e85ba"/><stop offset="0.0413" stop-color="#1f7cb6"/><stop offset="0.0448" stop-color="#1f83b9"/><stop offset="0.2368" stop-color="#1d8dbe"/><stop offset="0.2816" stop-color="#2094c0"/><stop offset="0.3354" stop-color="#31a6c2"/><stop offset="0.3677" stop-color="#45b7c3"/><stop offset="0.4036" stop-color="#68c4be"/><stop offset="0.4233" stop-color="#6fc7bd"/><stop offset="0.4341" stop-color="#68c4be"/><stop offset="0.4502" stop-color="#4bbac2"/><stop offset="0.4592" stop-color="#3bb0c3"/><stop offset="0.4843" stop-color="#1d91c0"/><stop offset="0.5094" stop-color="#1f7bb5"/><stop offset="0.5435" stop-color="#216faf"/><stop offset="0.6260" stop-color="#216cae"/><stop offset="0.6547" stop-color="#2073b1"/><stop offset="0.6565" stop-color="#1e86bb"/><stop offset="0.6583" stop-color="#2fa3c2"/><stop offset="0.6601" stop-color="#1f7cb6"/><stop offset="0.6619" stop-color="#2078b4"/><stop offset="0.6691" stop-color="#1f83b9"/><stop offset="0.6726" stop-color="#1d8ebe"/><stop offset="0.6744" stop-color="#2195c0"/><stop offset="0.6780" stop-color="#33a7c2"/><stop offset="0.6798" stop-color="#3fb4c4"/><stop offset="0.6816" stop-color="#57bec1"/><stop offset="0.6834" stop-color="#73c9bd"/><stop offset="0.6870" stop-color="#bde5b5"/><stop offset="0.6888" stop-color="#d4eeb3"/><stop offset="0.6906" stop-color="#e2f4b2"/><stop offset="0.6924" stop-color="#e8f6b1"/><stop offset="0.6942" stop-color="#e2f4b2"/><stop offset="0.6960" stop-color="#ceecb3"/><stop offset="0.6978" stop-color="#a0dab8"/><stop offset="0.6996" stop-color="#6dc6be"/><stop offset="0.7013" stop-color="#44b7c4"/><stop offset="0.7031" stop-color="#30a4c2"/><stop offset="0.7049" stop-color="#2195c0"/><stop offset="0.7067" stop-color="#1e8abc"/><stop offset="0.7103" stop-color="#1f7bb5"/><stop offset="0.7175" stop-color="#2171b0"/><stop offset="0.7444" stop-color="#2169ad"/><stop offset="1.0000" stop-color="#2266ab"/></linearGradient><linearGradient id="h105" x1="0" y1="0" x2="0" y2="1"><stop offset="0.0000" stop-color="#1e85ba"/><stop offset="0.0377" stop-color="#1e85ba"/><stop offset="0.0413" stop-color="#1f7bb5"/><stop offset="0.0448" stop-color="#1f83b9"/><stop offset="0.2404" stop-color="#1d8dbe"/><stop offset="0.2852" stop-color="#2094c0"/><stop offset="0.3390" stop-color="#31a6c2"/><stop offset="0.3713" stop-color="#45b7c3"/><stop offset="0.4090" stop-color="#6ac5be"/><stop offset="0.4287" stop-color="#70c7bd"/><stop offset="0.4395" stop-color="#67c4be"/><stop offset="0.4556" stop-color="#48b9c3"/><stop offset="0.4646" stop-color="#39aec3"/><stop offset="0.4879" stop-color="#1d91c0"/><stop offset="0.5112" stop-color="#1f7bb5"/><stop offset="0.5435" stop-color="#216faf"/><stop offset="0.6206" stop-color="#216cae"/><stop offset="0.6547" stop-color="#2074b2"/><stop offset="0.6565" stop-color="#1e86bb"/><stop offset="0.6583" stop-color="#2ea3c2"/><stop offset="0.6601" stop-color="#1f7db6"/><stop offset="0.6619" stop-color="#2079b4"/><stop offset="0.6691" stop-color="#1f83b9"/><stop offset="0.6726" stop-color="#1d8dbe"/><stop offset="0.6744" stop-color="#2094c0"/><stop offset="0.6798" stop-color="#3bb0c3"/><stop offset="0.6816" stop-color="#4dbac2"/><stop offset="0.6852" stop-color="#85cfba"/><stop offset="0.6888" stop-color="#caeab4"/><stop offset="0.6906" stop-color="#daf1b2"/><stop offset="0.6924" stop-color="#e5f5b2"/><stop offset="0.6942" stop-color="#e9f6b1"/><stop offset="0.6960" stop-color="#e0f3b2"/><stop offset="0.6978" stop-color="#cbeab4"/><stop offset="0.7013" stop-color="#6ac5be"/><stop offset="0.7031" stop-color="#43b7c4"/><stop offset="0.7049" stop-color="#30a4c2"/><stop offset="0.7067" stop-color="#2296c1"/><stop offset="0.7085" stop-color="#1e8bbd"/><stop offset="0.7121" stop-color="#1f7cb6"/><stop offset="0.7193" stop-color="#2072b1"/><stop offset="0.7462" stop-color="#216aad"/><stop offset="1.0000" stop-color="#2266ab"/></linearGradient><linearGradient id="h106" x1="0" y1="0" x2="0" y2="1"><stop offset="0.0000" stop-color="#1e85ba"/><stop offset="0.0377" stop-color="#1e85ba"/><stop offset="0.0413" stop-color="#1f7bb5"/><stop offset="0.0448" stop-color="#1f83b9"/><stop offset="0.2439" stop-color="#1d8dbe"/><stop offset="0.2888" stop-color="#2094c0"/><stop offset="0.3426" stop-color="#31a5c2"/><stop offset="0.3749" stop-color="#44b7c4"/><stop offset="0.4126" stop-color="#6bc6be"/><stop offset="0.4323" stop-color="#72c8bd"/><stop offset="0.4430" stop-color="#69c5be"/><stop offset="0.4592" stop-color="#49b9c3"/><stop offset="0.4664" stop-color="#3cb1c3"/><stop offset="0.4915" stop-color="#1d91c0"/><stop offset="0.5148" stop-color="#1f7bb5"/><stop offset="0.5471" stop-color="#216faf"/><stop offset="0.6242" stop-color="#216dae"/><stop offset="0.6547" stop-color="#2074b2"/><stop offset="0.6565" stop-color="#1e86bb"/><stop offset="0.6583" stop-color="#2ea3c2"/><stop offset="0.6601" stop-color="#1f7eb7"/><stop offset="0.6619" stop-color="#2079b4"/><stop offset="0.6709" stop-color="#1e88bc"/><stop offset="0.6744" stop-color="#1f93c0"/><stop offset="0.6798" stop-color="#38adc3"/><stop offset="0.6816" stop-color="#45b8c3"/><stop offset="0.6852" stop-color="#77cabc"/><stop offset="0.6888" stop-color="#b9e4b5"/><stop offset="0.6906" stop-color="#d1edb3"/><stop offset="0.6924" stop-color="#dff3b2"/><stop offset="0.6942" stop-color="#e8f6b1"/><stop offset="0.6960" stop-color="#e9f7b1"/><stop offset="0.6978" stop-color="#def2b2"/><stop offset="0.6996" stop-color="#c7e9b4"/><stop offset="0.7013" stop-color="#95d6b9"/><stop offset="0.7031" stop-color="#68c4be"/><stop offset="0.7049" stop-color="#42b6c4"/><stop offset="0.7067" stop-color="#30a5c2"/><stop offset="0.7085" stop-color="#2397c1"/><stop offset="0.7103" stop-color="#1e8cbd"/><stop offset="0.7139" stop-color="#1f7db6"/><stop offset="0.7211" stop-color="#2072b1"/><stop offset="0.7462" stop-color="#216aad"/><stop offset="1.0000" stop-color="#2266ab"/></linearGradient><linearGradient id="h107" x1="0" y1="0" x2="0" y2="1"><stop offset="0.0000" stop-color="#1e85ba"/><stop offset="0.0377" stop-color="#1e85ba"/><stop offset="0.0413" stop-color="#1f7bb5"/><stop offset="0.0448" stop-color="#1f83b9"/><stop offset="0.2475" stop-color="#1d8dbe"/><stop offset="0.2942" stop-color="#2094c0"/><stop offset="0.3480" stop-color="#31a6c2"/><stop offset="0.3785" stop-color="#44b7c4"/><stop offset="0.4161" stop-color="#6cc6be"/><stop offset="0.4359" stop-color="#73c9bd"/><stop offset="0.4466" stop-color="#6bc5be"/><stop offset="0.4610" stop-color="#4fbbc2"/><stop offset="0.4700" stop-color="#3cb1c3"/><stop offset="0.4951" stop-color="#1d90c0"/><stop offset="0.5184" stop-color="#207ab5"/><stop offset="0.5507" stop-color="#216faf"/><stop offset="0.6242" stop-color="#216daf"/><stop offset="0.6547" stop-color="#2075b2"/><stop offset="0.6565" stop-color="#1e86bb"/><stop offset="0.6583" stop-color="#2ea2c2"/><stop offset="0.6601" stop-color="#1f7fb7"/><stop offset="0.6619" stop-color="#207ab5"/><stop offset="0.6709" stop-color="#1e88bc"/><stop offset="0.6744" stop-color="#1f93c0"/><stop offset="0.6798" stop-color="#35aac3"/><stop offset="0.6816" stop-color="#40b5c4"/><stop offset="0.6852" stop-color="#6cc6be"/><stop offset="0.6870" stop-color="#88d0ba"/><stop offset="0.6906" stop-color="#c8e9b4"/><stop offset="0.6942" stop-color="#e4f4b2"/><stop offset="0.6960" stop-color="#eaf7b1"/><stop offset="0.6978" stop-color="#e9f6b1"/><stop offset="0.6996" stop-color="#dbf1b2"/><stop offset="0.7013" stop-color="#c1e7b5"/><stop offset="0.7031" stop-color="#90d4b9"/><stop offset="0.7049" stop-color="#65c3bf"/><stop offset="0.7067" stop-color="#42b6c4"/><stop offset="0.7085" stop-color="#30a5c2"/><stop offset="0.7103" stop-color="#2397c1"/><stop offset="0.7121" stop-color="#1d8dbe"/><stop offset="0.7157" stop-color="#1f7eb7"/><stop offset="0.7229" stop-color="#2073b1"/><stop offset="0.7480" stop-color="#216aad"/><stop offset="1.0000" stop-color="#2266ab"/></linearGradient><linearGradient id="h108" x1="0" y1="0" x2="0" y2="1"><stop offset="0.0000" stop-color="#1e85ba"/><stop offset="0.0377" stop-color="#1e85ba"/><stop offset="0.0413" stop-color="#1f7bb5"/><stop offset="0.0448" stop-color="#1f83b9"/><stop offset="0.2511" stop-color="#1d8dbe"/><stop offset="0.2978" stop-color="#2094c0"/><stop offset="0.3498" stop-color="#30a4c2"/><stop offset="0.3821" stop-color="#43b7c4"/><stop offset="0.4197" stop-color="#6cc6be"/><stop offset="0.4377" stop-color="#74c9bd"/><stop offset="0.4484" stop-color="#6fc7bd"/><stop offset="0.4610" stop-color="#58bfc1"/><stop offset="0.4717" stop-color="#3fb4c4"/><stop offset="0.4969" stop-color="#1e92c0"/><stop offset="0.5202" stop-color="#1f7bb5"/><stop offset="0.5507" stop-color="#216fb0"/><stop offset="0.6224" stop-color="#216daf"/><stop offset="0.6547" stop-color="#2076b3"/><stop offset="0.6565" stop-color="#1e86bb"/><stop offset="0.6583" stop-color="#2ea2c2"/><stop offset="0.6601" stop-color="#1f7fb7"/><stop offset="0.6619" stop-color="#1f7bb5"/><stop offset="0.6709" stop-color="#1e89bc"/><stop offset="0.6744" stop-color="#1f93c0"/><stop offset="0.6798" stop-color="#33a8c2"/><stop offset="0.6816" stop-color="#3db2c4"/><stop offset="0.6834" stop-color="#4dbac2"/><stop offset="0.6870" stop-color="#7bcbbc"/><stop offset="0.6906" stop-color="#b8e3b5"/><stop offset="0.6924" stop-color="#cfecb3"/><stop offset="0.6960" stop-color="#e7f6b1"/><stop offset="0.6978" stop-color="#ecf7b1"/><stop offset="0.6996" stop-color="#e8f6b1"/><stop offset="0.7013" stop-color="#d8f0b3"/><stop offset="0.7031" stop-color="#bce5b5"/><stop offset="0.7049" stop-color="#8cd2ba"/><stop offset="0.7067" stop-color="#63c3bf"/><stop offset="0.7085" stop-color="#41b6c4"/><stop offset="0.7121" stop-color="#2498c1"/><stop offset="0.7139" stop-color="#1d8ebe"/><stop offset="0.7175" stop-color="#1f7fb7"/><stop offset="0.7247" stop-color="#2073b1"/><stop offset="0.7480" stop-color="#216bad"/><stop offset="0.9596" stop-color="#2266ab"/><stop offset="1.0000" stop-color="#2266ab"/></linearGradient><linearGradient id="h109" x1="0" y1="0" x2="0" y2="1"><stop offset="0.0000" stop-color="#1e84ba"/><stop offset="0.0377" stop-color="#1e84ba"/><stop offset="0.0413" stop-color="#1f7bb5"/><stop offset="0.0448" stop-color="#1f83b9"/><stop offset="0.2547" stop-color="#1e8cbe"/><stop offset="0.3031" stop-color="#2094c0"/><stop offset="0.3552" stop-color="#30a5c2"/><stop offset="0.3874" stop-color="#45b7c3"/><stop offset="0.4251" stop-color="#6fc7bd"/><stop offset="0.4430" stop-color="#76cabc"/><stop offset="0.4538" stop-color="#6ec7bd"/><stop offset="0.4682" stop-color="#51bcc2"/><stop offset="0.4771" stop-color="#3db2c4"/><stop offset="0.5004" stop-color="#1d91c0"/><stop offset="0.5220" stop-color="#1f7bb5"/><stop offset="0.5525" stop-color="#216fb0"/><stop offset="0.6206" stop-color="#216eaf"/><stop offset="0.6529" stop-color="#2075b3"/><stop offset="0.6547" stop-color="#2077b3"/><stop offset="0.6565" stop-color="#1e86bb"/><stop offset="0.6583" stop-color="#2da2c2"/><stop offset="0.6601" stop-color="#1f80b8"/><stop offset="0.6619" stop-color="#1f7cb6"/><stop offset="0.6709" stop-color="#1e8abc"/><stop offset="0.6744" stop-color="#1f93c0"/><stop offset="0.6798" stop-color="#32a7c2"/><stop offset="0.6816" stop-color="#3bafc3"/><stop offset="0.6834" stop-color="#47b8c3"/><stop offset="0.6870" stop-color="#71c8bd"/><stop offset="0.6906" stop-color="#a8ddb7"/><stop offset="0.6924" stop-color="#c6e9b4"/><stop offset="0.6960" stop-color="#e2f4b2"/><stop offset="0.6978" stop-color="#eaf7b1"/><stop offset="0.6996" stop-color="#edf8b1"/><stop offset="0.7013" stop-color="#e6f5b2"/><stop offset="0.7031" stop-color="#d5efb3"/><stop offset="0.7049" stop-color="#b6e3b6"/><stop offset="0.7067" stop-color="#88d1ba"/><stop offset="0.7085" stop-color="#61c2bf"/><stop offset="0.7103" stop-color="#41b6c4"/><stop offset="0.7139" stop-color="#2599c1"/><stop offset="0.7157" stop-color="#1d8fbf"/><stop offset="0.7193" stop-color="#1f80b8"/><stop offset="0.7265" stop-color="#2074b2"/><stop offset="0.7498" stop-color="#216bad"/><stop offset="0.9399" stop-color="#2266ab"/><stop offset="1.0000" stop-color="#2266ab"/></linearGradient><linearGradient id="h110" x1="0" y1="0" x2="0" y2="1"><stop offset="0.0000" stop-color="#1e84ba"/><stop offset="0.0377" stop-color="#1e84ba"/><stop offset="0.0413" stop-color="#1f7bb5"/><stop offset="0.0448" stop-color="#1f82b9"/><stop offset="0.2583" stop-color="#1e8cbe"/><stop offset="0.3085" stop-color="#2094c0"/><stop offset="0.3605" stop-color="#30a5c2"/><stop offset="0.3910" stop-color="#44b7c4"/><stop offset="0.4287" stop-color="#6fc7bd"/><stop offset="0.4466" stop-color="#77cabc"/><stop offset="0.4556" stop-color="#73c8bd"/><stop offset="0.4682" stop-color="#5cc0c0"/><stop offset="0.4807" stop-color="#3eb3c4"/><stop offset="0.5040" stop-color="#1d91c0"/><stop offset="0.5256" stop-color="#1f7bb5"/><stop offset="0.5543" stop-color="#2170b0"/><stop offset="0.6206" stop-color="#216eaf"/><stop offset="0.6529" stop-color="#2076b3"/><stop offset="0.6547" stop-color="#2078b4"/><stop offset="0.6565" stop-color="#1e86bb"/><stop offset="0.6583" stop-color="#2da2c2"/><stop offset="0.6601" stop-color="#1f81b8"/><stop offset="0.6619" stop-color="#1f7db6"/><stop offset="0.6709" stop-color="#1e8abd"/><stop offset="0.6744" stop-color="#1f93c0"/><stop offset="0.6798" stop-color="#31a5c2"/><stop offset="0.6834" stop-color="#43b7c4"/><stop offset="0.6870" stop-color="#69c5be"/><stop offset="0.6888" stop-color="#7fcdbb"/><stop offset="0.6924" stop-color="#b7e3b6"/><stop offset="0.6942" stop-color="#ceecb3"/><stop offset="0.6978" stop-color="#e6f5b2"/><stop offset="0.6996" stop-color="#ecf8b1"/><stop offset="0.7013" stop-color="#edf8b1"/><stop offset="0.7031" stop-color="#e4f5b2"/><stop offset="0.7049" stop-color="#d2edb3"/><stop offset="0.7067" stop-color="#b1e1b6"/><stop offset="0.7085" stop-color="#85cfba"/><stop offset="0.7103" stop-color="#60c1c0"/><stop offset="0.7121" stop-color="#40b5c4"/><stop offset="0.7157" stop-color="#2599c1"/><stop offset="0.7175" stop-color="#1d90bf"/><stop offset="0.7211" stop-color="#1f81b8"/><stop offset="0.7283" stop-color="#2074b2"/><stop offset="0.7498" stop-color="#216bae"/><stop offset="0.8969" stop-color="#2267ab"/><stop offset="1.0000" stop-color="#2266ab"/></linearGradient><linearGradient id="h111" x1="0" y1="0" x2="0" y2="1"><stop offset="0.0000" stop-color="#1e84ba"/><stop offset="0.0377" stop-color="#1e84ba"/><stop offset="0.0413" stop-color="#1f7bb5"/><stop offset="0.0448" stop-color="#1f82b9"/><stop offset="0.2619" stop-color="#1e8cbe"/><stop offset="0.3139" stop-color="#2094c0"/><stop offset="0.3641" stop-color="#30a4c2"/><stop offset="0.3964" stop-color="#45b7c3"/><stop offset="0.4341" stop-color="#71c8bd"/><stop offset="0.4520" stop-color="#79cbbc"/><stop offset="0.4610" stop-color="#73c9bd"/><stop offset="0.4735" stop-color="#5abfc0"/><stop offset="0.4843" stop-color="#3fb4c4"/><stop offset="0.5076" stop-color="#1e92c0"/><stop offset="0.5291" stop-color="#1f7bb5"/><stop offset="0.5578" stop-color="#2170b0"/><stop offset="0.6224" stop-color="#216faf"/><stop offset="0.6547" stop-color="#2078b4"/><stop offset="0.6565" stop-color="#1e86bb"/><stop offset="0.6583" stop-color="#2da2c2"/><stop offset="0.6601" stop-color="#1f82b9"/><stop offset="0.6619" stop-color="#1f7eb7"/><stop offset="0.6709" stop-color="#1e8bbd"/><stop offset="0.6744" stop-color="#2094c0"/><stop offset="0.6816" stop-color="#37acc3"/><stop offset="0.6834" stop-color="#40b5c4"/><stop offset="0.6870" stop-color="#62c2bf"/><stop offset="0.6906" stop-color="#8fd3b9"/><stop offset="0.6942" stop-color="#c5e8b4"/><stop offset="0.6978" stop-color="#e0f3b2"/><stop offset="0.6996" stop-color="#e9f6b1"/><stop offset="0.7013" stop-color="#edf8b2"/><stop offset="0.7031" stop-color="#edf8b1"/><stop offset="0.7049" stop-color="#e2f4b2"/><stop offset="0.7067" stop-color="#d0ecb3"/><stop offset="0.7085" stop-color="#addfb7"/><stop offset="0.7103" stop-color="#81cebb"/><stop offset="0.7121" stop-color="#5ec1c0"/><stop offset="0.7139" stop-color="#40b5c4"/><stop offset="0.7175" stop-color="#269ac1"/><stop offset="0.7193" stop-color="#1d91c0"/><stop offset="0.7229" stop-color="#1f82b9"/><stop offset="0.7300" stop-color="#2075b2"/><stop offset="0.7516" stop-color="#216cae"/><stop offset="0.8861" stop-color="#2267ab"/><stop offset="1.0000" stop-color="#2266ab"/></linearGradient><linearGradient id="h112" x1="0" y1="0" x2="0" y2="1"><stop offset="0.0000" stop-color="#1e84ba"/><stop offset="0.0377" stop-color="#1e84ba"/><stop offset="0.0413" stop-color="#1f7bb5"/><stop offset="0.0448" stop-color="#1f82b9"/><stop offset="0.2655" stop-color="#1e8cbd"/><stop offset="0.3175" stop-color="#1f93c0"/><stop offset="0.3677" stop-color="#2fa4c2"/><stop offset="0.4000" stop-color="#44b7c4"/><stop offset="0.4377" stop-color="#72c8bd"/><stop offset="0.4556" stop-color="#7bcbbc"/><stop offset="0.4646" stop-color="#76cabc"/><stop offset="0.4753" stop-color="#61c2bf"/><stop offset="0.4897" stop-color="#3db2c4"/><stop offset="0.5112" stop-color="#1d92c0"/><stop offset="0.5309" stop-color="#1f7cb6"/><stop offset="0.5578" stop-color="#2170b0"/><stop offset="0.6188" stop-color="#216faf"/><stop offset="0.6529" stop-color="#2078b4"/><stop offset="0.6547" stop-color="#2079b4"/><stop offset="0.6565" stop-color="#1e87bb"/><stop offset="0.6583" stop-color="#2da1c2"/><stop offset="0.6601" stop-color="#1f83b9"/><stop offset="0.6619" stop-color="#1f7fb7"/><stop offset="0.6726" stop-color="#1d90c0"/><stop offset="0.6798" stop-color="#2fa4c2"/><stop offset="0.6834" stop-color="#3eb3c4"/><stop offset="0.6852" stop-color="#4bbac3"/><stop offset="0.6888" stop-color="#6fc7bd"/><stop offset="0.6906" stop-color="#84cfbb"/><stop offset="0.6942" stop-color="#b8e3b5"/><stop offset="0.6960" stop-color="#cdebb4"/><stop offset="0.6996" stop-color="#e4f5b2"/><stop offset="0.7013" stop-color="#ecf7b1"/><stop offset="0.7031" stop-color="#eef8b3"/><stop offset="0.7049" stop-color="#ecf8b1"/><stop offset="0.7067" stop-color="#e0f3b2"/><stop offset="0.7085" stop-color="#cdebb4"/><stop offset="0.7103" stop-color="#a9ddb7"/><stop offset="0.7121" stop-color="#7fcdbb"/><stop offset="0.7139" stop-color="#5dc0c0"/><stop offset="0.7157" stop-color="#40b5c4"/><stop offset="0.7193" stop-color="#279bc1"/><stop offset="0.7211" stop-color="#1e92c0"/><stop offset="0.7265" stop-color="#1f7eb7"/><stop offset="0.7354" stop-color="#2073b1"/><stop offset="0.7659" stop-color="#216aad"/><stop offset="1.0000" stop-color="#2266ab"/></linearGradient><linearGradient id="h113" x1="0" y1="0" x2="0" y2="1"><stop offset="0.0000" stop-color="#1e84ba"/><stop offset="0.0377" stop-color="#1e84ba"/><stop offset="0.0413" stop-color="#1f7bb5"/><stop offset="0.0448" stop-color="#1f82b9"/><stop offset="0.2691" stop-color="#1e8cbd"/><stop offset="0.3229" stop-color="#1f93c0"/><stop offset="0.3731" stop-color="#2fa4c2"/><stop offset="0.4054" stop-color="#45b7c3"/><stop offset="0.4430" stop-color="#74c9bd"/><stop offset="0.4592" stop-color="#7dccbb"/><stop offset="0.4682" stop-color="#79cbbc"/><stop offset="0.4789" stop-color="#65c3bf"/><stop offset="0.4933" stop-color="#3eb3c4"/><stop offset="0.5148" stop-color="#1d91c0"/><stop offset="0.5345" stop-color="#1f7cb6"/><stop offset="0.5614" stop-color="#2170b0"/><stop offset="0.6206" stop-color="#2170b0"/><stop offset="0.6529" stop-color="#2079b4"/><stop offset="0.6547" stop-color="#207ab5"/><stop offset="0.6565" stop-color="#1e87bb"/><stop offset="0.6583" stop-color="#2da1c2"/><stop offset="0.6601" stop-color="#1e84ba"/><stop offset="0.6619" stop-color="#1f80b8"/><stop offset="0.6726" stop-color="#1d91c0"/><stop offset="0.6798" stop-color="#2fa3c2"/><stop offset="0.6834" stop-color="#3cb1c3"/><stop offset="0.6852" stop-color="#47b8c3"/><stop offset="0.6906" stop-color="#7bccbc"/><stop offset="0.6960" stop-color="#c5e8b4"/><stop offset="0.6996" stop-color="#def2b2"/><stop offset="0.7031" stop-color="#edf8b2"/><stop offset="0.7049" stop-color="#eef9b4"/><stop offset="0.7067" stop-color="#ebf7b1"/><stop offset="0.7085" stop-color="#def2b2"/><stop offset="0.7103" stop-color="#caeab4"/><stop offset="0.7139" stop-color="#7cccbb"/><stop offset="0.7157" stop-color="#5cc0c0"/><stop offset="0.7175" stop-color="#40b5c4"/><stop offset="0.7211" stop-color="#279bc1"/><stop offset="0.7229" stop-color="#1e92c0"/><stop offset="0.7283" stop-color="#1f7fb7"/><stop offset="0.7372" stop-color="#2073b1"/><stop offset="0.7659" stop-color="#216aad"/><stop offset="1.0000" stop-color="#2266ab"/></linearGradient><linearGradient id="h114" x1="0" y1="0" x2="0" y2="1"><stop offset="0.0000" stop-color="#1e84ba"/><stop offset="0.0377" stop-color="#1e84ba"/><stop offset="0.0413" stop-color="#1f7bb5"/><stop offset="0.0448" stop-color="#1f82b9"/><stop offset="0.2744" stop-color="#1e8cbd"/><stop offset="0.3283" stop-color="#1f93c0"/><stop offset="0.3785" stop-color="#2fa4c2"/><stop offset="0.4090" stop-color="#44b7c4"/><stop offset="0.4484" stop-color="#76cabc"/><stop offset="0.4646" stop-color="#7fcdbb"/><stop offset="0.4735" stop-color="#7acbbc"/><stop offset="0.4843" stop-color="#63c3bf"/><stop offset="0.4969" stop-color="#3fb4c4"/><stop offset="0.5184" stop-color="#1d91c0"/><stop offset="0.5220" stop-color="#1d90bf"/><stop offset="0.5256" stop-color="#1e87bb"/><stop offset="0.5453" stop-color="#2077b3"/><stop offset="0.5794" stop-color="#216faf"/><stop offset="0.6350" stop-color="#2073b1"/><stop offset="0.6547" stop-color="#1f7bb5"/><stop offset="0.6565" stop-color="#1e87bb"/><stop offset="0.6583" stop-color="#2da1c2"/><stop offset="0.6601" stop-color="#1e85ba"/><stop offset="0.6619" stop-color="#1f81b8"/><stop offset="0.6726" stop-color="#1e92c0"/><stop offset="0.6816" stop-color="#35a9c3"/><stop offset="0.6852" stop-color="#44b7c4"/><stop offset="0.6906" stop-color="#75c9bc"/><stop offset="0.6942" stop-color="#a1dab8"/><stop offset="0.6960" stop-color="#b9e4b5"/><stop offset="0.6978" stop-color="#ccebb4"/><stop offset="0.7013" stop-color="#e3f4b2"/><stop offset="0.7031" stop-color="#ebf7b1"/><stop offset="0.7067" stop-color="#eff9b5"/><stop offset="0.7085" stop-color="#eaf7b1"/><stop offset="0.7103" stop-color="#dbf1b2"/><stop offset="0.7121" stop-color="#c8e9b4"/><stop offset="0.7157" stop-color="#7acbbc"/><stop offset="0.7175" stop-color="#5bc0c0"/><stop offset="0.7193" stop-color="#40b5c4"/><stop offset="0.7229" stop-color="#289cc1"/><stop offset="0.7247" stop-color="#1f93c0"/><stop offset="0.7300" stop-color="#1f80b8"/><stop offset="0.7390" stop-color="#2074b2"/><stop offset="0.7677" stop-color="#216bad"/><stop offset="1.0000" stop-color="#2266ab"/></linearGradient><linearGradient id="h115" x1="0" y1="0" x2="0" y2="1"><stop offset="0.0000" stop-color="#1e84ba"/><stop offset="0.0377" stop-color="#1e84ba"/><stop offset="0.0413" stop-color="#207ab5"/><stop offset="0.0448" stop-color="#1f82b9"/><stop offset="0.2780" stop-color="#1e8bbd"/><stop offset="0.3336" stop-color="#1f93c0"/><stop offset="0.3821" stop-color="#2fa3c2"/><stop offset="0.4126" stop-color="#42b7c4"/><stop offset="0.4520" stop-color="#77cabc"/><stop offset="0.4682" stop-color="#81cebb"/><stop offset="0.4771" stop-color="#7dccbb"/><stop offset="0.4879" stop-color="#66c4bf"/><stop offset="0.5022" stop-color="#3db2c4"/><stop offset="0.5202" stop-color="#2195c0"/><stop offset="0.5220" stop-color="#2297c1"/><stop offset="0.5238" stop-color="#1d8fbf"/><stop offset="0.5399" stop-color="#1f7cb6"/><stop offset="0.5650" stop-color="#2171b0"/><stop offset="0.6206" stop-color="#2171b0"/><stop offset="0.6529" stop-color="#1f7bb5"/><stop offset="0.6547" stop-color="#1f7cb6"/><stop offset="0.6565" stop-color="#1e88bb"/><stop offset="0.6583" stop-color="#2ca1c2"/><stop offset="0.6601" stop-color="#1e86bb"/><stop offset="0.6619" stop-color="#1f82b9"/><stop offset="0.6726" stop-color="#1e92c0"/><stop offset="0.6816" stop-color="#34a9c3"/><stop offset="0.6852" stop-color="#42b6c4"/><stop offset="0.6906" stop-color="#6fc7bd"/><stop offset="0.6942" stop-color="#98d7b9"/><stop offset="0.6978" stop-color="#c7e9b4"/><stop offset="0.7031" stop-color="#e7f6b1"/><stop offset="0.7049" stop-color="#edf8b2"/><stop offset="0.7067" stop-color="#eff9b6"/><stop offset="0.7085" stop-color="#eff9b5"/><stop offset="0.7103" stop-color="#e7f6b1"/><stop offset="0.7121" stop-color="#d7f0b3"/><stop offset="0.7139" stop-color="#c1e7b5"/><stop offset="0.7175" stop-color="#75c9bc"/><stop offset="0.7193" stop-color="#58bec1"/><stop offset="0.7211" stop-color="#3fb4c4"/><stop offset="0.7247" stop-color="#289cc1"/><stop offset="0.7265" stop-color="#1f93c0"/><stop offset="0.7318" stop-color="#1f80b8"/><stop offset="0.7408" stop-color="#2074b2"/><stop offset="0.7695" stop-color="#216bad"/><stop offset="0.9848" stop-color="#2266ab"/><stop offset="1.0000" stop-color="#2266ab"/></linearGradient><linearGradient id="h116" x1="0" y1="0" x2="0" y2="1"><stop offset="0.0000" stop-color="#1e84ba"/><stop offset="0.0377" stop-color="#1e84ba"/><stop offset="0.0413" stop-color="#207ab5"/><stop offset="0.0448" stop-color="#1f82b9"/><stop offset="0.2816" stop-color="#1e8bbd"/><stop offset="0.3390" stop-color="#1f93c0"/><stop offset="0.3874" stop-color="#2fa3c2"/><stop offset="0.4179" stop-color="#43b7c4"/><stop offset="0.4574" stop-color="#7acbbc"/><stop offset="0.4735" stop-color="#84cfbb"/><stop offset="0.4807" stop-color="#80cdbb"/><stop offset="0.4897" stop-color="#6ec7bd"/><stop offset="0.5058" stop-color="#3eb3c4"/><stop offset="0.5202" stop-color="#269ac1"/><stop offset="0.5220" stop-color="#299ec1"/><stop offset="0.5238" stop-color="#2094c0"/><stop offset="0.5274" stop-color="#1d8ebf"/><stop offset="0.5453" stop-color="#207ab5"/><stop offset="0.5722" stop-color="#2170b0"/><stop offset="0.6278" stop-color="#2072b1"/><stop offset="0.6547" stop-color="#1f7cb6"/><stop offset="0.6565" stop-color="#1e87bb"/><stop offset="0.6583" stop-color="#2ca1c2"/><stop offset="0.6601" stop-color="#1e86bb"/><stop offset="0.6619" stop-color="#1f82b9"/><stop offset="0.6726" stop-color="#1d91c0"/><stop offset="0.6816" stop-color="#32a7c2"/><stop offset="0.6852" stop-color="#3fb3c4"/><stop offset="0.6888" stop-color="#58bec1"/><stop offset="0.6924" stop-color="#79cbbc"/><stop offset="0.6978" stop-color="#bae4b5"/><stop offset="0.6996" stop-color="#cdebb4"/><stop offset="0.7049" stop-color="#ebf7b1"/><stop offset="0.7085" stop-color="#f0f9b7"/><stop offset="0.7103" stop-color="#eef8b3"/><stop offset="0.7121" stop-color="#e4f4b2"/><stop offset="0.7139" stop-color="#d3eeb3"/><stop offset="0.7157" stop-color="#b9e4b5"/><stop offset="0.7193" stop-color="#71c8bd"/><stop offset="0.7211" stop-color="#54bdc1"/><stop offset="0.7229" stop-color="#3db2c4"/><stop offset="0.7265" stop-color="#279bc1"/><stop offset="0.7283" stop-color="#1f93c0"/><stop offset="0.7336" stop-color="#1f81b8"/><stop offset="0.7426" stop-color="#2074b2"/><stop offset="0.7695" stop-color="#216bad"/><stop offset="0.9489" stop-color="#2267ab"/><stop offset="1.0000" stop-color="#2266ab"/></linearGradient><linearGradient id="h117" x1="0" y1="0" x2="0" y2="1"><stop offset="0.0000" stop-color="#1e84ba"/><stop offset="0.0377" stop-color="#1e84b9"/><stop offset="0.0413" stop-color="#207ab5"/><stop offset="0.0448" stop-color="#1f82b9"/><stop offset="0.2852" stop-color="#1e8bbd"/><stop offset="0.3444" stop-color="#1f93c0"/><stop offset="0.3928" stop-color="#2fa3c2"/><stop offset="0.4233" stop-color="#44b7c3"/><stop offset="0.4628" stop-color="#7cccbb"/><stop offset="0.4771" stop-color="#86d0ba"/><stop offset="0.4843" stop-color="#83cfbb"/><stop offset="0.4933" stop-color="#71c8bd"/><stop offset="0.5094" stop-color="#3fb4c4"/><stop offset="0.5202" stop-color="#2ca1c2"/><stop offset="0.5220" stop-color="#31a6c2"/><stop offset="0.5238" stop-color="#259ac1"/><stop offset="0.5291" stop-color="#1d91c0"/><stop offset="0.5453" stop-color="#1f7db6"/><stop offset="0.5686" stop-color="#2171b1"/><stop offset="0.6206" stop-color="#2171b0"/><stop offset="0.6529" stop-color="#1f7bb5"/><stop offset="0.6547" stop-color="#1f7cb6"/><stop offset="0.6565" stop-color="#1e87bb"/><stop offset="0.6583" stop-color="#2ca1c2"/><stop offset="0.6601" stop-color="#1e86bb"/><stop offset="0.6619" stop-color="#1f82b8"/><stop offset="0.6726" stop-color="#1d90c0"/><stop offset="0.6816" stop-color="#30a5c2"/><stop offset="0.6870" stop-color="#44b7c4"/><stop offset="0.6924" stop-color="#71c8bd"/><stop offset="0.6960" stop-color="#98d7b9"/><stop offset="0.6996" stop-color="#c6e8b4"/><stop offset="0.7049" stop-color="#e6f5b2"/><stop offset="0.7067" stop-color="#edf8b2"/><stop offset="0.7103" stop-color="#f0f9b7"/><stop offset="0.7121" stop-color="#edf8b1"/><stop offset="0.7139" stop-color="#e1f3b2"/><stop offset="0.7157" stop-color="#cfecb3"/><stop offset="0.7175" stop-color="#b2e1b6"/><stop offset="0.7193" stop-color="#8cd2ba"/><stop offset="0.7211" stop-color="#6cc6be"/><stop offset="0.7229" stop-color="#51bcc2"/><stop offset="0.7247" stop-color="#3cb1c3"/><stop offset="0.7283" stop-color="#279bc1"/><stop offset="0.7300" stop-color="#1f93c0"/><stop offset="0.7354" stop-color="#1f81b8"/><stop offset="0.7444" stop-color="#2075b2"/><stop offset="0.7713" stop-color="#216bae"/><stop offset="0.9417" stop-color="#2267ab"/><stop offset="1.0000" stop-color="#2266ab"/></linearGradient><linearGradient id="h118" x1="0" y1="0" x2="0" y2="1"><stop offset="0.0000" stop-color="#1e84b9"/><stop offset="0.0377" stop-color="#1e84b9"/><stop offset="0.0413" stop-color="#207ab5"/><stop offset="0.0448" stop-color="#1f82b9"/><stop offset="0.2888" stop-color="#1e8bbd"/><stop offset="0.3498" stop-color="#1f93c0"/><stop offset="0.3964" stop-color="#2ea3c2"/><stop offset="0.4269" stop-color="#43b7c4"/><stop offset="0.4664" stop-color="#7dccbb"/><stop offset="0.4807" stop-color="#88d0ba"/><stop offset="0.4879" stop-color="#86d0ba"/><stop offset="0.4969" stop-color="#75c9bc"/><stop offset="0.5130" stop-color="#40b5c4"/><stop offset="0.5202" stop-color="#34a8c3"/><stop offset="0.5220" stop-color="#3aafc3"/><stop offset="0.5238" stop-color="#2ca0c2"/><stop offset="0.5327" stop-color="#1d90c0"/><stop offset="0.5489" stop-color="#1f7cb6"/><stop offset="0.5722" stop-color="#2171b0"/><stop offset="0.6242" stop-color="#2072b1"/><stop offset="0.6547" stop-color="#1f7cb6"/><stop offset="0.6565" stop-color="#1e86bb"/><stop offset="0.6583" stop-color="#2ca0c2"/><stop offset="0.6601" stop-color="#1e86bb"/><stop offset="0.6619" stop-color="#1f81b8"/><stop offset="0.6744" stop-color="#1f93c0"/><stop offset="0.6834" stop-color="#34a8c3"/><stop offset="0.6870" stop-color="#40b5c4"/><stop offset="0.6924" stop-color="#69c5be"/><stop offset="0.6960" stop-color="#8ed3ba"/><stop offset="0.6996" stop-color="#bae4b5"/><stop offset="0.7013" stop-color="#ccebb4"/><stop offset="0.7067" stop-color="#eaf7b1"/><stop offset="0.7103" stop-color="#f0f9b8"/><stop offset="0.7121" stop-color="#f0f9b7"/><stop offset="0.7139" stop-color="#ebf7b1"/><stop offset="0.7175" stop-color="#cbebb4"/><stop offset="0.7211" stop-color="#86d0ba"/><stop offset="0.7247" stop-color="#4dbbc2"/><stop offset="0.7265" stop-color="#3bb0c3"/><stop offset="0.7318" stop-color="#1f93c0"/><stop offset="0.7372" stop-color="#1f81b8"/><stop offset="0.7462" stop-color="#2075b2"/><stop offset="0.7731" stop-color="#216bae"/><stop offset="0.9345" stop-color="#2267ab"/><stop offset="1.0000" stop-color="#2266ab"/></linearGradient><linearGradient id="h119" x1="0" y1="0" x2="0" y2="1"><stop offset="0.0000" stop-color="#1e84b9"/><stop offset="0.0377" stop-color="#1f83b9"/><stop offset="0.0413" stop-color="#207ab5"/><stop offset="0.0448" stop-color="#1f82b8"/><stop offset="0.2924" stop-color="#1e8bbd"/><stop offset="0.3552" stop-color="#1f93c0"/><stop offset="0.4018" stop-color="#2ea3c2"/><stop offset="0.4323" stop-color="#44b7c4"/><stop offset="0.4717" stop-color="#7fcdbb"/><stop offset="0.4861" stop-color="#8bd1ba"/><stop offset="0.4933" stop-color="#88d0ba"/><stop offset="0.5022" stop-color="#73c9bd"/><stop offset="0.5166" stop-color="#41b6c4"/><stop offset="0.5202" stop-color="#3cb1c3"/><stop offset="0.5220" stop-color="#45b8c3"/><stop offset="0.5238" stop-color="#33a8c2"/><stop offset="0.5363" stop-color="#1d90c0"/><stop offset="0.5525" stop-color="#1f7bb5"/><stop offset="0.5758" stop-color="#2171b0"/><stop offset="0.6278" stop-color="#2072b1"/><stop offset="0.6547" stop-color="#1f7cb6"/><stop offset="0.6565" stop-color="#1e86bb"/><stop offset="0.6583" stop-color="#2ca0c2"/><stop offset="0.6601" stop-color="#1e86bb"/><stop offset="0.6619" stop-color="#1f81b8"/><stop offset="0.6744" stop-color="#1e92c0"/><stop offset="0.6834" stop-color="#32a6c2"/><stop offset="0.6870" stop-color="#3eb3c4"/><stop offset="0.6906" stop-color="#54bdc1"/><stop offset="0.6960" stop-color="#84cfbb"/><stop offset="0.7013" stop-color="#c5e8b4"/><stop offset="0.7067" stop-color="#e5f5b2"/><stop offset="0.7085" stop-color="#edf8b1"/><stop offset="0.7121" stop-color="#f0f9b9"/><stop offset="0.7139" stop-color="#eff9b6"/><stop offset="0.7157" stop-color="#e8f6b1"/><stop offset="0.7193" stop-color="#c7e9b4"/><stop offset="0.7229" stop-color="#81cebb"/><stop offset="0.7265" stop-color="#4bbac3"/><stop offset="0.7283" stop-color="#3aafc3"/><stop offset="0.7336" stop-color="#1f93c0"/><stop offset="0.7390" stop-color="#1f82b8"/><stop offset="0.7498" stop-color="#2074b2"/><stop offset="0.7803" stop-color="#216bad"/><stop offset="0.9937" stop-color="#2266ab"/><stop offset="1.0000" stop-color="#2266ab"/></linearGradient><linearGradient id="h120" x1="0" y1="0" x2="0" y2="1"><stop offset="0.0000" stop-color="#1f83b9"/><stop offset="0.0377" stop-color="#1f83b9"/><stop offset="0.0413" stop-color="#207ab5"/><stop offset="0.0448" stop-color="#1f82b8"/><stop offset="0.2978" stop-color="#1e8bbd"/><stop offset="0.3605" stop-color="#1f93c0"/><stop offset="0.4072" stop-color="#2ea3c2"/><stop offset="0.4359" stop-color="#42b6c4"/><stop offset="0.4789" stop-color="#84cfbb"/><stop offset="0.4915" stop-color="#8dd2ba"/><stop offset="0.4987" stop-color="#88d1ba"/><stop offset="0.5076" stop-color="#71c8bd"/><stop offset="0.5184" stop-color="#49b9c3"/><stop offset="0.5202" stop-color="#48b9c3"/><stop offset="0.5220" stop-color="#58bec1"/><stop offset="0.5238" stop-color="#3bb0c3"/><stop offset="0.5363" stop-color="#2195c0"/><stop offset="0.5417" stop-color="#1e8cbe"/><stop offset="0.5578" stop-color="#2079b4"/><stop offset="0.5830" stop-color="#2171b0"/><stop offset="0.6332" stop-color="#2074b2"/><stop offset="0.6547" stop-color="#1f7cb6"/><stop offset="0.6565" stop-color="#1e86bb"/><stop offset="0.6583" stop-color="#2ca0c2"/><stop offset="0.6601" stop-color="#1e86bb"/><stop offset="0.6619" stop-color="#1f81b8"/><stop offset="0.6744" stop-color="#1d91c0"/><stop offset="0.6834" stop-color="#30a5c2"/><stop offset="0.6888" stop-color="#42b7c4"/><stop offset="0.6942" stop-color="#6bc6be"/><stop offset="0.6978" stop-color="#8fd3b9"/><stop offset="0.7013" stop-color="#b9e4b5"/><stop offset="0.7031" stop-color="#cbebb4"/><stop offset="0.7085" stop-color="#e9f6b1"/><stop offset="0.7121" stop-color="#f0f9b8"/><stop offset="0.7139" stop-color="#f1f9b9"/><stop offset="0.7157" stop-color="#eff9b4"/><stop offset="0.7175" stop-color="#e5f5b2"/><stop offset="0.7193" stop-color="#d6efb3"/><stop offset="0.7211" stop-color="#c1e7b5"/><stop offset="0.7247" stop-color="#7cccbb"/><stop offset="0.7283" stop-color="#48b9c3"/><stop offset="0.7300" stop-color="#39aec3"/><stop offset="0.7354" stop-color="#1f93c0"/><stop offset="0.7408" stop-color="#1f82b9"/><stop offset="0.7516" stop-color="#2074b2"/><stop offset="0.7821" stop-color="#216bad"/><stop offset="0.9848" stop-color="#2266ab"/><stop offset="1.0000" stop-color="#2266ab"/></linearGradient><linearGradient id="h121" x1="0" y1="0" x2="0" y2="1"><stop offset="0.0000" stop-color="#1f83b9"/><stop offset="0.0377" stop-color="#1f83b9"/><stop offset="0.0413" stop-color="#207ab5"/><stop offset="0.0448" stop-color="#1f81b8"/><stop offset="0.3013" stop-color="#1e8abd"/><stop offset="0.3659" stop-color="#1f93c0"/><stop offset="0.4108" stop-color="#2ea2c2"/><stop offset="0.4413" stop-color="#43b7c4"/><stop offset="0.4843" stop-color="#87d0ba"/><stop offset="0.4969" stop-color="#90d3b9"/><stop offset="0.5022" stop-color="#8cd2ba"/><stop offset="0.5112" stop-color="#74c9bd"/><stop offset="0.5184" stop-color="#59bfc1"/><stop offset="0.5202" stop-color="#58bec1"/><stop offset="0.5220" stop-color="#6ac5be"/><stop offset="0.5238" stop-color="#46b8c3"/><stop offset="0.5274" stop-color="#3aafc3"/><stop offset="0.5417" stop-color="#1e92c0"/><stop offset="0.5561" stop-color="#1f7db6"/><stop offset="0.5758" stop-color="#2072b1"/><stop offset="0.6224" stop-color="#2072b1"/><stop offset="0.6547" stop-color="#1f7cb6"/><stop offset="0.6565" stop-color="#1e86ba"/><stop offset="0.6583" stop-color="#2ba0c2"/><stop offset="0.6601" stop-color="#1e86bb"/><stop offset="0.6619" stop-color="#1f81b8"/><stop offset="0.6744" stop-color="#1d91c0"/><stop offset="0.6834" stop-color="#2fa3c2"/><stop offset="0.6888" stop-color="#3fb4c4"/><stop offset="0.6924" stop-color="#57bec1"/><stop offset="0.6978" stop-color="#85cfba"/><stop offset="0.7031" stop-color="#c4e8b4"/><stop offset="0.7085" stop-color="#e5f5b2"/><stop offset="0.7103" stop-color="#ecf8b1"/><stop offset="0.7139" stop-color="#f1faba"/><stop offset="0.7157" stop-color="#f1f9b9"/><stop offset="0.7175" stop-color="#eef8b2"/><stop offset="0.7193" stop-color="#e2f4b2"/><stop offset="0.7211" stop-color="#d2edb3"/><stop offset="0.7229" stop-color="#bae4b5"/><stop offset="0.7265" stop-color="#77cabc"/><stop offset="0.7300" stop-color="#46b8c3"/><stop offset="0.7336" stop-color="#2ea2c2"/><stop offset="0.7372" stop-color="#1f93c0"/><stop offset="0.7426" stop-color="#1f82b9"/><stop offset="0.7534" stop-color="#2075b2"/><stop offset="0.7839" stop-color="#216bad"/><stop offset="0.9758" stop-color="#2266ab"/><stop offset="1.0000" stop-color="#2266ab"/></linearGradient><linearGradient id="h122" x1="0" y1="0" x2="0" y2="1"><stop offset="0.0000" stop-color="#1f83b9"/><stop offset="0.0377" stop-color="#1f83b9"/><stop offset="0.0413" stop-color="#207ab5"/><stop offset="0.0448" stop-color="#1f81b8"/><stop offset="0.3049" stop-color="#1e8abd"/><stop offset="0.3713" stop-color="#1f93c0"/><stop offset="0.4161" stop-color="#2ea3c2"/><stop offset="0.4448" stop-color="#43b7c4"/><stop offset="0.4879" stop-color="#89d1ba"/><stop offset="0.5004" stop-color="#92d4b9"/><stop offset="0.5058" stop-color="#8ed3ba"/><stop offset="0.5130" stop-color="#7bccbc"/><stop offset="0.5184" stop-color="#67c4be"/><stop offset="0.5202" stop-color="#66c4bf"/><stop offset="0.5220" stop-color="#78cabc"/><stop offset="0.5238" stop-color="#54bdc1"/><stop offset="0.5274" stop-color="#42b6c4"/><stop offset="0.5435" stop-color="#1f93c0"/><stop offset="0.5561" stop-color="#1f7fb7"/><stop offset="0.5740" stop-color="#2073b1"/><stop offset="0.6152" stop-color="#2171b0"/><stop offset="0.6529" stop-color="#1f7bb5"/><stop offset="0.6547" stop-color="#1f7cb6"/><stop offset="0.6565" stop-color="#1e85ba"/><stop offset="0.6583" stop-color="#2ba0c2"/><stop offset="0.6601" stop-color="#1e86bb"/><stop offset="0.6619" stop-color="#1f81b8"/><stop offset="0.6762" stop-color="#1f93c0"/><stop offset="0.6852" stop-color="#32a6c2"/><stop offset="0.6906" stop-color="#45b7c3"/><stop offset="0.6960" stop-color="#6dc6be"/><stop offset="0.6996" stop-color="#90d3b9"/><stop offset="0.7049" stop-color="#cbeab4"/><stop offset="0.7103" stop-color="#e8f6b1"/><stop offset="0.7139" stop-color="#f0f9b8"/><stop offset="0.7157" stop-color="#f1fabb"/><stop offset="0.7175" stop-color="#f0f9b9"/><stop offset="0.7193" stop-color="#ecf8b1"/><stop offset="0.7229" stop-color="#ceecb3"/><stop offset="0.7247" stop-color="#b3e1b6"/><stop offset="0.7283" stop-color="#73c9bd"/><stop offset="0.7318" stop-color="#43b7c4"/><stop offset="0.7354" stop-color="#2da2c2"/><stop offset="0.7390" stop-color="#1f93c0"/><stop offset="0.7462" stop-color="#1f7fb7"/><stop offset="0.7587" stop-color="#2073b1"/><stop offset="0.7982" stop-color="#216aad"/><stop offset="1.0000" stop-color="#2266ab"/></linearGradient><linearGradient id="h123" x1="0" y1="0" x2="0" y2="1"><stop offset="0.0000" stop-color="#1f83b9"/><stop offset="0.0377" stop-color="#1f83b9"/><stop offset="0.0413" stop-color="#207ab5"/><stop offset="0.0448" stop-color="#1f81b8"/><stop offset="0.3085" stop-color="#1e8abd"/><stop offset="0.3767" stop-color="#1f93c0"/><stop offset="0.4215" stop-color="#2ea3c2"/><stop offset="0.4484" stop-color="#42b6c4"/><stop offset="0.4933" stop-color="#8dd2ba"/><stop offset="0.5058" stop-color="#94d5b9"/><stop offset="0.5112" stop-color="#8dd2ba"/><stop offset="0.5184" stop-color="#76cabc"/><stop offset="0.5202" stop-color="#75c9bc"/><stop offset="0.5220" stop-color="#88d0ba"/><stop offset="0.5238" stop-color="#63c2bf"/><stop offset="0.5291" stop-color="#48b9c3"/><stop offset="0.5327" stop-color="#3cb1c3"/><stop offset="0.5471" stop-color="#1d91c0"/><stop offset="0.5614" stop-color="#1f7cb6"/><stop offset="0.5812" stop-color="#2072b1"/><stop offset="0.6278" stop-color="#2073b1"/><stop offset="0.6547" stop-color="#1f7cb6"/><stop offset="0.6565" stop-color="#1e85ba"/><stop offset="0.6583" stop-color="#2b9fc2"/><stop offset="0.6601" stop-color="#1e86bb"/><stop offset="0.6619" stop-color="#1f80b8"/><stop offset="0.6762" stop-color="#1e92c0"/><stop offset="0.6870" stop-color="#35a9c3"/><stop offset="0.6906" stop-color="#40b5c4"/><stop offset="0.6960" stop-color="#65c3bf"/><stop offset="0.6996" stop-color="#84cfbb"/><stop offset="0.7049" stop-color="#c1e6b5"/><stop offset="0.7085" stop-color="#d9f0b3"/><stop offset="0.7121" stop-color="#ebf7b1"/><stop offset="0.7175" stop-color="#f2fabb"/><stop offset="0.7211" stop-color="#ebf7b1"/><stop offset="0.7247" stop-color="#cdebb4"/><stop offset="0.7265" stop-color="#b1e1b6"/><stop offset="0.7300" stop-color="#73c8bd"/><stop offset="0.7336" stop-color="#44b7c4"/><stop offset="0.7372" stop-color="#2ea3c2"/><stop offset="0.7408" stop-color="#1f94c0"/><stop offset="0.7480" stop-color="#1f80b8"/><stop offset="0.7605" stop-color="#2073b1"/><stop offset="0.7982" stop-color="#216aad"/><stop offset="1.0000" stop-color="#2266ab"/></linearGradient><linearGradient id="h124" x1="0" y1="0" x2="0" y2="1"><stop offset="0.0000" stop-color="#1f83b9"/><stop offset="0.0377" stop-color="#1f83b9"/><stop offset="0.0413" stop-color="#207ab5"/><stop offset="0.0448" stop-color="#1f81b8"/><stop offset="0.3121" stop-color="#1e8abd"/><stop offset="0.3803" stop-color="#1f93c0"/><stop offset="0.4251" stop-color="#2ea2c2"/><stop offset="0.4520" stop-color="#41b6c4"/><stop offset="0.4969" stop-color="#8fd3b9"/><stop offset="0.5076" stop-color="#97d6b9"/><stop offset="0.5130" stop-color="#93d5b9"/><stop offset="0.5184" stop-color="#84cfba"/><stop offset="0.5202" stop-color="#84cfba"/><stop offset="0.5220" stop-color="#99d7b8"/><stop offset="0.5238" stop-color="#72c8bd"/><stop offset="0.5345" stop-color="#3fb4c4"/><stop offset="0.5489" stop-color="#1f93c0"/><stop offset="0.5614" stop-color="#1f7eb7"/><stop offset="0.5794" stop-color="#2073b1"/><stop offset="0.6224" stop-color="#2072b1"/><stop offset="0.6547" stop-color="#1f7bb5"/><stop offset="0.6565" stop-color="#1e84ba"/><stop offset="0.6583" stop-color="#2a9fc1"/><stop offset="0.6601" stop-color="#1e86bb"/><stop offset="0.6619" stop-color="#1f80b8"/><stop offset="0.6762" stop-color="#1d90c0"/><stop offset="0.6852" stop-color="#2da1c2"/><stop offset="0.6924" stop-color="#42b6c4"/><stop offset="0.6978" stop-color="#67c4be"/><stop offset="0.7013" stop-color="#87d0ba"/><stop offset="0.7067" stop-color="#c2e7b4"/><stop offset="0.7103" stop-color="#daf0b3"/><stop offset="0.7139" stop-color="#ebf7b1"/><stop offset="0.7193" stop-color="#f2fabc"/><stop offset="0.7211" stop-color="#f1f9b9"/><stop offset="0.7229" stop-color="#edf8b1"/><stop offset="0.7265" stop-color="#d0edb3"/><stop offset="0.7283" stop-color="#b8e3b5"/><stop offset="0.7318" stop-color="#79cbbc"/><stop offset="0.7354" stop-color="#4ab9c3"/><stop offset="0.7372" stop-color="#3bb0c3"/><stop offset="0.7426" stop-color="#2296c1"/><stop offset="0.7444" stop-color="#1d90c0"/><stop offset="0.7516" stop-color="#1f7eb7"/><stop offset="0.7659" stop-color="#2072b1"/><stop offset="0.8108" stop-color="#2169ad"/><stop offset="1.0000" stop-color="#2266ab"/></linearGradient><linearGradient id="h125" x1="0" y1="0" x2="0" y2="1"><stop offset="0.0000" stop-color="#1f83b9"/><stop offset="0.0377" stop-color="#1f83b9"/><stop offset="0.0413" stop-color="#207ab5"/><stop offset="0.0448" stop-color="#1f81b8"/><stop offset="0.3157" stop-color="#1e8abd"/><stop offset="0.3857" stop-color="#1f93c0"/><stop offset="0.4287" stop-color="#2da2c2"/><stop offset="0.4574" stop-color="#43b7c4"/><stop offset="0.5004" stop-color="#90d4b9"/><stop offset="0.5112" stop-color="#99d7b8"/><stop offset="0.5166" stop-color="#96d6b9"/><stop offset="0.5184" stop-color="#92d4b9"/><stop offset="0.5202" stop-color="#93d5b9"/><stop offset="0.5220" stop-color="#aadeb7"/><stop offset="0.5238" stop-color="#82cebb"/><stop offset="0.5381" stop-color="#3eb3c4"/><stop offset="0.5525" stop-color="#1d91c0"/><stop offset="0.5650" stop-color="#1f7cb6"/><stop offset="0.5830" stop-color="#2072b1"/><stop offset="0.6278" stop-color="#2073b1"/><stop offset="0.6547" stop-color="#1f7bb5"/><stop offset="0.6565" stop-color="#1f83b9"/><stop offset="0.6583" stop-color="#2a9ec1"/><stop offset="0.6601" stop-color="#1e85ba"/><stop offset="0.6619" stop-color="#1f7fb7"/><stop offset="0.6762" stop-color="#1d8ebf"/><stop offset="0.6816" stop-color="#2397c1"/><stop offset="0.6906" stop-color="#37acc3"/><stop offset="0.6942" stop-color="#44b7c4"/><stop offset="0.6996" stop-color="#6ac5be"/><stop offset="0.7031" stop-color="#89d1ba"/><stop offset="0.7085" stop-color="#c4e8b4"/><stop offset="0.7139" stop-color="#e4f4b2"/><stop offset="0.7157" stop-color="#ecf7b1"/><stop offset="0.7211" stop-color="#f2fabd"/><stop offset="0.7229" stop-color="#f1fabb"/><stop offset="0.7247" stop-color="#eef8b3"/><stop offset="0.7283" stop-color="#d3eeb3"/><stop offset="0.7300" stop-color="#bfe6b5"/><stop offset="0.7336" stop-color="#80cdbb"/><stop offset="0.7372" stop-color="#50bcc2"/><stop offset="0.7390" stop-color="#3eb3c4"/><stop offset="0.7444" stop-color="#2499c1"/><stop offset="0.7462" stop-color="#1e92c0"/><stop offset="0.7534" stop-color="#1f80b8"/><stop offset="0.7659" stop-color="#2074b2"/><stop offset="0.8036" stop-color="#216aad"/><stop offset="1.0000" stop-color="#2266ab"/></linearGradient><linearGradient id="h126" x1="0" y1="0" x2="0" y2="1"><stop offset="0.0000" stop-color="#1f83b9"/><stop offset="0.0377" stop-color="#1f83b9"/><stop offset="0.0413" stop-color="#207ab5"/><stop offset="0.0448" stop-color="#1f81b8"/><stop offset="0.3193" stop-color="#1e8abc"/><stop offset="0.3910" stop-color="#1f93c0"/><stop offset="0.4341" stop-color="#2ea2c2"/><stop offset="0.4610" stop-color="#42b6c4"/><stop offset="0.5058" stop-color="#94d5b9"/><stop offset="0.5166" stop-color="#9bd8b8"/><stop offset="0.5184" stop-color="#9bd8b8"/><stop offset="0.5202" stop-color="#9fd9b8"/><stop offset="0.5220" stop-color="#b8e3b5"/><stop offset="0.5238" stop-color="#92d4b9"/><stop offset="0.5399" stop-color="#43b7c4"/><stop offset="0.5525" stop-color="#2296c1"/><stop offset="0.5561" stop-color="#1d8ebf"/><stop offset="0.5686" stop-color="#1f7bb5"/><stop offset="0.5865" stop-color="#2072b1"/><stop offset="0.6332" stop-color="#2073b2"/><stop offset="0.6547" stop-color="#207ab5"/><stop offset="0.6565" stop-color="#1f83b9"/><stop offset="0.6583" stop-color="#299ec1"/><stop offset="0.6601" stop-color="#1e85ba"/><stop offset="0.6619" stop-color="#1f7eb7"/><stop offset="0.6780" stop-color="#1d8fbf"/><stop offset="0.6870" stop-color="#2b9fc2"/><stop offset="0.6942" stop-color="#3eb3c4"/><stop offset="0.6978" stop-color="#52bcc2"/><stop offset="0.7031" stop-color="#7acbbc"/><stop offset="0.7103" stop-color="#c6e9b4"/><stop offset="0.7175" stop-color="#ecf8b1"/><stop offset="0.7211" stop-color="#f2fabb"/><stop offset="0.7247" stop-color="#f2fabc"/><stop offset="0.7265" stop-color="#eff9b5"/><stop offset="0.7283" stop-color="#e5f5b2"/><stop offset="0.7318" stop-color="#c6e9b4"/><stop offset="0.7354" stop-color="#87d0ba"/><stop offset="0.7390" stop-color="#57bec1"/><stop offset="0.7408" stop-color="#42b7c4"/><stop offset="0.7462" stop-color="#279bc1"/><stop offset="0.7498" stop-color="#1d8fbf"/><stop offset="0.7570" stop-color="#1f7fb7"/><stop offset="0.7713" stop-color="#2072b1"/><stop offset="0.8161" stop-color="#216aad"/><stop offset="1.0000" stop-color="#2266ab"/></linearGradient><linearGradient id="h127" x1="0" y1="0" x2="0" y2="1"><stop offset="0.0000" stop-color="#1f83b9"/><stop offset="0.0377" stop-color="#1f83b9"/><stop offset="0.0413" stop-color="#207ab5"/><stop offset="0.0448" stop-color="#1f81b8"/><stop offset="0.3229" stop-color="#1e8abc"/><stop offset="0.3964" stop-color="#1f93c0"/><stop offset="0.4377" stop-color="#2da2c2"/><stop offset="0.4646" stop-color="#41b6c4"/><stop offset="0.5094" stop-color="#96d6b9"/><stop offset="0.5184" stop-color="#9ed9b8"/><stop offset="0.5202" stop-color="#a5dcb7"/><stop offset="0.5220" stop-color="#c1e7b5"/><stop offset="0.5238" stop-color="#9ed9b8"/><stop offset="0.5327" stop-color="#79cbbc"/><stop offset="0.5435" stop-color="#40b5c4"/><stop offset="0.5561" stop-color="#1f94c0"/><stop offset="0.5614" stop-color="#1e88bc"/><stop offset="0.5740" stop-color="#2078b4"/><stop offset="0.5955" stop-color="#2171b0"/><stop offset="0.6439" stop-color="#2076b3"/><stop offset="0.6547" stop-color="#207ab5"/><stop offset="0.6565" stop-color="#1f82b9"/><stop offset="0.6583" stop-color="#299dc1"/><stop offset="0.6601" stop-color="#1e85ba"/><stop offset="0.6619" stop-color="#1f7eb7"/><stop offset="0.6780" stop-color="#1d8ebe"/><stop offset="0.6834" stop-color="#2296c1"/><stop offset="0.6942" stop-color="#3aafc3"/><stop offset="0.6978" stop-color="#49b9c3"/><stop offset="0.7049" stop-color="#7cccbb"/><stop offset="0.7121" stop-color="#c7e9b4"/><stop offset="0.7193" stop-color="#ecf8b1"/><stop offset="0.7229" stop-color="#f2fabc"/><stop offset="0.7265" stop-color="#f2fabd"/><stop offset="0.7283" stop-color="#eff9b6"/><stop offset="0.7300" stop-color="#e7f6b1"/><stop offset="0.7336" stop-color="#caeab4"/><stop offset="0.7390" stop-color="#74c9bd"/><stop offset="0.7426" stop-color="#48b9c3"/><stop offset="0.7444" stop-color="#3bb0c3"/><stop offset="0.7498" stop-color="#2397c1"/><stop offset="0.7516" stop-color="#1e92c0"/><stop offset="0.7587" stop-color="#1f80b8"/><stop offset="0.7731" stop-color="#2073b1"/><stop offset="0.8143" stop-color="#216aad"/><stop offset="1.0000" stop-color="#2266ab"/></linearGradient><linearGradient id="h128" x1="0" y1="0" x2="0" y2="1"><stop offset="0.0000" stop-color="#1f83b9"/><stop offset="0.0377" stop-color="#1f83b9"/><stop offset="0.0413" stop-color="#207ab5"/><stop offset="0.0448" stop-color="#1f81b8"/><stop offset="0.3265" stop-color="#1e8abc"/><stop offset="0.4000" stop-color="#1f93c0"/><stop offset="0.4430" stop-color="#2ea2c2"/><stop offset="0.4700" stop-color="#43b7c4"/><stop offset="0.5130" stop-color="#98d7b9"/><stop offset="0.5184" stop-color="#9ed9b8"/><stop offset="0.5202" stop-color="#a6dcb7"/><stop offset="0.5220" stop-color="#c4e8b4"/><stop offset="0.5238" stop-color="#a3dbb7"/><stop offset="0.5291" stop-color="#99d7b8"/><stop offset="0.5345" stop-color="#83cebb"/><stop offset="0.5471" stop-color="#40b5c4"/><stop offset="0.5596" stop-color="#1e92c0"/><stop offset="0.5704" stop-color="#1f7eb7"/><stop offset="0.5848" stop-color="#2073b1"/><stop offset="0.6242" stop-color="#2072b1"/><stop offset="0.6547" stop-color="#207ab5"/><stop offset="0.6565" stop-color="#1f81b8"/><stop offset="0.6583" stop-color="#289dc1"/><stop offset="0.6601" stop-color="#1e84ba"/><stop offset="0.6619" stop-color="#1f7db6"/><stop offset="0.6780" stop-color="#1e8cbe"/><stop offset="0.6834" stop-color="#2094c0"/><stop offset="0.6942" stop-color="#36aac3"/><stop offset="0.6978" stop-color="#40b5c4"/><stop offset="0.7031" stop-color="#62c2bf"/><stop offset="0.7067" stop-color="#7ecdbb"/><stop offset="0.7139" stop-color="#c8e9b4"/><stop offset="0.7211" stop-color="#edf8b1"/><stop offset="0.7247" stop-color="#f2fabc"/><stop offset="0.7283" stop-color="#f3fabe"/><stop offset="0.7300" stop-color="#f0f9b8"/><stop offset="0.7318" stop-color="#e9f7b1"/><stop offset="0.7354" stop-color="#cdebb4"/><stop offset="0.7372" stop-color="#b4e1b6"/><stop offset="0.7408" stop-color="#79cbbc"/><stop offset="0.7444" stop-color="#4ebbc2"/><stop offset="0.7462" stop-color="#3eb2c4"/><stop offset="0.7516" stop-color="#259ac1"/><stop offset="0.7552" stop-color="#1d8ebf"/><stop offset="0.7623" stop-color="#1f7fb7"/><stop offset="0.7785" stop-color="#2072b1"/><stop offset="0.8269" stop-color="#2169ad"/><stop offset="1.0000" stop-color="#2266ab"/></linearGradient><linearGradient id="h129" x1="0" y1="0" x2="0" y2="1"><stop offset="0.0000" stop-color="#1f83b9"/><stop offset="0.0377" stop-color="#1f83b9"/><stop offset="0.0413" stop-color="#207ab5"/><stop offset="0.0448" stop-color="#1f81b8"/><stop offset="0.3283" stop-color="#1e89bc"/><stop offset="0.4036" stop-color="#1f93c0"/><stop offset="0.4448" stop-color="#2da1c2"/><stop offset="0.4717" stop-color="#41b5c4"/><stop offset="0.4969" stop-color="#72c8bd"/><stop offset="0.5166" stop-color="#9bd8b8"/><stop offset="0.5184" stop-color="#9dd9b8"/><stop offset="0.5202" stop-color="#a6dcb7"/><stop offset="0.5220" stop-color="#c5e8b4"/><stop offset="0.5238" stop-color="#a5dcb7"/><stop offset="0.5309" stop-color="#a0dab8"/><stop offset="0.5363" stop-color="#8dd2ba"/><stop offset="0.5507" stop-color="#3fb4c4"/><stop offset="0.5632" stop-color="#1d91c0"/><stop offset="0.5740" stop-color="#1f7db6"/><stop offset="0.5901" stop-color="#2072b1"/><stop offset="0.6332" stop-color="#2073b1"/><stop offset="0.6547" stop-color="#2079b4"/><stop offset="0.6565" stop-color="#1f81b8"/><stop offset="0.6583" stop-color="#289cc1"/><stop offset="0.6601" stop-color="#1e84ba"/><stop offset="0.6619" stop-color="#1f7db6"/><stop offset="0.6798" stop-color="#1e8cbe"/><stop offset="0.6852" stop-color="#2094c0"/><stop offset="0.6960" stop-color="#36abc3"/><stop offset="0.6996" stop-color="#41b6c4"/><stop offset="0.7067" stop-color="#71c8bd"/><stop offset="0.7103" stop-color="#90d4b9"/><stop offset="0.7157" stop-color="#c8e9b4"/><stop offset="0.7229" stop-color="#edf8b1"/><stop offset="0.7265" stop-color="#f2fabc"/><stop offset="0.7300" stop-color="#f3fabe"/><stop offset="0.7336" stop-color="#ebf7b1"/><stop offset="0.7372" stop-color="#cfecb3"/><stop offset="0.7390" stop-color="#b9e4b5"/><stop offset="0.7426" stop-color="#7ecdbb"/><stop offset="0.7462" stop-color="#52bcc2"/><stop offset="0.7480" stop-color="#40b5c4"/><stop offset="0.7534" stop-color="#279cc1"/><stop offset="0.7570" stop-color="#1d90c0"/><stop offset="0.7641" stop-color="#1f80b8"/><stop offset="0.7785" stop-color="#2073b1"/><stop offset="0.8215" stop-color="#216aad"/><stop offset="1.0000" stop-color="#2267ab"/></linearGradient><linearGradient id="h130" x1="0" y1="0" x2="0" y2="1"><stop offset="0.0000" stop-color="#1f82b9"/><stop offset="0.0377" stop-color="#1f82b9"/><stop offset="0.0413" stop-color="#207ab5"/><stop offset="0.0448" stop-color="#1f81b8"/><stop offset="0.3318" stop-color="#1e89bc"/><stop offset="0.4072" stop-color="#1f93c0"/><stop offset="0.4484" stop-color="#2da1c2"/><stop offset="0.4753" stop-color="#41b6c4"/><stop offset="0.5040" stop-color="#7dccbb"/><stop offset="0.5184" stop-color="#9bd8b8"/><stop offset="0.5202" stop-color="#a5dcb7"/><stop offset="0.5220" stop-color="#c4e8b4"/><stop offset="0.5238" stop-color="#a5dcb7"/><stop offset="0.5327" stop-color="#a4dbb7"/><stop offset="0.5381" stop-color="#93d5b9"/><stop offset="0.5525" stop-color="#42b6c4"/><stop offset="0.5632" stop-color="#2296c1"/><stop offset="0.5668" stop-color="#1d8ebe"/><stop offset="0.5776" stop-color="#1f7bb5"/><stop offset="0.5937" stop-color="#2072b1"/><stop offset="0.6386" stop-color="#2074b2"/><stop offset="0.6547" stop-color="#2079b4"/><stop offset="0.6565" stop-color="#1f80b8"/><stop offset="0.6583" stop-color="#279bc1"/><stop offset="0.6601" stop-color="#1f83b9"/><stop offset="0.6619" stop-color="#1f7cb6"/><stop offset="0.6798" stop-color="#1e8bbd"/><stop offset="0.6852" stop-color="#1e92c0"/><stop offset="0.6960" stop-color="#32a7c2"/><stop offset="0.7013" stop-color="#42b6c4"/><stop offset="0.7085" stop-color="#71c8bd"/><stop offset="0.7121" stop-color="#91d4b9"/><stop offset="0.7175" stop-color="#c8eab4"/><stop offset="0.7247" stop-color="#edf8b1"/><stop offset="0.7283" stop-color="#f2fabc"/><stop offset="0.7318" stop-color="#f3fabf"/><stop offset="0.7336" stop-color="#f1faba"/><stop offset="0.7354" stop-color="#edf8b1"/><stop offset="0.7390" stop-color="#d2edb3"/><stop offset="0.7408" stop-color="#bee6b5"/><stop offset="0.7444" stop-color="#84cfbb"/><stop offset="0.7480" stop-color="#57bec1"/><stop offset="0.7498" stop-color="#44b7c4"/><stop offset="0.7534" stop-color="#30a5c2"/><stop offset="0.7587" stop-color="#1e92c0"/><stop offset="0.7659" stop-color="#1f81b8"/><stop offset="0.7803" stop-color="#2074b2"/><stop offset="0.8215" stop-color="#216aad"/><stop offset="1.0000" stop-color="#2267ab"/></linearGradient><linearGradient id="h131" x1="0" y1="0" x2="0" y2="1"><stop offset="0.0000" stop-color="#1f82b9"/><stop offset="0.0377" stop-color="#1f82b9"/><stop offset="0.0413" stop-color="#207ab5"/><stop offset="0.0448" stop-color="#1f81b8"/><stop offset="0.3336" stop-color="#1e89bc"/><stop offset="0.4108" stop-color="#1f93c0"/><stop offset="0.4520" stop-color="#2da1c2"/><stop offset="0.4789" stop-color="#43b7c4"/><stop offset="0.5058" stop-color="#7cccbc"/><stop offset="0.5184" stop-color="#99d7b8"/><stop offset="0.5202" stop-color="#a3dbb7"/><stop offset="0.5220" stop-color="#c3e7b4"/><stop offset="0.5238" stop-color="#a5dcb7"/><stop offset="0.5345" stop-color="#a8ddb7"/><stop offset="0.5381" stop-color="#a0dab8"/><stop offset="0.5435" stop-color="#87d0ba"/><stop offset="0.5561" stop-color="#3eb3c4"/><stop offset="0.5668" stop-color="#1f93c0"/><stop offset="0.5776" stop-color="#1f7eb7"/><stop offset="0.5919" stop-color="#2073b1"/><stop offset="0.6314" stop-color="#2073b1"/><stop offset="0.6547" stop-color="#2078b4"/><stop offset="0.6565" stop-color="#1f7fb7"/><stop offset="0.6583" stop-color="#269bc1"/><stop offset="0.6601" stop-color="#1f83b9"/><stop offset="0.6619" stop-color="#1f7bb5"/><stop offset="0.6816" stop-color="#1e8bbd"/><stop offset="0.6870" stop-color="#1f93c0"/><stop offset="0.6978" stop-color="#33a7c2"/><stop offset="0.7031" stop-color="#43b7c4"/><stop offset="0.7103" stop-color="#72c8bd"/><stop offset="0.7139" stop-color="#92d4b9"/><stop offset="0.7193" stop-color="#c9eab4"/><stop offset="0.7265" stop-color="#edf8b1"/><stop offset="0.7300" stop-color="#f2fabd"/><stop offset="0.7336" stop-color="#f4fbc0"/><stop offset="0.7354" stop-color="#f2fabc"/><stop offset="0.7372" stop-color="#eef8b3"/><stop offset="0.7408" stop-color="#d4eeb3"/><stop offset="0.7426" stop-color="#c3e8b4"/><stop offset="0.7462" stop-color="#89d1ba"/><stop offset="0.7498" stop-color="#5bc0c0"/><stop offset="0.7516" stop-color="#48b9c3"/><stop offset="0.7534" stop-color="#3bb0c3"/><stop offset="0.7587" stop-color="#2599c1"/><stop offset="0.7623" stop-color="#1d8ebf"/><stop offset="0.7713" stop-color="#1f7db6"/><stop offset="0.7910" stop-color="#2171b0"/><stop offset="0.8520" stop-color="#2169ac"/><stop offset="1.0000" stop-color="#2267ab"/></linearGradient><linearGradient id="h132" x1="0" y1="0" x2="0" y2="1"><stop offset="0.0000" stop-color="#1f82b9"/><stop offset="0.0377" stop-color="#1f82b9"/><stop offset="0.0413" stop-color="#2079b4"/><stop offset="0.0448" stop-color="#1f81b8"/><stop offset="0.3372" stop-color="#1e89bc"/><stop offset="0.4143" stop-color="#1f93c0"/><stop offset="0.4556" stop-color="#2da2c2"/><stop offset="0.4807" stop-color="#41b6c4"/><stop offset="0.5040" stop-color="#72c8bd"/><stop offset="0.5184" stop-color="#95d6b9"/><stop offset="0.5202" stop-color="#a0dab8"/><stop offset="0.5220" stop-color="#c1e6b5"/><stop offset="0.5238" stop-color="#a3dbb8"/><stop offset="0.5363" stop-color="#abdeb7"/><stop offset="0.5399" stop-color="#a5dcb7"/><stop offset="0.5453" stop-color="#8dd3ba"/><stop offset="0.5578" stop-color="#40b5c4"/><stop offset="0.5686" stop-color="#2094c0"/><stop offset="0.5722" stop-color="#1e8bbd"/><stop offset="0.5830" stop-color="#207ab5"/><stop offset="0.6009" stop-color="#2171b1"/><stop offset="0.6475" stop-color="#2076b3"/><stop offset="0.6547" stop-color="#2078b4"/><stop offset="0.6565" stop-color="#1f7fb7"/><stop offset="0.6583" stop-color="#269ac1"/><stop offset="0.6601" stop-color="#1f83b9"/><stop offset="0.6619" stop-color="#1f7bb5"/><stop offset="0.6816" stop-color="#1e89bc"/><stop offset="0.6888" stop-color="#1f93c0"/><stop offset="0.6996" stop-color="#33a8c2"/><stop offset="0.7049" stop-color="#44b7c4"/><stop offset="0.7121" stop-color="#73c9bd"/><stop offset="0.7157" stop-color="#93d5b9"/><stop offset="0.7211" stop-color="#c9eab4"/><stop offset="0.7283" stop-color="#edf8b1"/><stop offset="0.7336" stop-color="#f4fbc0"/><stop offset="0.7354" stop-color="#f4fbc0"/><stop offset="0.7372" stop-color="#f2fabd"/><stop offset="0.7390" stop-color="#eef9b4"/><stop offset="0.7426" stop-color="#d7efb3"/><stop offset="0.7444" stop-color="#c8e9b4"/><stop offset="0.7480" stop-color="#8fd3b9"/><stop offset="0.7516" stop-color="#60c2bf"/><stop offset="0.7534" stop-color="#4dbac2"/><stop offset="0.7552" stop-color="#3eb3c4"/><stop offset="0.7605" stop-color="#279bc1"/><stop offset="0.7641" stop-color="#1d90c0"/><stop offset="0.7731" stop-color="#1f7eb7"/><stop offset="0.7910" stop-color="#2072b1"/><stop offset="0.8448" stop-color="#2169ad"/><stop offset="1.0000" stop-color="#2267ab"/></linearGradient><linearGradient id="h133" x1="0" y1="0" x2="0" y2="1"><stop offset="0.0000" stop-color="#1f82b9"/><stop offset="0.0377" stop-color="#1f82b9"/><stop offset="0.0413" stop-color="#2079b4"/><stop offset="0.0448" stop-color="#1f81b8"/><stop offset="0.3390" stop-color="#1e89bc"/><stop offset="0.4179" stop-color="#1f93c0"/><stop offset="0.4592" stop-color="#2da2c2"/><stop offset="0.4843" stop-color="#42b6c4"/><stop offset="0.5076" stop-color="#74c9bd"/><stop offset="0.5184" stop-color="#90d4b9"/><stop offset="0.5202" stop-color="#9cd8b8"/><stop offset="0.5220" stop-color="#bde5b5"/><stop offset="0.5238" stop-color="#a0dab8"/><stop offset="0.5363" stop-color="#addfb6"/><stop offset="0.5417" stop-color="#aadeb7"/><stop offset="0.5471" stop-color="#94d5b9"/><stop offset="0.5596" stop-color="#45b7c3"/><stop offset="0.5686" stop-color="#269ac1"/><stop offset="0.5722" stop-color="#1d91c0"/><stop offset="0.5812" stop-color="#1f7eb7"/><stop offset="0.5955" stop-color="#2073b1"/><stop offset="0.6350" stop-color="#2073b1"/><stop offset="0.6547" stop-color="#2077b4"/><stop offset="0.6565" stop-color="#1f7eb7"/><stop offset="0.6583" stop-color="#2599c1"/><stop offset="0.6601" stop-color="#1f82b9"/><stop offset="0.6619" stop-color="#207ab5"/><stop offset="0.6834" stop-color="#1e8abd"/><stop offset="0.6906" stop-color="#2094c0"/><stop offset="0.7013" stop-color="#34a9c3"/><stop offset="0.7067" stop-color="#45b8c3"/><stop offset="0.7139" stop-color="#74c9bd"/><stop offset="0.7175" stop-color="#94d5b9"/><stop offset="0.7229" stop-color="#c9eab4"/><stop offset="0.7300" stop-color="#edf8b1"/><stop offset="0.7354" stop-color="#f4fbc0"/><stop offset="0.7372" stop-color="#f4fbc1"/><stop offset="0.7390" stop-color="#f3fabe"/><stop offset="0.7408" stop-color="#eff9b6"/><stop offset="0.7426" stop-color="#e7f5b2"/><stop offset="0.7462" stop-color="#caeab4"/><stop offset="0.7516" stop-color="#7acbbc"/><stop offset="0.7552" stop-color="#51bcc2"/><stop offset="0.7570" stop-color="#40b5c4"/><stop offset="0.7623" stop-color="#299dc1"/><stop offset="0.7659" stop-color="#1e92c0"/><stop offset="0.7749" stop-color="#1f7fb7"/><stop offset="0.7928" stop-color="#2072b1"/><stop offset="0.8448" stop-color="#2169ad"/><stop offset="1.0000" stop-color="#2267ab"/></linearGradient><linearGradient id="h134" x1="0" y1="0" x2="0" y2="1"><stop offset="0.0000" stop-color="#1f82b9"/><stop offset="0.0377" stop-color="#1f82b9"/><stop offset="0.0413" stop-color="#2079b4"/><stop offset="0.0448" stop-color="#1f81b8"/><stop offset="0.3408" stop-color="#1e89bc"/><stop offset="0.4215" stop-color="#1f93c0"/><stop offset="0.4610" stop-color="#2da1c2"/><stop offset="0.4861" stop-color="#40b5c4"/><stop offset="0.5058" stop-color="#6ac5be"/><stop offset="0.5184" stop-color="#8ad1ba"/><stop offset="0.5202" stop-color="#96d6b9"/><stop offset="0.5220" stop-color="#b8e3b5"/><stop offset="0.5238" stop-color="#9bd8b8"/><stop offset="0.5363" stop-color="#aedfb6"/><stop offset="0.5435" stop-color="#aedfb6"/><stop offset="0.5471" stop-color="#a3dbb7"/><stop offset="0.5525" stop-color="#85cfba"/><stop offset="0.5632" stop-color="#3fb4c4"/><stop offset="0.5740" stop-color="#1e92c0"/><stop offset="0.5830" stop-color="#1f7fb7"/><stop offset="0.5955" stop-color="#2074b2"/><stop offset="0.6296" stop-color="#2072b1"/><stop offset="0.6547" stop-color="#2077b3"/><stop offset="0.6565" stop-color="#1f7db6"/><stop offset="0.6583" stop-color="#2599c1"/><stop offset="0.6601" stop-color="#1f82b9"/><stop offset="0.6619" stop-color="#207ab5"/><stop offset="0.6834" stop-color="#1e88bc"/><stop offset="0.6906" stop-color="#1e92c0"/><stop offset="0.7031" stop-color="#35a9c3"/><stop offset="0.7085" stop-color="#46b8c3"/><stop offset="0.7157" stop-color="#75c9bc"/><stop offset="0.7211" stop-color="#a6dcb7"/><stop offset="0.7247" stop-color="#c9eab4"/><stop offset="0.7318" stop-color="#edf8b1"/><stop offset="0.7372" stop-color="#f4fbc0"/><stop offset="0.7408" stop-color="#f3fabf"/><stop offset="0.7426" stop-color="#f0f9b7"/><stop offset="0.7444" stop-color="#e8f6b1"/><stop offset="0.7480" stop-color="#cdebb4"/><stop offset="0.7498" stop-color="#b6e2b6"/><stop offset="0.7534" stop-color="#7fcdbb"/><stop offset="0.7587" stop-color="#44b7c4"/><stop offset="0.7641" stop-color="#2b9fc2"/><stop offset="0.7677" stop-color="#1f94c0"/><stop offset="0.7749" stop-color="#1f83b9"/><stop offset="0.7892" stop-color="#2075b2"/><stop offset="0.8287" stop-color="#216bad"/><stop offset="1.0000" stop-color="#2267ab"/></linearGradient><linearGradient id="h135" x1="0" y1="0" x2="0" y2="1"><stop offset="0.0000" stop-color="#1f82b9"/><stop offset="0.0377" stop-color="#1f82b9"/><stop offset="0.0413" stop-color="#2079b4"/><stop offset="0.0448" stop-color="#1f81b8"/><stop offset="0.3444" stop-color="#1e89bc"/><stop offset="0.4251" stop-color="#1f93c0"/><stop offset="0.4646" stop-color="#2da1c2"/><stop offset="0.4897" stop-color="#41b6c4"/><stop offset="0.5112" stop-color="#71c8bd"/><stop offset="0.5184" stop-color="#84cfbb"/><stop offset="0.5202" stop-color="#90d4b9"/><stop offset="0.5220" stop-color="#b2e1b6"/><stop offset="0.5238" stop-color="#96d6b9"/><stop offset="0.5381" stop-color="#b0e0b6"/><stop offset="0.5453" stop-color="#b2e1b6"/><stop offset="0.5489" stop-color="#a9ddb7"/><stop offset="0.5543" stop-color="#8cd2ba"/><stop offset="0.5650" stop-color="#42b7c4"/><stop offset="0.5740" stop-color="#2498c1"/><stop offset="0.5776" stop-color="#1d8fbf"/><stop offset="0.5865" stop-color="#1f7db6"/><stop offset="0.6009" stop-color="#2073b1"/><stop offset="0.6422" stop-color="#2074b2"/><stop offset="0.6547" stop-color="#2077b3"/><stop offset="0.6565" stop-color="#1f7db6"/><stop offset="0.6583" stop-color="#2498c1"/><stop offset="0.6601" stop-color="#1f82b9"/><stop offset="0.6619" stop-color="#2079b4"/><stop offset="0.6834" stop-color="#1e87bb"/><stop offset="0.6924" stop-color="#1e92c0"/><stop offset="0.7049" stop-color="#35a9c3"/><stop offset="0.7103" stop-color="#46b8c3"/><stop offset="0.7175" stop-color="#74c9bd"/><stop offset="0.7229" stop-color="#a5dcb7"/><stop offset="0.7265" stop-color="#c8eab4"/><stop offset="0.7336" stop-color="#ecf8b1"/><stop offset="0.7390" stop-color="#f4fbc0"/><stop offset="0.7426" stop-color="#f4fbc0"/><stop offset="0.7462" stop-color="#ecf7b1"/><stop offset="0.7498" stop-color="#d1edb3"/><stop offset="0.7516" stop-color="#bfe6b5"/><stop offset="0.7552" stop-color="#87d0ba"/><stop offset="0.7587" stop-color="#5cc0c0"/><stop offset="0.7605" stop-color="#4ab9c3"/><stop offset="0.7623" stop-color="#3db2c4"/><stop offset="0.7677" stop-color="#279bc1"/><stop offset="0.7713" stop-color="#1d91c0"/><stop offset="0.7803" stop-color="#1f7fb7"/><stop offset="0.7982" stop-color="#2072b1"/><stop offset="0.8502" stop-color="#216aad"/><stop offset="1.0000" stop-color="#2267ab"/></linearGradient><linearGradient id="h136" x1="0" y1="0" x2="0" y2="1"><stop offset="0.0000" stop-color="#1f82b9"/><stop offset="0.0377" stop-color="#1f82b9"/><stop offset="0.0413" stop-color="#2079b4"/><stop offset="0.0448" stop-color="#1f81b8"/><stop offset="0.3462" stop-color="#1e89bc"/><stop offset="0.4287" stop-color="#1f93c0"/><stop offset="0.4682" stop-color="#2da1c2"/><stop offset="0.4933" stop-color="#42b6c4"/><stop offset="0.5148" stop-color="#73c9bd"/><stop offset="0.5184" stop-color="#7dccbb"/><stop offset="0.5202" stop-color="#89d1ba"/><stop offset="0.5220" stop-color="#abdeb7"/><stop offset="0.5238" stop-color="#90d3b9"/><stop offset="0.5291" stop-color="#9cd8b8"/><stop offset="0.5399" stop-color="#b1e1b6"/><stop offset="0.5471" stop-color="#b6e2b6"/><stop offset="0.5507" stop-color="#afe0b6"/><stop offset="0.5543" stop-color="#9ed9b8"/><stop offset="0.5668" stop-color="#47b8c3"/><stop offset="0.5704" stop-color="#37abc3"/><stop offset="0.5776" stop-color="#2094c0"/><stop offset="0.5812" stop-color="#1e8bbd"/><stop offset="0.5901" stop-color="#1f7bb5"/><stop offset="0.6045" stop-color="#2072b1"/><stop offset="0.6493" stop-color="#2075b2"/><stop offset="0.6547" stop-color="#2076b3"/><stop offset="0.6565" stop-color="#1f7cb6"/><stop offset="0.6583" stop-color="#2398c1"/><stop offset="0.6601" stop-color="#1f81b8"/><stop offset="0.6619" stop-color="#2078b4"/><stop offset="0.6852" stop-color="#1e86bb"/><stop offset="0.6942" stop-color="#1d91c0"/><stop offset="0.7067" stop-color="#33a8c2"/><stop offset="0.7121" stop-color="#43b7c4"/><stop offset="0.7193" stop-color="#70c7bd"/><stop offset="0.7229" stop-color="#8dd2ba"/><stop offset="0.7283" stop-color="#c2e7b4"/><stop offset="0.7336" stop-color="#e1f3b2"/><stop offset="0.7372" stop-color="#eff9b5"/><stop offset="0.7426" stop-color="#f5fbc2"/><stop offset="0.7444" stop-color="#f5fbc2"/><stop offset="0.7462" stop-color="#f3fabe"/><stop offset="0.7480" stop-color="#eff9b6"/><stop offset="0.7498" stop-color="#e7f6b1"/><stop offset="0.7534" stop-color="#cbebb4"/><stop offset="0.7587" stop-color="#7ecdbb"/><stop offset="0.7641" stop-color="#45b7c3"/><stop offset="0.7677" stop-color="#32a7c2"/><stop offset="0.7731" stop-color="#2095c0"/><stop offset="0.7767" stop-color="#1e8bbd"/><stop offset="0.7874" stop-color="#1f7bb5"/><stop offset="0.8126" stop-color="#216faf"/><stop offset="0.8969" stop-color="#2268ac"/><stop offset="1.0000" stop-color="#2267ab"/></linearGradient><linearGradient id="h137" x1="0" y1="0" x2="0" y2="1"><stop offset="0.0000" stop-color="#1f82b9"/><stop offset="0.0377" stop-color="#1f82b9"/><stop offset="0.0413" stop-color="#2079b4"/><stop offset="0.0448" stop-color="#1f81b8"/><stop offset="0.3498" stop-color="#1e89bc"/><stop offset="0.4323" stop-color="#1f93c0"/><stop offset="0.4717" stop-color="#2da1c2"/><stop offset="0.4951" stop-color="#40b5c4"/><stop offset="0.5130" stop-color="#68c4be"/><stop offset="0.5184" stop-color="#76cabc"/><stop offset="0.5202" stop-color="#81cebb"/><stop offset="0.5220" stop-color="#a4dbb7"/><stop offset="0.5238" stop-color="#88d1ba"/><stop offset="0.5291" stop-color="#96d6b9"/><stop offset="0.5399" stop-color="#b0e0b6"/><stop offset="0.5489" stop-color="#b8e3b5"/><stop offset="0.5525" stop-color="#b4e2b6"/><stop offset="0.5561" stop-color="#a5dcb7"/><stop offset="0.5668" stop-color="#59bfc1"/><stop offset="0.5704" stop-color="#40b5c4"/><stop offset="0.5794" stop-color="#2196c0"/><stop offset="0.5812" stop-color="#1d91c0"/><stop offset="0.5901" stop-color="#1f7db6"/><stop offset="0.6027" stop-color="#2073b1"/><stop offset="0.6422" stop-color="#2073b1"/><stop offset="0.6547" stop-color="#2076b3"/><stop offset="0.6565" stop-color="#1f7bb5"/><stop offset="0.6583" stop-color="#2397c1"/><stop offset="0.6601" stop-color="#1f81b8"/><stop offset="0.6619" stop-color="#2078b4"/><stop offset="0.6870" stop-color="#1e86bb"/><stop offset="0.6978" stop-color="#1f93c0"/><stop offset="0.7103" stop-color="#36abc3"/><stop offset="0.7139" stop-color="#40b5c4"/><stop offset="0.7211" stop-color="#6bc6be"/><stop offset="0.7265" stop-color="#98d7b9"/><stop offset="0.7318" stop-color="#caeab4"/><stop offset="0.7390" stop-color="#edf8b2"/><stop offset="0.7444" stop-color="#f4fbc1"/><stop offset="0.7480" stop-color="#f4fbc1"/><stop offset="0.7516" stop-color="#edf8b1"/><stop offset="0.7552" stop-color="#d4eeb3"/><stop offset="0.7570" stop-color="#c4e8b4"/><stop offset="0.7605" stop-color="#8ed3ba"/><stop offset="0.7641" stop-color="#62c2bf"/><stop offset="0.7677" stop-color="#40b5c4"/><stop offset="0.7749" stop-color="#2498c1"/><stop offset="0.7785" stop-color="#1d8fbf"/><stop offset="0.7874" stop-color="#1f7fb7"/><stop offset="0.8072" stop-color="#2072b1"/><stop offset="0.8646" stop-color="#2169ad"/><stop offset="1.0000" stop-color="#2267ab"/></linearGradient><linearGradient id="h138" x1="0" y1="0" x2="0" y2="1"><stop offset="0.0000" stop-color="#1f82b9"/><stop offset="0.0377" stop-color="#1f82b9"/><stop offset="0.0413" stop-color="#2079b4"/><stop offset="0.0448" stop-color="#1f81b8"/><stop offset="0.3516" stop-color="#1e89bc"/><stop offset="0.4341" stop-color="#1f93c0"/><stop offset="0.4735" stop-color="#2da1c2"/><stop offset="0.4969" stop-color="#40b5c4"/><stop offset="0.5130" stop-color="#63c3bf"/><stop offset="0.5184" stop-color="#71c8bd"/><stop offset="0.5202" stop-color="#7cccbb"/><stop offset="0.5220" stop-color="#9ed9b8"/><stop offset="0.5238" stop-color="#83cfbb"/><stop offset="0.5274" stop-color="#8cd2ba"/><stop offset="0.5399" stop-color="#aedfb6"/><stop offset="0.5489" stop-color="#bae4b5"/><stop offset="0.5525" stop-color="#bae4b5"/><stop offset="0.5561" stop-color="#b0e0b6"/><stop offset="0.5596" stop-color="#9cd8b8"/><stop offset="0.5722" stop-color="#3fb4c4"/><stop offset="0.5812" stop-color="#2094c0"/><stop offset="0.5848" stop-color="#1e8abd"/><stop offset="0.5937" stop-color="#207ab5"/><stop offset="0.6099" stop-color="#2171b1"/><stop offset="0.6547" stop-color="#2075b2"/><stop offset="0.6565" stop-color="#207ab5"/><stop offset="0.6583" stop-color="#2296c1"/><stop offset="0.6601" stop-color="#1f80b8"/><stop offset="0.6619" stop-color="#2077b3"/><stop offset="0.6870" stop-color="#1e84ba"/><stop offset="0.6996" stop-color="#1f93c0"/><stop offset="0.7121" stop-color="#35aac3"/><stop offset="0.7175" stop-color="#46b8c3"/><stop offset="0.7247" stop-color="#74c9bd"/><stop offset="0.7283" stop-color="#92d4b9"/><stop offset="0.7336" stop-color="#c6e9b4"/><stop offset="0.7408" stop-color="#ebf7b1"/><stop offset="0.7462" stop-color="#f4fbc0"/><stop offset="0.7498" stop-color="#f5fbc3"/><stop offset="0.7516" stop-color="#f3fabf"/><stop offset="0.7552" stop-color="#e8f6b1"/><stop offset="0.7587" stop-color="#ceecb3"/><stop offset="0.7605" stop-color="#b9e3b5"/><stop offset="0.7641" stop-color="#84cfbb"/><stop offset="0.7677" stop-color="#5bc0c0"/><stop offset="0.7695" stop-color="#4ab9c3"/><stop offset="0.7713" stop-color="#3db2c4"/><stop offset="0.7785" stop-color="#2397c1"/><stop offset="0.7821" stop-color="#1d8ebe"/><stop offset="0.7928" stop-color="#1f7db6"/><stop offset="0.8161" stop-color="#2170b0"/><stop offset="0.8897" stop-color="#2268ac"/><stop offset="1.0000" stop-color="#2267ab"/></linearGradient><linearGradient id="h139" x1="0" y1="0" x2="0" y2="1"><stop offset="0.0000" stop-color="#1f82b8"/><stop offset="0.0377" stop-color="#1f82b8"/><stop offset="0.0413" stop-color="#2079b4"/><stop offset="0.0448" stop-color="#1f81b8"/><stop offset="0.3534" stop-color="#1e89bc"/><stop offset="0.4359" stop-color="#1f93c0"/><stop offset="0.4753" stop-color="#2ca1c2"/><stop offset="0.4987" stop-color="#40b5c4"/><stop offset="0.5148" stop-color="#64c3bf"/><stop offset="0.5184" stop-color="#6dc6be"/><stop offset="0.5202" stop-color="#78cbbc"/><stop offset="0.5220" stop-color="#9ad8b8"/><stop offset="0.5238" stop-color="#7fcdbb"/><stop offset="0.5274" stop-color="#88d1ba"/><stop offset="0.5399" stop-color="#addfb6"/><stop offset="0.5489" stop-color="#bce5b5"/><stop offset="0.5543" stop-color="#bce5b5"/><stop offset="0.5578" stop-color="#b0e0b6"/><stop offset="0.5632" stop-color="#8cd2ba"/><stop offset="0.5722" stop-color="#46b8c3"/><stop offset="0.5776" stop-color="#2ea3c2"/><stop offset="0.5830" stop-color="#1e92c0"/><stop offset="0.5919" stop-color="#1f7db6"/><stop offset="0.6045" stop-color="#2073b1"/><stop offset="0.6457" stop-color="#2073b1"/><stop offset="0.6547" stop-color="#2075b2"/><stop offset="0.6565" stop-color="#207ab5"/><stop offset="0.6583" stop-color="#2195c0"/><stop offset="0.6601" stop-color="#1f80b8"/><stop offset="0.6619" stop-color="#2077b3"/><stop offset="0.6888" stop-color="#1e84ba"/><stop offset="0.7013" stop-color="#1e92c0"/><stop offset="0.7139" stop-color="#34a9c3"/><stop offset="0.7193" stop-color="#43b7c4"/><stop offset="0.7265" stop-color="#6fc7bd"/><stop offset="0.7300" stop-color="#8cd2ba"/><stop offset="0.7354" stop-color="#bfe6b5"/><stop offset="0.7390" stop-color="#d6efb3"/><stop offset="0.7444" stop-color="#eef8b3"/><stop offset="0.7498" stop-color="#f5fbc2"/><stop offset="0.7534" stop-color="#f5fbc2"/><stop offset="0.7570" stop-color="#eef8b3"/><stop offset="0.7605" stop-color="#d6efb3"/><stop offset="0.7623" stop-color="#c8e9b4"/><stop offset="0.7677" stop-color="#7cccbc"/><stop offset="0.7731" stop-color="#45b7c3"/><stop offset="0.7767" stop-color="#33a8c2"/><stop offset="0.7839" stop-color="#1d91c0"/><stop offset="0.7928" stop-color="#1f80b8"/><stop offset="0.8108" stop-color="#2073b1"/><stop offset="0.8610" stop-color="#216aad"/><stop offset="1.0000" stop-color="#2267ab"/></linearGradient><linearGradient id="h140" x1="0" y1="0" x2="0" y2="1"><stop offset="0.0000" stop-color="#1f82b8"/><stop offset="0.0377" stop-color="#1f81b8"/><stop offset="0.0413" stop-color="#2079b4"/><stop offset="0.0448" stop-color="#1f81b8"/><stop offset="0.3552" stop-color="#1e89bc"/><stop offset="0.4395" stop-color="#1f93c0"/><stop offset="0.4771" stop-color="#2ca1c2"/><stop offset="0.5004" stop-color="#40b5c4"/><stop offset="0.5148" stop-color="#60c2bf"/><stop offset="0.5184" stop-color="#6ac5be"/><stop offset="0.5202" stop-color="#75c9bc"/><stop offset="0.5220" stop-color="#96d6b9"/><stop offset="0.5238" stop-color="#7cccbb"/><stop offset="0.5274" stop-color="#84cfba"/><stop offset="0.5417" stop-color="#b1e0b6"/><stop offset="0.5507" stop-color="#c0e6b5"/><stop offset="0.5561" stop-color="#bfe6b5"/><stop offset="0.5596" stop-color="#b1e0b6"/><stop offset="0.5650" stop-color="#8ad1ba"/><stop offset="0.5740" stop-color="#42b6c4"/><stop offset="0.5830" stop-color="#2094c0"/><stop offset="0.5865" stop-color="#1e8abc"/><stop offset="0.5955" stop-color="#2079b4"/><stop offset="0.6117" stop-color="#2171b0"/><stop offset="0.6547" stop-color="#2074b2"/><stop offset="0.6565" stop-color="#2079b4"/><stop offset="0.6583" stop-color="#2195c0"/><stop offset="0.6601" stop-color="#1f80b7"/><stop offset="0.6619" stop-color="#2076b3"/><stop offset="0.6906" stop-color="#1e84b9"/><stop offset="0.7031" stop-color="#1e92c0"/><stop offset="0.7157" stop-color="#33a7c2"/><stop offset="0.7211" stop-color="#41b6c4"/><stop offset="0.7283" stop-color="#6bc6be"/><stop offset="0.7336" stop-color="#96d6b9"/><stop offset="0.7390" stop-color="#c9eab4"/><stop offset="0.7462" stop-color="#ecf8b1"/><stop offset="0.7516" stop-color="#f4fbc1"/><stop offset="0.7552" stop-color="#f5fbc4"/><stop offset="0.7587" stop-color="#f0f9b9"/><stop offset="0.7605" stop-color="#eaf7b1"/><stop offset="0.7641" stop-color="#d0edb3"/><stop offset="0.7659" stop-color="#bee6b5"/><stop offset="0.7695" stop-color="#8ad1ba"/><stop offset="0.7731" stop-color="#61c2bf"/><stop offset="0.7767" stop-color="#40b5c4"/><stop offset="0.7839" stop-color="#259ac1"/><stop offset="0.7874" stop-color="#1d91c0"/><stop offset="0.7964" stop-color="#1f80b8"/><stop offset="0.8161" stop-color="#2073b1"/><stop offset="0.8717" stop-color="#216aad"/><stop offset="1.0000" stop-color="#2267ab"/></linearGradient><linearGradient id="h141" x1="0" y1="0" x2="0" y2="1"><stop offset="0.0000" stop-color="#1f81b8"/><stop offset="0.0377" stop-color="#1f81b8"/><stop offset="0.0413" stop-color="#2079b4"/><stop offset="0.0448" stop-color="#1f81b8"/><stop offset="0.3570" stop-color="#1e89bc"/><stop offset="0.4413" stop-color="#1f93c0"/><stop offset="0.4789" stop-color="#2ca1c2"/><stop offset="0.5022" stop-color="#40b5c4"/><stop offset="0.5166" stop-color="#61c2bf"/><stop offset="0.5184" stop-color="#66c4bf"/><stop offset="0.5202" stop-color="#71c8bd"/><stop offset="0.5220" stop-color="#92d4b9"/><stop offset="0.5238" stop-color="#78cabc"/><stop offset="0.5274" stop-color="#80cdbb"/><stop offset="0.5417" stop-color="#b0e0b6"/><stop offset="0.5507" stop-color="#c2e7b5"/><stop offset="0.5561" stop-color="#c4e8b4"/><stop offset="0.5596" stop-color="#bbe4b5"/><stop offset="0.5632" stop-color="#a5dcb7"/><stop offset="0.5740" stop-color="#4bbac3"/><stop offset="0.5758" stop-color="#3eb3c4"/><stop offset="0.5848" stop-color="#1e92c0"/><stop offset="0.5919" stop-color="#1f7fb7"/><stop offset="0.6027" stop-color="#2074b2"/><stop offset="0.6350" stop-color="#2171b0"/><stop offset="0.6547" stop-color="#2074b2"/><stop offset="0.6565" stop-color="#2079b4"/><stop offset="0.6583" stop-color="#2094c0"/><stop offset="0.6601" stop-color="#1f7fb7"/><stop offset="0.6619" stop-color="#2075b3"/><stop offset="0.6906" stop-color="#1f82b9"/><stop offset="0.7049" stop-color="#1d91c0"/><stop offset="0.7175" stop-color="#32a6c2"/><stop offset="0.7229" stop-color="#3fb4c4"/><stop offset="0.7283" stop-color="#5bc0c0"/><stop offset="0.7336" stop-color="#80cdbb"/><stop offset="0.7408" stop-color="#c3e8b4"/><stop offset="0.7480" stop-color="#e9f6b1"/><stop offset="0.7516" stop-color="#f2fabb"/><stop offset="0.7570" stop-color="#f6fbc5"/><stop offset="0.7587" stop-color="#f5fbc3"/><stop offset="0.7623" stop-color="#eff9b5"/><stop offset="0.7659" stop-color="#d8f0b3"/><stop offset="0.7677" stop-color="#cbeab4"/><stop offset="0.7731" stop-color="#81cebb"/><stop offset="0.7785" stop-color="#4ab9c3"/><stop offset="0.7803" stop-color="#3eb3c4"/><stop offset="0.7874" stop-color="#2498c1"/><stop offset="0.7910" stop-color="#1d90bf"/><stop offset="0.8018" stop-color="#1f7eb7"/><stop offset="0.8233" stop-color="#2171b1"/><stop offset="0.8879" stop-color="#2169ac"/><stop offset="1.0000" stop-color="#2267ab"/></linearGradient><linearGradient id="h142" x1="0" y1="0" x2="0" y2="1"><stop offset="0.0000" stop-color="#1f81b8"/><stop offset="0.0377" stop-color="#1f81b8"/><stop offset="0.0413" stop-color="#2079b4"/><stop offset="0.0448" stop-color="#1f81b8"/><stop offset="0.3587" stop-color="#1e89bc"/><stop offset="0.4430" stop-color="#1f93c0"/><stop offset="0.4807" stop-color="#2ca0c2"/><stop offset="0.5040" stop-color="#40b5c4"/><stop offset="0.5184" stop-color="#62c2bf"/><stop offset="0.5202" stop-color="#6dc6be"/><stop offset="0.5220" stop-color="#8dd2ba"/><stop offset="0.5238" stop-color="#74c9bd"/><stop offset="0.5274" stop-color="#7cccbb"/><stop offset="0.5435" stop-color="#b3e1b6"/><stop offset="0.5525" stop-color="#c5e8b4"/><stop offset="0.5578" stop-color="#c7e9b4"/><stop offset="0.5614" stop-color="#bce5b5"/><stop offset="0.5650" stop-color="#a4dbb7"/><stop offset="0.5758" stop-color="#46b8c3"/><stop offset="0.5812" stop-color="#2da1c2"/><stop offset="0.5848" stop-color="#2094c0"/><stop offset="0.5883" stop-color="#1e89bc"/><stop offset="0.5973" stop-color="#2078b4"/><stop offset="0.6135" stop-color="#2171b0"/><stop offset="0.6547" stop-color="#2073b1"/><stop offset="0.6565" stop-color="#2078b4"/><stop offset="0.6583" stop-color="#2094c0"/><stop offset="0.6601" stop-color="#1f7fb7"/><stop offset="0.6619" stop-color="#2075b2"/><stop offset="0.6924" stop-color="#1f82b9"/><stop offset="0.7085" stop-color="#1f93c0"/><stop offset="0.7211" stop-color="#35a9c3"/><stop offset="0.7265" stop-color="#44b7c4"/><stop offset="0.7336" stop-color="#6fc7bd"/><stop offset="0.7390" stop-color="#9ad8b8"/><stop offset="0.7444" stop-color="#cbebb4"/><stop offset="0.7516" stop-color="#edf8b1"/><stop offset="0.7570" stop-color="#f5fbc2"/><stop offset="0.7605" stop-color="#f6fbc5"/><stop offset="0.7641" stop-color="#f1faba"/><stop offset="0.7659" stop-color="#ecf8b1"/><stop offset="0.7713" stop-color="#c3e8b4"/><stop offset="0.7767" stop-color="#79cbbc"/><stop offset="0.7821" stop-color="#45b8c3"/><stop offset="0.7857" stop-color="#34a9c3"/><stop offset="0.7928" stop-color="#1f93c0"/><stop offset="0.8036" stop-color="#1f80b7"/><stop offset="0.8233" stop-color="#2073b1"/><stop offset="0.8789" stop-color="#216aad"/><stop offset="1.0000" stop-color="#2267ab"/></linearGradient><linearGradient id="h143" x1="0" y1="0" x2="0" y2="1"><stop offset="0.0000" stop-color="#1f81b8"/><stop offset="0.0377" stop-color="#1f81b8"/><stop offset="0.0413" stop-color="#2079b4"/><stop offset="0.0448" stop-color="#1f81b8"/><stop offset="0.3605" stop-color="#1e88bc"/><stop offset="0.4448" stop-color="#1f93c0"/><stop offset="0.4825" stop-color="#2ca0c2"/><stop offset="0.5058" stop-color="#40b5c4"/><stop offset="0.5184" stop-color="#5dc1c0"/><stop offset="0.5202" stop-color="#69c5be"/><stop offset="0.5220" stop-color="#88d0ba"/><stop offset="0.5238" stop-color="#70c7bd"/><stop offset="0.5291" stop-color="#7ecdbb"/><stop offset="0.5453" stop-color="#b7e3b6"/><stop offset="0.5525" stop-color="#c7e9b4"/><stop offset="0.5596" stop-color="#c9eab4"/><stop offset="0.5614" stop-color="#c5e8b4"/><stop offset="0.5650" stop-color="#b0e0b6"/><stop offset="0.5776" stop-color="#41b6c4"/><stop offset="0.5848" stop-color="#2397c1"/><stop offset="0.5865" stop-color="#1e92c0"/><stop offset="0.5937" stop-color="#1f7eb7"/><stop offset="0.6045" stop-color="#2073b1"/><stop offset="0.6386" stop-color="#2171b0"/><stop offset="0.6547" stop-color="#2073b1"/><stop offset="0.6565" stop-color="#2077b3"/><stop offset="0.6583" stop-color="#1f93c0"/><stop offset="0.6601" stop-color="#1f7fb7"/><stop offset="0.6619" stop-color="#2075b2"/><stop offset="0.6942" stop-color="#1f82b8"/><stop offset="0.7103" stop-color="#1e92c0"/><stop offset="0.7229" stop-color="#33a8c2"/><stop offset="0.7283" stop-color="#41b6c4"/><stop offset="0.7354" stop-color="#6bc5be"/><stop offset="0.7408" stop-color="#94d5b9"/><stop offset="0.7462" stop-color="#c7e9b4"/><stop offset="0.7534" stop-color="#eaf7b1"/><stop offset="0.7587" stop-color="#f4fbc1"/><stop offset="0.7623" stop-color="#f6fcc6"/><stop offset="0.7659" stop-color="#f3fabf"/><stop offset="0.7677" stop-color="#eff9b6"/><stop offset="0.7695" stop-color="#e7f6b1"/><stop offset="0.7731" stop-color="#cdebb4"/><stop offset="0.7749" stop-color="#b9e4b5"/><stop offset="0.7785" stop-color="#87d0ba"/><stop offset="0.7821" stop-color="#60c2bf"/><stop offset="0.7857" stop-color="#41b6c4"/><stop offset="0.7928" stop-color="#279bc1"/><stop offset="0.7964" stop-color="#1e92c0"/><stop offset="0.8072" stop-color="#1f7fb7"/><stop offset="0.8287" stop-color="#2072b1"/><stop offset="0.8897" stop-color="#2169ad"/><stop offset="1.0000" stop-color="#2267ab"/></linearGradient><linearGradient id="h144" x1="0" y1="0" x2="0" y2="1"><stop offset="0.0000" stop-color="#1f81b8"/><stop offset="0.0377" stop-color="#1f81b8"/><stop offset="0.0413" stop-color="#2079b4"/><stop offset="0.0448" stop-color="#1f81b8"/><stop offset="0.3623" stop-color="#1e88bc"/><stop offset="0.4484" stop-color="#1f93c0"/><stop offset="0.4861" stop-color="#2da1c2"/><stop offset="0.5076" stop-color="#40b5c4"/><stop offset="0.5184" stop-color="#59bfc1"/><stop offset="0.5202" stop-color="#64c3bf"/><stop offset="0.5220" stop-color="#83cebb"/><stop offset="0.5238" stop-color="#6bc6be"/><stop offset="0.5291" stop-color="#79cbbc"/><stop offset="0.5471" stop-color="#bae4b5"/><stop offset="0.5525" stop-color="#c7e9b4"/><stop offset="0.5614" stop-color="#caeab4"/><stop offset="0.5632" stop-color="#c6e9b4"/><stop offset="0.5668" stop-color="#afe0b6"/><stop offset="0.5776" stop-color="#4ab9c3"/><stop offset="0.5794" stop-color="#3db2c4"/><stop offset="0.5865" stop-color="#2094c0"/><stop offset="0.5901" stop-color="#1e89bc"/><stop offset="0.5973" stop-color="#2079b4"/><stop offset="0.6099" stop-color="#2171b0"/><stop offset="0.6547" stop-color="#2073b1"/><stop offset="0.6565" stop-color="#2077b3"/><stop offset="0.6583" stop-color="#1e92c0"/><stop offset="0.6601" stop-color="#1f7eb7"/><stop offset="0.6619" stop-color="#2074b2"/><stop offset="0.6942" stop-color="#1f80b8"/><stop offset="0.7121" stop-color="#1e92c0"/><stop offset="0.7247" stop-color="#32a7c2"/><stop offset="0.7300" stop-color="#40b5c4"/><stop offset="0.7372" stop-color="#67c4bf"/><stop offset="0.7408" stop-color="#7fcdbb"/><stop offset="0.7480" stop-color="#c1e7b5"/><stop offset="0.7516" stop-color="#d6efb3"/><stop offset="0.7570" stop-color="#eef8b3"/><stop offset="0.7623" stop-color="#f5fbc3"/><stop offset="0.7659" stop-color="#f6fcc6"/><stop offset="0.7695" stop-color="#f2fabb"/><stop offset="0.7713" stop-color="#edf8b2"/><stop offset="0.7767" stop-color="#c8e9b4"/><stop offset="0.7821" stop-color="#7fcdbb"/><stop offset="0.7874" stop-color="#4bbac3"/><stop offset="0.7892" stop-color="#3eb3c4"/><stop offset="0.7964" stop-color="#259ac1"/><stop offset="0.8000" stop-color="#1d91c0"/><stop offset="0.8108" stop-color="#1f7fb7"/><stop offset="0.8323" stop-color="#2072b1"/><stop offset="0.8933" stop-color="#216aad"/><stop offset="1.0000" stop-color="#2267ab"/></linearGradient><linearGradient id="h145" x1="0" y1="0" x2="0" y2="1"><stop offset="0.0000" stop-color="#1f81b8"/><stop offset="0.0395" stop-color="#1f7fb7"/><stop offset="0.0413" stop-color="#2079b4"/><stop offset="0.0448" stop-color="#1f81b8"/><stop offset="0.3641" stop-color="#1e88bc"/><stop offset="0.4502" stop-color="#1f93c0"/><stop offset="0.4879" stop-color="#2da1c2"/><stop offset="0.5094" stop-color="#40b5c4"/><stop offset="0.5184" stop-color="#55bdc1"/><stop offset="0.5202" stop-color="#60c1c0"/><stop offset="0.5220" stop-color="#7eccbb"/><stop offset="0.5238" stop-color="#67c4bf"/><stop offset="0.5291" stop-color="#75c9bc"/><stop offset="0.5489" stop-color="#bee5b5"/><stop offset="0.5543" stop-color="#c9eab4"/><stop offset="0.5614" stop-color="#cdebb4"/><stop offset="0.5650" stop-color="#c7e9b4"/><stop offset="0.5686" stop-color="#addfb6"/><stop offset="0.5794" stop-color="#45b7c3"/><stop offset="0.5848" stop-color="#2a9ec1"/><stop offset="0.5883" stop-color="#1d91c0"/><stop offset="0.5955" stop-color="#1f7db6"/><stop offset="0.6063" stop-color="#2072b1"/><stop offset="0.6439" stop-color="#2171b0"/><stop offset="0.6547" stop-color="#2072b1"/><stop offset="0.6565" stop-color="#2076b3"/><stop offset="0.6583" stop-color="#1e92c0"/><stop offset="0.6601" stop-color="#1f7eb7"/><stop offset="0.6619" stop-color="#2074b2"/><stop offset="0.6960" stop-color="#1f80b8"/><stop offset="0.7139" stop-color="#1d91c0"/><stop offset="0.7265" stop-color="#31a6c2"/><stop offset="0.7336" stop-color="#45b7c3"/><stop offset="0.7408" stop-color="#6ec7bd"/><stop offset="0.7462" stop-color="#99d7b8"/><stop offset="0.7516" stop-color="#c9eab4"/><stop offset="0.7587" stop-color="#ecf8b1"/><stop offset="0.7641" stop-color="#f5fbc2"/><stop offset="0.7677" stop-color="#f7fcc6"/><stop offset="0.7713" stop-color="#f4fbc0"/><stop offset="0.7749" stop-color="#e9f6b1"/><stop offset="0.7785" stop-color="#d0ecb3"/><stop offset="0.7803" stop-color="#bee6b5"/><stop offset="0.7857" stop-color="#78cabc"/><stop offset="0.7910" stop-color="#46b8c3"/><stop offset="0.7946" stop-color="#35aac3"/><stop offset="0.8018" stop-color="#2094c0"/><stop offset="0.8054" stop-color="#1e8cbe"/><stop offset="0.8179" stop-color="#1f7cb6"/><stop offset="0.8466" stop-color="#216fb0"/><stop offset="0.9399" stop-color="#2268ac"/><stop offset="1.0000" stop-color="#2267ac"/></linearGradient><linearGradient id="h146" x1="0" y1="0" x2="0" y2="1"><stop offset="0.0000" stop-color="#1f81b8"/><stop offset="0.0395" stop-color="#1f7fb7"/><stop offset="0.0413" stop-color="#2079b4"/><stop offset="0.0448" stop-color="#1f81b8"/><stop offset="0.3659" stop-color="#1e88bc"/><stop offset="0.4520" stop-color="#1f93c0"/><stop offset="0.4897" stop-color="#2ca1c2"/><stop offset="0.5112" stop-color="#40b5c4"/><stop offset="0.5184" stop-color="#50bcc2"/><stop offset="0.5202" stop-color="#5bc0c0"/><stop offset="0.5220" stop-color="#79cbbc"/><stop offset="0.5238" stop-color="#62c2bf"/><stop offset="0.5291" stop-color="#70c7bd"/><stop offset="0.5507" stop-color="#c1e7b5"/><stop offset="0.5561" stop-color="#cbebb4"/><stop offset="0.5632" stop-color="#ceecb3"/><stop offset="0.5668" stop-color="#c7e9b4"/><stop offset="0.5704" stop-color="#abdeb7"/><stop offset="0.5794" stop-color="#4fbbc2"/><stop offset="0.5812" stop-color="#3fb4c4"/><stop offset="0.5883" stop-color="#2094c0"/><stop offset="0.5919" stop-color="#1e88bb"/><stop offset="0.5991" stop-color="#2078b4"/><stop offset="0.6117" stop-color="#2171b0"/><stop offset="0.6547" stop-color="#2072b1"/><stop offset="0.6565" stop-color="#2076b3"/><stop offset="0.6583" stop-color="#1d91c0"/><stop offset="0.6601" stop-color="#1f7eb7"/><stop offset="0.6619" stop-color="#2073b1"/><stop offset="0.6978" stop-color="#1f80b8"/><stop offset="0.7175" stop-color="#1f93c0"/><stop offset="0.7300" stop-color="#34a9c3"/><stop offset="0.7354" stop-color="#42b6c4"/><stop offset="0.7426" stop-color="#6ac5be"/><stop offset="0.7480" stop-color="#93d5b9"/><stop offset="0.7534" stop-color="#c5e8b4"/><stop offset="0.7605" stop-color="#e9f6b1"/><stop offset="0.7641" stop-color="#f2fabb"/><stop offset="0.7695" stop-color="#f7fcc7"/><stop offset="0.7731" stop-color="#f5fbc3"/><stop offset="0.7767" stop-color="#eef8b3"/><stop offset="0.7821" stop-color="#cbeab4"/><stop offset="0.7874" stop-color="#85cfba"/><stop offset="0.7928" stop-color="#50bbc2"/><stop offset="0.7946" stop-color="#41b6c4"/><stop offset="0.8018" stop-color="#289cc1"/><stop offset="0.8072" stop-color="#1d90bf"/><stop offset="0.8179" stop-color="#1f7fb7"/><stop offset="0.8413" stop-color="#2072b1"/><stop offset="0.9076" stop-color="#2169ad"/><stop offset="1.0000" stop-color="#2267ac"/></linearGradient><linearGradient id="h147" x1="0" y1="0" x2="0" y2="1"><stop offset="0.0000" stop-color="#1f81b8"/><stop offset="0.0395" stop-color="#1f7fb7"/><stop offset="0.0413" stop-color="#2079b4"/><stop offset="0.0448" stop-color="#1f81b8"/><stop offset="0.3695" stop-color="#1e88bc"/><stop offset="0.4556" stop-color="#1f93c0"/><stop offset="0.4915" stop-color="#2ca0c2"/><stop offset="0.5130" stop-color="#40b5c4"/><stop offset="0.5184" stop-color="#4bbac2"/><stop offset="0.5202" stop-color="#56bec1"/><stop offset="0.5220" stop-color="#74c9bd"/><stop offset="0.5238" stop-color="#5dc0c0"/><stop offset="0.5291" stop-color="#6bc6be"/><stop offset="0.5399" stop-color="#94d5b9"/><stop offset="0.5525" stop-color="#c5e8b4"/><stop offset="0.5614" stop-color="#d0ecb3"/><stop offset="0.5668" stop-color="#cdebb4"/><stop offset="0.5686" stop-color="#c7e9b4"/><stop offset="0.5722" stop-color="#a8ddb7"/><stop offset="0.5794" stop-color="#5bc0c0"/><stop offset="0.5812" stop-color="#49b9c3"/><stop offset="0.5830" stop-color="#3cb1c3"/><stop offset="0.5901" stop-color="#1d91c0"/><stop offset="0.5973" stop-color="#1f7cb6"/><stop offset="0.6081" stop-color="#2072b1"/><stop offset="0.6511" stop-color="#2171b0"/><stop offset="0.6547" stop-color="#2072b1"/><stop offset="0.6565" stop-color="#2075b3"/><stop offset="0.6583" stop-color="#1d91c0"/><stop offset="0.6601" stop-color="#1f7eb7"/><stop offset="0.6619" stop-color="#2073b1"/><stop offset="0.6978" stop-color="#1f7fb7"/><stop offset="0.7175" stop-color="#1d90c0"/><stop offset="0.7300" stop-color="#2fa4c2"/><stop offset="0.7372" stop-color="#40b5c4"/><stop offset="0.7444" stop-color="#67c4bf"/><stop offset="0.7480" stop-color="#7ecdbb"/><stop offset="0.7552" stop-color="#bee6b5"/><stop offset="0.7570" stop-color="#cbebb4"/><stop offset="0.7641" stop-color="#edf8b1"/><stop offset="0.7695" stop-color="#f5fbc3"/><stop offset="0.7731" stop-color="#f7fcc7"/><stop offset="0.7767" stop-color="#f4fbc1"/><stop offset="0.7803" stop-color="#ebf7b1"/><stop offset="0.7857" stop-color="#c4e8b4"/><stop offset="0.7910" stop-color="#7dccbb"/><stop offset="0.7964" stop-color="#4bbac3"/><stop offset="0.7982" stop-color="#3fb4c4"/><stop offset="0.8054" stop-color="#279bc1"/><stop offset="0.8108" stop-color="#1d8fbf"/><stop offset="0.8233" stop-color="#1f7db6"/><stop offset="0.8502" stop-color="#2170b0"/><stop offset="0.9327" stop-color="#2268ac"/><stop offset="1.0000" stop-color="#2267ac"/></linearGradient><linearGradient id="h148" x1="0" y1="0" x2="0" y2="1"><stop offset="0.0000" stop-color="#1f81b8"/><stop offset="0.0395" stop-color="#1f7fb7"/><stop offset="0.0413" stop-color="#2079b4"/><stop offset="0.0448" stop-color="#1f81b8"/><stop offset="0.3713" stop-color="#1e88bc"/><stop offset="0.4574" stop-color="#1f93c0"/><stop offset="0.4933" stop-color="#2ca0c2"/><stop offset="0.5148" stop-color="#40b5c4"/><stop offset="0.5184" stop-color="#47b8c3"/><stop offset="0.5202" stop-color="#51bcc2"/><stop offset="0.5220" stop-color="#6fc7bd"/><stop offset="0.5238" stop-color="#58bec1"/><stop offset="0.5274" stop-color="#60c1c0"/><stop offset="0.5381" stop-color="#86d0ba"/><stop offset="0.5525" stop-color="#c2e7b4"/><stop offset="0.5578" stop-color="#cdebb4"/><stop offset="0.5650" stop-color="#d2edb3"/><stop offset="0.5686" stop-color="#cdebb4"/><stop offset="0.5704" stop-color="#c7e9b4"/><stop offset="0.5740" stop-color="#a5dcb7"/><stop offset="0.5812" stop-color="#54bdc1"/><stop offset="0.5830" stop-color="#42b6c4"/><stop offset="0.5883" stop-color="#279bc1"/><stop offset="0.5901" stop-color="#2094c0"/><stop offset="0.5937" stop-color="#1e87bb"/><stop offset="0.6009" stop-color="#2077b3"/><stop offset="0.6135" stop-color="#2170b0"/><stop offset="0.6547" stop-color="#2171b1"/><stop offset="0.6565" stop-color="#2075b2"/><stop offset="0.6583" stop-color="#1d90c0"/><stop offset="0.6601" stop-color="#1f7eb7"/><stop offset="0.6619" stop-color="#2073b1"/><stop offset="0.6996" stop-color="#1f7eb7"/><stop offset="0.7193" stop-color="#1d90bf"/><stop offset="0.7318" stop-color="#2ea3c2"/><stop offset="0.7390" stop-color="#3fb4c4"/><stop offset="0.7444" stop-color="#58bfc1"/><stop offset="0.7498" stop-color="#7acbbc"/><stop offset="0.7587" stop-color="#c8e9b4"/><stop offset="0.7659" stop-color="#eaf7b1"/><stop offset="0.7731" stop-color="#f6fcc5"/><stop offset="0.7767" stop-color="#f7fcc8"/><stop offset="0.7803" stop-color="#f3fabe"/><stop offset="0.7821" stop-color="#eff9b5"/><stop offset="0.7839" stop-color="#e6f5b2"/><stop offset="0.7874" stop-color="#cdebb4"/><stop offset="0.7892" stop-color="#bae4b5"/><stop offset="0.7928" stop-color="#8bd2ba"/><stop offset="0.7964" stop-color="#65c3bf"/><stop offset="0.8000" stop-color="#47b8c3"/><stop offset="0.8036" stop-color="#36aac3"/><stop offset="0.8126" stop-color="#1e92c0"/><stop offset="0.8233" stop-color="#1f80b8"/><stop offset="0.8448" stop-color="#2073b1"/><stop offset="0.9040" stop-color="#216aad"/><stop offset="1.0000" stop-color="#2267ac"/></linearGradient></defs><g shape-rendering="crispEdges"><rect x="124" y="56.3" width="5" height="557.50" fill="url(#h0)"/><rect x="129" y="56.3" width="5" height="557.50" fill="url(#h1)"/><rect x="134" y="56.3" width="5" height="557.50" fill="url(#h2)"/><rect x="139" y="56.3" width="5" height="557.50" fill="url(#h3)"/><rect x="144" y="56.3" width="5" height="557.50" fill="url(#h4)"/><rect x="149" y="56.3" width="5" height="557.50" fill="url(#h5)"/><rect x="154" y="56.3" width="5" height="557.50" fill="url(#h6)"/><rect x="159" y="56.3" width="5" height="557.50" fill="url(#h7)"/><rect x="164" y="56.3" width="5" height="557.50" fill="url(#h8)"/><rect x="169" y="56.3" width="5" height="557.50" fill="url(#h9)"/><rect x="174" y="56.3" width="5" height="557.50" fill="url(#h10)"/><rect x="179" y="56.3" width="5" height="557.50" fill="url(#h11)"/><rect x="184" y="56.3" width="5" height="557.50" fill="url(#h12)"/><rect x="189" y="56.3" width="5" height="557.50" fill="url(#h13)"/><rect x="194" y="56.3" width="5" height="557.50" fill="url(#h14)"/><rect x="199" y="56.3" width="5" height="557.50" fill="url(#h15)"/><rect x="204" y="56.3" width="5" height="557.50" fill="url(#h16)"/><rect x="209" y="56.3" width="5" height="557.50" fill="url(#h17)"/><rect x="214" y="56.3" width="5" height="557.50" fill="url(#h18)"/><rect x="219" y="56.3" width="5" height="557.50" fill="url(#h19)"/><rect x="224" y="56.3" width="5" height="557.50" fill="url(#h20)"/><rect x="229" y="56.3" width="5" height="557.50" fill="url(#h21)"/><rect x="234" y="56.3" width="5" height="557.50" fill="url(#h22)"/><rect x="239" y="56.3" width="5" height="557.50" fill="url(#h23)"/><rect x="244" y="56.3" width="5" height="557.50" fill="url(#h24)"/><rect x="249" y="56.3" width="5" height="557.50" fill="url(#h25)"/><rect x="254" y="56.3" width="5" height="557.50" fill="url(#h26)"/><rect x="259" y="56.3" width="5" height="557.50" fill="url(#h27)"/><rect x="264" y="56.3" width="5" height="557.50" fill="url(#h28)"/><rect x="269" y="56.3" width="5" height="557.50" fill="url(#h29)"/><rect x="274" y="56.3" width="5" height="557.50" fill="url(#h30)"/><rect x="279" y="56.3" width="5" height="557.50" fill="url(#h31)"/><rect x="284" y="56.3" width="5" height="557.50" fill="url(#h32)"/><rect x="289" y="56.3" width="5" height="557.50" fill="url(#h33)"/><rect x="294" y="56.3" width="5" height="557.50" fill="url(#h34)"/><rect x="299" y="56.3" width="5" height="557.50" fill="url(#h35)"/><rect x="304" y="56.3" width="5" height="557.50" fill="url(#h36)"/><rect x="309" y="56.3" width="5" height="557.50" fill="url(#h37)"/><rect x="314" y="56.3" width="5" height="557.50" fill="url(#h38)"/><rect x="319" y="56.3" width="5" height="557.50" fill="url(#h39)"/><rect x="324" y="56.3" width="5" height="557.50" fill="url(#h40)"/><rect x="329" y="56.3" width="5" height="557.50" fill="url(#h41)"/><rect x="334" y="56.3" width="5" height="557.50" fill="url(#h42)"/><rect x="339" y="56.3" width="5" height="557.50" fill="url(#h43)"/><rect x="344" y="56.3" width="5" height="557.50" fill="url(#h44)"/><rect x="349" y="56.3" width="5" height="557.50" fill="url(#h45)"/><rect x="354" y="56.3" width="5" height="557.50" fill="url(#h46)"/><rect x="359" y="56.3" width="5" height="557.50" fill="url(#h47)"/><rect x="364" y="56.3" width="5" height="557.50" fill="url(#h48)"/><rect x="369" y="56.3" width="5" height="557.50" fill="url(#h49)"/><rect x="374" y="56.3" width="5" height="557.50" fill="url(#h50)"/><rect x="379" y="56.3" width="5" height="557.50" fill="url(#h51)"/><rect x="384" y="56.3" width="5" height="557.50" fill="url(#h52)"/><rect x="389" y="56.3" width="5" height="557.50" fill="url(#h53)"/><rect x="394" y="56.3" width="5" height="557.50" fill="url(#h54)"/><rect x="399" y="56.3" width="5" height="557.50" fill="url(#h55)"/><rect x="404" y="56.3" width="5" height="557.50" fill="url(#h56)"/><rect x="409" y="56.3" width="5" height="557.50" fill="url(#h57)"/><rect x="414" y="56.3" width="5" height="557.50" fill="url(#h58)"/><rect x="419" y="56.3" width="5" height="557.50" fill="url(#h59)"/><rect x="424" y="56.3" width="5" height="557.50" fill="url(#h60)"/><rect x="429" y="56.3" width="5" height="557.50" fill="url(#h61)"/><rect x="434" y="56.3" width="5" height="557.50" fill="url(#h62)"/><rect x="439" y="56.3" width="5" height="557.50" fill="url(#h63)"/><rect x="444" y="56.3" width="5" height="557.50" fill="url(#h64)"/><rect x="449" y="56.3" width="5" height="557.50" fill="url(#h65)"/><rect x="454" y="56.3" width="5" height="557.50" fill="url(#h66)"/><rect x="459" y="56.3" width="5" height="557.50" fill="url(#h67)"/><rect x="464" y="56.3" width="5" height="557.50" fill="url(#h68)"/><rect x="469" y="56.3" width="5" height="557.50" fill="url(#h69)"/><rect x="474" y="56.3" width="5" height="557.50" fill="url(#h70)"/><rect x="479" y="56.3" width="5" height="557.50" fill="url(#h71)"/><rect x="484" y="56.3" width="5" height="557.50" fill="url(#h72)"/><rect x="489" y="56.3" width="5" height="557.50" fill="url(#h73)"/><rect x="494" y="56.3" width="5" height="557.50" fill="url(#h74)"/><rect x="499" y="56.3" width="5" height="557.50" fill="url(#h75)"/><rect x="504" y="56.3" width="5" height="557.50" fill="url(#h76)"/><rect x="509" y="56.3" width="5" height="557.50" fill="url(#h77)"/><rect x="514" y="56.3" width="5" height="557.50" fill="url(#h78)"/><rect x="519" y="56.3" width="5" height="557.50" fill="url(#h79)"/><rect x="524" y="56.3" width="5" height="557.50" fill="url(#h80)"/><rect x="529" y="56.3" width="5" height="557.50" fill="url(#h81)"/><rect x="534" y="56.3" width="5" height="557.50" fill="url(#h82)"/><rect x="539" y="56.3" width="5" height="557.50" fill="url(#h83)"/><rect x="544" y="56.3" width="5" height="557.50" fill="url(#h84)"/><rect x="549" y="56.3" width="5" height="557.50" fill="url(#h85)"/><rect x="554" y="56.3" width="5" height="557.50" fill="url(#h86)"/><rect x="559" y="56.3" width="5" height="557.50" fill="url(#h87)"/><rect x="564" y="56.3" width="5" height="557.50" fill="url(#h88)"/><rect x="569" y="56.3" width="5" height="557.50" fill="url(#h89)"/><rect x="574" y="56.3" width="5" height="557.50" fill="url(#h90)"/><rect x="579" y="56.3" width="5" height="557.50" fill="url(#h91)"/><rect x="584" y="56.3" width="5" height="557.50" fill="url(#h92)"/><rect x="589" y="56.3" width="5" height="557.50" fill="url(#h93)"/><rect x="594" y="56.3" width="5" height="557.50" fill="url(#h94)"/><rect x="599" y="56.3" width="5" height="557.50" fill="url(#h95)"/><rect x="604" y="56.3" width="5" height="557.50" fill="url(#h96)"/><rect x="609" y="56.3" width="5" height="557.50" fill="url(#h97)"/><rect x="614" y="56.3" width="5" height="557.50" fill="url(#h98)"/><rect x="619" y="56.3" width="5" height="557.50" fill="url(#h99)"/><rect x="624" y="56.3" width="5" height="557.50" fill="url(#h100)"/><rect x="629" y="56.3" width="5" height="557.50" fill="url(#h101)"/><rect x="634" y="56.3" width="5" height="557.50" fill="url(#h102)"/><rect x="639" y="56.3" width="5" height="557.50" fill="url(#h103)"/><rect x="644" y="56.3" width="5" height="557.50" fill="url(#h104)"/><rect x="649" y="56.3" width="5" height="557.50" fill="url(#h105)"/><rect x="654" y="56.3" width="5" height="557.50" fill="url(#h106)"/><rect x="659" y="56.3" width="5" height="557.50" fill="url(#h107)"/><rect x="664" y="56.3" width="5" height="557.50" fill="url(#h108)"/><rect x="669" y="56.3" width="5" height="557.50" fill="url(#h109)"/><rect x="674" y="56.3" width="5" height="557.50" fill="url(#h110)"/><rect x="679" y="56.3" width="5" height="557.50" fill="url(#h111)"/><rect x="684" y="56.3" width="5" height="557.50" fill="url(#h112)"/><rect x="689" y="56.3" width="5" height="557.50" fill="url(#h113)"/><rect x="694" y="56.3" width="5" height="557.50" fill="url(#h114)"/><rect x="699" y="56.3" width="5" height="557.50" fill="url(#h115)"/><rect x="704" y="56.3" width="5" height="557.50" fill="url(#h116)"/><rect x="709" y="56.3" width="5" height="557.50" fill="url(#h117)"/><rect x="714" y="56.3" width="5" height="557.50" fill="url(#h118)"/><rect x="719" y="56.3" width="5" height="557.50" fill="url(#h119)"/><rect x="724" y="56.3" width="5" height="557.50" fill="url(#h120)"/><rect x="729" y="56.3" width="5" height="557.50" fill="url(#h121)"/><rect x="734" y="56.3" width="5" height="557.50" fill="url(#h122)"/><rect x="739" y="56.3" width="5" height="557.50" fill="url(#h123)"/><rect x="744" y="56.3" width="5" height="557.50" fill="url(#h124)"/><rect x="749" y="56.3" width="5" height="557.50" fill="url(#h125)"/><rect x="754" y="56.3" width="5" height="557.50" fill="url(#h126)"/><rect x="759" y="56.3" width="5" height="557.50" fill="url(#h127)"/><rect x="764" y="56.3" width="5" height="557.50" fill="url(#h128)"/><rect x="769" y="56.3" width="5" height="557.50" fill="url(#h129)"/><rect x="774" y="56.3" width="5" height="557.50" fill="url(#h130)"/><rect x="779" y="56.3" width="5" height="557.50" fill="url(#h131)"/><rect x="784" y="56.3" width="5" height="557.50" fill="url(#h132)"/><rect x="789" y="56.3" width="5" height="557.50" fill="url(#h133)"/><rect x="794" y="56.3" width="5" height="557.50" fill="url(#h134)"/><rect x="799" y="56.3" width="5" height="557.50" fill="url(#h135)"/><rect x="804" y="56.3" width="5" height="557.50" fill="url(#h136)"/><rect x="809" y="56.3" width="5" height="557.50" fill="url(#h137)"/><rect x="814" y="56.3" width="5" height="557.50" fill="url(#h138)"/><rect x="819" y="56.3" width="5" height="557.50" fill="url(#h139)"/><rect x="824" y="56.3" width="5" height="557.50" fill="url(#h140)"/><rect x="829" y="56.3" width="5" height="557.50" fill="url(#h141)"/><rect x="834" y="56.3" width="5" height="557.50" fill="url(#h142)"/><rect x="839" y="56.3" width="5" height="557.50" fill="url(#h143)"/><rect x="844" y="56.3" width="5" height="557.50" fill="url(#h144)"/><rect x="849" y="56.3" width="5" height="557.50" fill="url(#h145)"/><rect x="854" y="56.3" width="5" height="557.50" fill="url(#h146)"/><rect x="859" y="56.3" width="5" height="557.50" fill="url(#h147)"/><rect x="864" y="56.3" width="5" height="557.50" fill="url(#h148)"/></g>
<line x1="162.7" y1="614.9" x2="162.7" y2="604.9" stroke="#000" stroke-width="2.2"/>
<line x1="162.7" y1="55.2" x2="162.7" y2="64.2" stroke="#000" stroke-width="2.2"/>
<line x1="354.0" y1="614.9" x2="354.0" y2="604.9" stroke="#000" stroke-width="2.2"/>
<line x1="354.0" y1="55.2" x2="354.0" y2="64.2" stroke="#000" stroke-width="2.2"/>
<line x1="545.2" y1="614.9" x2="545.2" y2="604.9" stroke="#000" stroke-width="2.2"/>
<line x1="545.2" y1="55.2" x2="545.2" y2="64.2" stroke="#000" stroke-width="2.2"/>
<line x1="736.4" y1="614.9" x2="736.4" y2="604.9" stroke="#000" stroke-width="2.2"/>
<line x1="736.4" y1="55.2" x2="736.4" y2="64.2" stroke="#000" stroke-width="2.2"/>
<line x1="123.5" y1="76.9" x2="134.5" y2="76.9" stroke="#000" stroke-width="2.2"/>
<line x1="870.1" y1="76.9" x2="860.1" y2="76.9" stroke="#000" stroke-width="2.2"/>
<line x1="123.5" y1="184.4" x2="134.5" y2="184.4" stroke="#000" stroke-width="2.2"/>
<line x1="870.1" y1="184.4" x2="860.1" y2="184.4" stroke="#000" stroke-width="2.2"/>
<line x1="123.5" y1="292.1" x2="134.5" y2="292.1" stroke="#000" stroke-width="2.2"/>
<line x1="870.1" y1="292.1" x2="860.1" y2="292.1" stroke="#000" stroke-width="2.2"/>
<line x1="123.5" y1="399.7" x2="134.5" y2="399.7" stroke="#000" stroke-width="2.2"/>
<line x1="870.1" y1="399.7" x2="860.1" y2="399.7" stroke="#000" stroke-width="2.2"/>
<line x1="123.5" y1="507.3" x2="134.5" y2="507.3" stroke="#000" stroke-width="2.2"/>
<line x1="870.1" y1="507.3" x2="860.1" y2="507.3" stroke="#000" stroke-width="2.2"/>
<rect x="123.5" y="55.2" width="746.60" height="559.70" fill="none" stroke="#000" stroke-width="2.4"/>
<text x="110.6" y="91.2" font-family="'Liberation Sans', sans-serif" font-size="40.5" text-anchor="end" >9</text>
<text x="117.5" y="200.2" font-family="'Liberation Sans', sans-serif" font-size="40.5" text-anchor="end" >8.5</text>
<text x="110.4" y="307.0" font-family="'Liberation Sans', sans-serif" font-size="40.5" text-anchor="end" >8</text>
<text x="117.6" y="415.0" font-family="'Liberation Sans', sans-serif" font-size="40.5" text-anchor="end" >7.5</text>
<text x="110.2" y="521.8" font-family="'Liberation Sans', sans-serif" font-size="40.5" text-anchor="end" >7</text>
<text x="117.8" y="629.9" font-family="'Liberation Sans', sans-serif" font-size="40.5" text-anchor="end" >6.5</text>
<text x="162.5" y="652.9" font-family="'Liberation Sans', sans-serif" font-size="40.5" text-anchor="middle" >-9.0</text>
<text x="354.0" y="652.9" font-family="'Liberation Sans', sans-serif" font-size="40.5" text-anchor="middle" >-8.5</text>
<text x="545.2" y="652.9" font-family="'Liberation Sans', sans-serif" font-size="40.5" text-anchor="middle" >-8.0</text>
<text x="736.4" y="652.9" font-family="'Liberation Sans', sans-serif" font-size="40.5" text-anchor="middle" >-7.5</text>
<defs><linearGradient id="cb" x1="0" y1="1" x2="0" y2="0"><stop offset="0.0000" stop-color="#ffffd9"/><stop offset="0.1667" stop-color="#edf8b1"/><stop offset="0.3333" stop-color="#c7e9b4"/><stop offset="0.5000" stop-color="#7fcdbb"/><stop offset="0.6667" stop-color="#41b6c4"/><stop offset="0.8333" stop-color="#1d91c0"/><stop offset="1.0000" stop-color="#225ea8"/></linearGradient></defs>
<rect x="895.0" y="54.0" width="36.80" height="560.90" fill="url(#cb)"/>
<line x1="931.8" y1="59.1" x2="923.8" y2="59.1" stroke="#000" stroke-width="2.2"/>
<line x1="931.8" y1="323.6" x2="923.8" y2="323.6" stroke="#000" stroke-width="2.2"/>
<line x1="931.8" y1="588.2" x2="923.8" y2="588.2" stroke="#000" stroke-width="2.2"/>
<rect x="895.0" y="54.0" width="36.80" height="560.90" fill="none" stroke="#000" stroke-width="2.2"/>
<text x="945" y="74.8" font-family="'Liberation Sans', sans-serif" font-size="40.5" text-anchor="start" >0</text>
<text x="939.8" y="335.2" font-family="'Liberation Sans', sans-serif" font-size="40.5" text-anchor="start" >-10</text>
<text x="941.0" y="599.6" font-family="'Liberation Sans', sans-serif" font-size="40.5" text-anchor="start" >-20</text>
<line x1="406.3" y1="736.4" x2="406.3" y2="1017.6" stroke="#c0c0c0" stroke-width="2.2" stroke-dasharray="12,8.3" stroke-dashoffset="-4"/>
<line x1="613.3" y1="736.4" x2="613.3" y2="1017.6" stroke="#c0c0c0" stroke-width="2.2" stroke-dasharray="12,8.3" stroke-dashoffset="-4"/>
<path d="M121.6,750.9 L122.8,750.8 L124.0,750.4 L125.3,750.0 L126.5,749.8 L127.7,749.9 L128.9,750.7 L130.1,751.1 L131.3,750.4 L132.6,750.0 L133.8,750.5 L135.0,750.7 L136.2,750.2 L137.5,749.7 L138.8,750.1 L140.0,750.1 L141.2,749.4 L142.5,748.9 L143.8,748.4 L145.0,748.2 L146.2,748.5 L147.5,748.9 L148.8,749.1 L150.0,749.6 L151.2,749.9 L152.5,749.0 L153.8,748.1 L155.0,748.7 L156.2,749.6 L157.5,749.3 L158.8,748.7 L160.0,748.7 L161.2,748.7 L162.5,749.2 L163.8,749.8 L165.0,749.4 L166.2,749.6 L167.5,749.9 L168.8,749.5 L170.0,749.4 L171.2,749.6 L172.5,749.3 L173.8,748.9 L175.0,749.6 L176.2,749.9 L177.5,749.3 L178.8,749.6 L180.0,749.6 L181.2,749.7 L182.5,750.6 L183.8,750.0 L185.0,748.9 L186.2,749.2 L187.5,749.5 L188.8,749.5 L190.0,749.5 L191.2,749.5 L192.5,749.8 L193.8,749.8 L195.0,749.1 L196.2,748.8 L197.5,748.8 L198.8,748.5 L200.0,748.1 L201.2,748.1 L202.5,748.8 L203.8,749.5 L205.0,749.3 L206.2,748.1 L207.5,748.0 L208.8,748.2 L210.0,747.5 L211.2,747.8 L212.5,748.8 L213.8,749.5 L215.0,749.3 L216.2,748.6 L217.5,748.4 L218.8,749.0 L220.0,749.5 L221.2,748.9 L222.5,748.7 L223.8,749.0 L225.0,748.9 L226.2,748.4 L227.5,748.2 L228.8,748.4 L230.0,748.9 L231.2,749.6 L232.5,749.5 L233.8,749.2 L235.0,749.1 L236.2,749.1 L237.5,749.3 L238.8,749.3 L240.0,748.8 L241.2,748.3 L242.4,748.1 L243.6,747.3 L244.8,747.0 L246.0,747.7 L247.2,748.1 L248.4,749.1 L249.6,749.7 L250.8,748.6 L252.0,748.1 L253.2,748.7 L254.4,748.8 L255.6,748.5 L256.8,748.6 L258.0,749.0 L259.2,748.8 L260.4,748.2 L261.6,748.4 L262.8,748.5 L264.0,748.3 L265.2,748.5 L266.4,748.9 L267.6,749.4 L268.8,749.5 L270.0,749.1 L271.2,748.9 L272.5,748.6 L273.8,747.9 L275.0,748.4 L276.2,748.9 L277.5,748.8 L278.8,749.1 L280.0,749.3 L281.2,749.6 L282.5,749.9 L283.8,750.3 L285.0,750.0 L286.2,749.8 L287.5,751.0 L288.8,751.6 L290.0,750.8 L291.3,750.4 L292.6,750.3 L293.9,750.6 L295.2,751.2 L296.6,751.1 L297.9,750.8 L299.2,750.7 L300.5,750.6 L301.9,751.1 L303.2,752.1 L304.6,752.5 L305.9,752.6 L307.3,752.3 L308.6,751.9 L310.0,752.0 L311.2,752.6 L312.5,753.2 L313.8,753.6 L315.0,753.7 L316.2,753.7 L317.5,754.9 L318.8,756.3 L320.0,756.0 L321.4,755.5 L322.8,756.5 L324.2,756.7 L325.6,755.7 L327.0,756.0 L328.4,756.4 L329.8,756.9 L331.2,758.3 L332.6,759.5 L334.0,759.9 L335.4,760.7 L336.8,761.7 L338.2,762.8 L339.6,763.8 L341.0,764.5 L342.4,766.2 L343.8,767.6 L345.2,768.1 L346.6,768.5 L348.0,768.9 L349.4,769.6 L350.8,770.8 L352.2,772.1 L353.6,773.0 L355.1,773.6 L356.5,774.8 L358.0,776.1 L359.4,781.1 L360.8,785.5 L362.1,784.7 L363.4,784.6 L364.7,785.7 L366.2,789.2 L367.7,792.0 L369.2,795.3 L370.6,795.3 L372.0,795.1 L373.7,801.5 L375.4,808.0 L377.6,813.6 L379.8,812.7 L382.1,823.6 L383.2,840.9 L384.5,856.4 L384.9,861.9 L386.5,861.9 L388.2,860.8 L389.8,864.9 L391.3,870.1 L392.8,876.2 L394.3,882.5 L396.6,900.9 L398.9,917.8 L401.2,919.1 L401.2,930.9 L400.4,945.0 L402.7,961.6 L403.5,976.7 L404.2,998.9 L405.8,1000.9 L408.0,991.4 L409.6,975.9 L410.3,957.6 L411.8,938.7 L414.1,928.5 L415.6,923.6 L417.2,918.5 L418.7,900.0 L421.0,884.7 L423.3,874.3 L424.8,868.5 L426.3,862.5 L428.6,850.8 L429.9,848.0 L431.1,844.4 L432.4,840.0 L433.1,830.1 L434.0,826.8 L435.5,822.6 L437.0,818.5 L438.2,818.1 L439.4,818.1 L440.6,817.2 L442.4,807.3 L443.9,804.6 L445.5,802.0 L447.3,792.7 L448.8,789.1 L450.3,786.5 L451.6,786.6 L453.0,787.0 L454.6,788.6 L456.3,789.9 L458.1,782.2 L459.6,778.8 L461.1,776.8 L462.9,775.3 L464.7,772.9 L466.2,769.1 L466.9,757.4 L467.4,875.6 L468.3,778.6 L469.5,775.5 L470.7,773.7 L471.9,772.1 L473.1,771.1 L474.9,769.6 L476.7,767.8 L477.9,766.1 L479.1,764.9 L480.4,763.7 L481.6,762.6 L483.4,761.0 L484.0,756.8 L484.8,844.4 L485.6,766.4 L487.2,764.1 L488.8,761.6 L490.0,761.7 L491.2,761.8 L492.4,760.8 L493.6,759.8 L495.2,759.2 L496.8,759.0 L498.4,758.7 L499.6,754.3 L501.2,754.9 L502.8,755.7 L504.4,755.6 L505.6,754.3 L506.8,754.0 L508.0,754.9 L509.2,755.0 L510.4,754.2 L511.6,753.3 L512.9,752.3 L514.1,751.5 L515.3,750.7 L516.5,750.3 L517.7,750.5 L518.9,750.7 L520.1,750.1 L521.3,749.0 L522.5,748.6 L523.7,749.2 L524.9,750.2 L526.1,750.2 L527.3,749.7 L528.5,749.0 L529.7,748.7 L530.9,749.2 L532.1,749.6 L533.3,749.1 L534.5,748.7 L535.9,749.5 L537.2,749.8 L538.6,749.9 L540.0,750.7 L541.3,752.4 L542.7,753.9 L544.0,755.0 L545.3,756.0 L546.7,756.9 L548.0,756.6 L549.3,756.6 L550.7,757.4 L552.0,757.8 L553.3,758.6 L554.7,760.5 L556.0,762.2 L557.3,763.0 L558.7,763.9 L560.0,765.4 L561.3,767.2 L562.7,768.4 L564.0,770.4 L565.3,773.5 L566.7,775.8 L568.0,778.8 L569.2,781.2 L570.4,782.7 L571.6,784.9 L572.8,787.2 L574.0,788.3 L575.2,790.4 L576.4,793.5 L577.6,797.7 L578.8,801.9 L580.0,804.7 L581.4,807.6 L582.8,811.2 L584.2,815.8 L585.5,820.2 L586.9,824.3 L588.2,828.4 L589.6,831.3 L591.0,833.9 L592.6,837.1 L594.2,840.4 L596.0,850.2 L598.2,867.2 L600.2,845.7 L602.2,871.3 L603.6,873.5 L604.9,876.2 L606.3,879.6 L607.8,885.1 L609.3,891.4 L610.8,897.3 L612.3,902.1 L613.6,899.9 L615.0,897.9 L616.6,895.9 L618.3,894.2 L619.6,891.9 L621.0,889.3 L622.3,884.9 L624.3,859.7 L625.8,874.6 L627.3,890.1 L628.5,887.5 L629.8,884.8 L631.0,882.3 L632.3,880.1 L633.6,876.3 L635.0,872.3 L636.3,867.2 L637.5,864.8 L638.8,862.9 L640.0,861.0 L641.5,859.1 L642.9,857.2 L644.4,855.1 L645.6,853.3 L646.8,852.3 L648.0,850.5 L649.2,848.6 L650.4,846.4 L651.7,848.1 L653.1,850.8 L654.4,854.3 L655.6,851.3 L656.8,848.1 L658.0,845.2 L659.2,841.6 L660.4,837.4 L661.9,835.9 L663.5,835.1 L665.0,833.0 L666.4,830.8 L667.8,830.0 L669.1,829.1 L670.5,827.1 L671.8,828.0 L673.2,829.0 L674.5,831.3 L675.7,830.5 L676.9,828.7 L678.1,826.5 L679.3,824.1 L680.5,821.6 L682.0,819.8 L683.5,819.0 L685.0,818.1 L686.4,816.9 L687.8,816.4 L689.1,815.3 L690.5,813.6 L692.0,813.8 L693.5,814.3 L695.0,814.7 L696.4,814.3 L697.8,813.9 L699.1,813.7 L700.5,813.2 L702.2,810.1 L704.0,807.9 L705.6,806.6 L707.2,804.4 L708.6,803.7 L710.1,802.9 L711.5,802.3 L713.0,802.2 L714.4,801.8 L715.6,801.6 L716.8,800.9 L718.0,800.4 L719.2,800.0 L720.4,799.6 L721.6,799.7 L722.8,799.5 L724.0,799.3 L725.2,798.5 L726.5,797.7 L727.7,797.8 L728.9,798.1 L730.2,797.8 L731.5,797.0 L732.8,796.3 L734.1,796.0 L735.4,796.1 L736.7,795.3 L738.0,794.7 L739.3,795.5 L740.5,795.7 L741.8,794.5 L743.0,793.9 L744.3,793.8 L745.6,793.9 L746.8,794.1 L748.1,793.6 L749.4,793.4 L750.7,793.5 L752.1,793.2 L753.4,792.8 L754.7,791.9 L756.0,790.9 L757.4,791.3 L758.7,792.2 L760.0,791.9 L761.2,791.3 L762.4,791.2 L763.7,791.0 L764.9,791.3 L766.1,791.2 L767.3,789.8 L768.5,788.6 L769.8,788.4 L771.0,788.8 L772.2,789.7 L773.5,789.6 L774.8,788.3 L776.1,787.6 L777.4,788.4 L778.8,788.2 L780.1,787.1 L781.4,787.1 L782.7,787.5 L784.0,787.5 L785.2,786.9 L786.5,786.3 L787.7,785.8 L788.9,786.2 L790.1,787.3 L791.4,787.2 L792.6,786.0 L793.8,784.9 L795.1,784.5 L796.3,784.9 L797.6,785.4 L798.9,785.2 L800.2,784.7 L801.5,784.3 L802.8,784.4 L804.1,784.9 L805.4,785.6 L806.7,785.6 L808.0,784.2 L809.2,783.3 L810.5,783.2 L811.7,782.9 L813.0,782.6 L814.2,782.5 L815.4,782.4 L816.7,782.7 L817.9,782.7 L819.2,782.3 L820.4,781.9 L821.7,781.2 L823.0,780.9 L824.3,780.9 L825.6,781.0 L826.8,781.1 L828.1,780.6 L829.4,780.0 L830.7,779.8 L832.0,779.4 L833.2,779.3 L834.5,779.0 L835.7,778.5 L837.0,779.1 L838.2,779.5 L839.4,779.1 L840.7,778.7 L841.9,778.3 L843.2,777.9 L844.4,777.9 L845.7,778.1 L847.0,778.1 L848.3,777.9 L849.6,778.3 L850.8,778.6 L852.1,778.3 L853.4,778.4 L854.7,778.2 L856.0,777.8 L857.2,778.4 L858.5,778.8 L859.8,778.8 L861.0,778.6 L862.2,778.2 L863.5,778.3 L864.8,778.9 L866.0,779.0 L867.2,778.3 L868.5,777.9 L869.8,778.7 L871.1,779.5 L872.3,779.3 L873.6,778.3 L874.9,777.7 L876.2,778.2 L877.4,777.6 L878.7,776.7 L880.0,777.1 L881.3,776.8 L882.5,776.5 L883.8,777.4 L885.0,778.2 L886.3,777.9 L887.6,778.1 L888.8,779.0 L890.1,778.8 L891.3,777.7 L892.6,776.8 L893.9,776.2 L895.1,776.4 L896.4,777.0 L897.7,777.1 L898.9,777.0 L900.2,776.8 L901.5,776.1 L902.7,776.1 L904.0,776.6 L905.3,776.7 L906.5,776.7 L907.8,776.1 L909.1,775.6 L910.4,775.3 L911.6,774.4 L912.9,774.2 L914.2,775.0 L915.4,775.2 L916.7,774.6 L917.9,773.8 L919.1,773.8 L920.4,773.9 L921.6,773.2 L922.8,772.8 L924.0,773.7 L925.4,774.7 L926.8,774.4 L928.1,773.8 L929.5,773.9 L930.9,773.4 L932.3,772.4" fill="none" stroke="#1d74bc" stroke-width="4.3" stroke-linejoin="round" stroke-linecap="round"/>
<line x1="324.2" y1="1017.6" x2="324.2" y2="1007.6" stroke="#000" stroke-width="2.2"/>
<line x1="324.2" y1="736.4" x2="324.2" y2="745.4" stroke="#000" stroke-width="2.2"/>
<line x1="526.8" y1="1017.6" x2="526.8" y2="1007.6" stroke="#000" stroke-width="2.2"/>
<line x1="526.8" y1="736.4" x2="526.8" y2="745.4" stroke="#000" stroke-width="2.2"/>
<line x1="729.4" y1="1017.6" x2="729.4" y2="1007.6" stroke="#000" stroke-width="2.2"/>
<line x1="729.4" y1="736.4" x2="729.4" y2="745.4" stroke="#000" stroke-width="2.2"/>
<line x1="121.3" y1="754.4" x2="130.3" y2="754.4" stroke="#000" stroke-width="2.2"/>
<line x1="932.2" y1="754.4" x2="923.2" y2="754.4" stroke="#000" stroke-width="2.2"/>
<line x1="121.3" y1="879.5" x2="130.3" y2="879.5" stroke="#000" stroke-width="2.2"/>
<line x1="932.2" y1="879.5" x2="923.2" y2="879.5" stroke="#000" stroke-width="2.2"/>
<line x1="121.3" y1="1004.5" x2="130.3" y2="1004.5" stroke="#000" stroke-width="2.2"/>
<line x1="932.2" y1="1004.5" x2="923.2" y2="1004.5" stroke="#000" stroke-width="2.2"/>
<rect x="121.3" y="736.4" width="810.90" height="281.20" fill="none" stroke="#000" stroke-width="2.2"/>
<text x="115.2" y="769.2" font-family="'Liberation Sans', sans-serif" font-size="40.5" text-anchor="end" >0</text>
<text x="110.2" y="894.0" font-family="'Liberation Sans', sans-serif" font-size="40.5" text-anchor="end" >-10</text>
<text x="110.2" y="1019.3" font-family="'Liberation Sans', sans-serif" font-size="40.5" text-anchor="end" >-20</text>
<text x="120.3" y="1056.9" font-family="'Liberation Sans', sans-serif" font-size="40.5" text-anchor="middle" >6.5</text>
<text x="324.2" y="1056.9" font-family="'Liberation Sans', sans-serif" font-size="40.5" text-anchor="middle" >7</text>
<text x="526.8" y="1056.9" font-family="'Liberation Sans', sans-serif" font-size="40.5" text-anchor="middle" >7.5</text>
<text x="729.4" y="1056.9" font-family="'Liberation Sans', sans-serif" font-size="40.5" text-anchor="middle" >8</text>
<text x="932.0" y="1056.9" font-family="'Liberation Sans', sans-serif" font-size="40.5" text-anchor="middle" >8.5</text>
<line x1="764.6" y1="362.2" x2="764.6" y2="446.5" stroke="#000" stroke-width="3"/>
<path d="M764.6,350.2 L758.1,364.2 L771.1,364.2 Z" fill="#000"/>
<path d="M764.6,458.5 L758.1,444.5 L771.1,444.5 Z" fill="#000"/>
<line x1="418.0" y1="944.1" x2="601.9" y2="944.1" stroke="#000" stroke-width="2.6"/>
<path d="M407.0,944.1 L420.0,938.1 L420.0,950.1 Z" fill="#000"/>
<path d="M612.9,944.1 L599.9,938.1 L599.9,950.1 Z" fill="#000"/>
<text x="430.7" y="989.0" font-family="'Liberation Sans', sans-serif" font-size="39.6" text-anchor="start" >508 MHz</text>
<text transform="matrix(0.3718 0 0 0.3755 907.9695 31.0138)" font-family="'Liberation Sans', sans-serif" font-size="100">(dB)</text>
<text transform="matrix(0.5128 0 0 0.4493 845.4872 30.0015)" font-family="'Liberation Serif', serif" font-size="100" font-style="italic">S</text>
<text transform="matrix(0.3022 0 0 0.3091 869.3911 36.0)" font-family="'Liberation Serif', serif" font-size="100">21</text>
<text transform="matrix(0.5123 0 0 0.4348 422.9509 704.2)" font-family="'Liberation Serif', serif" font-size="100">Δ</text>
<text transform="matrix(0.5714 0 0 0.597 458.1 712.903)" font-family="'Liberation Serif', serif" font-size="100">/</text>
<text transform="matrix(0.415 0 0 0.4077 475.14 704.2)" font-family="'Liberation Serif', serif" font-size="100">2</text>
<text transform="matrix(0.4176 0 0 0.4 496.2824 704.6)" font-family="'Liberation Serif', serif" font-size="100" font-style="italic">π</text>
<text transform="matrix(0.3957 0 0 0.3968 531.826 703.967)" font-family="'Liberation Sans', sans-serif" font-size="100">(GHz)</text>
<text transform="matrix(0.4344 0 0 0.44 388.4281 1106.3)" font-family="'Liberation Serif', serif" font-size="100">Ω</text>
<text transform="matrix(0.3549 0 0 0.3143 419.0903 1112.4857)" font-family="'Liberation Serif', serif" font-size="100">mod</text>
<text transform="matrix(0.6036 0 0 0.6136 487.6 1113.8864)" font-family="'Liberation Serif', serif" font-size="100">/</text>
<text transform="matrix(0.4425 0 0 0.4323 507.53 1105.7)" font-family="'Liberation Serif', serif" font-size="100">2</text>
<text transform="matrix(0.4471 0 0 0.4255 529.7529 1106.4745)" font-family="'Liberation Serif', serif" font-size="100" font-style="italic">π</text>
<text transform="matrix(0.3976 0 0 0.3957 564.6142 1105.9894)" font-family="'Liberation Sans', sans-serif" font-size="100">(GHz)</text>
<text transform="matrix(0 -0.4094 0.4738 0 43.7 481.7469)" font-family="'Liberation Serif', serif" font-size="100">Ω</text>
<text transform="matrix(0 -0.352 0.3214 0 50.7786 450.304)" font-family="'Liberation Serif', serif" font-size="100">mod</text>
<text transform="matrix(0 -0.6143 0.6409 0 53.0591 383.0)" font-family="'Liberation Serif', serif" font-size="100">/</text>
<text transform="matrix(0 -0.43 0.4415 0 43.7 362.52)" font-family="'Liberation Serif', serif" font-size="100">2</text>
<text transform="matrix(0 -0.4078 0.4128 0 43.2872 338.7078)" font-family="'Liberation Serif', serif" font-size="100" font-style="italic">π</text>
<text transform="matrix(0 -0.4008 0.4011 0 43.1777 305.6047)" font-family="'Liberation Sans', sans-serif" font-size="100">(GHz)</text>
<text transform="matrix(0 -0.5489 0.4806 0 40.5388 950.9489)" font-family="'Liberation Serif', serif" font-size="100" font-style="italic">S</text>
<text transform="matrix(0 -0.3189 0.3242 0 46.5 925.8756)" font-family="'Liberation Serif', serif" font-size="100">21</text>
<text transform="matrix(0 -0.4006 0.3957 0 41.0894 881.9034)" font-family="'Liberation Sans', sans-serif" font-size="100">(dB)</text>
<text transform="matrix(0.4277 0 0 0.4103 691.0 407.7838)" font-family="'Liberation Serif', serif" font-size="100" font-style="italic">g</text>
<text transform="matrix(0.6 0 0 0.6485 714.3 417.3515)" font-family="'Liberation Serif', serif" font-size="100">/</text>
<text transform="matrix(0.451 0 0 0.4 734.149 407.3)" font-family="'Liberation Serif', serif" font-size="100" font-style="italic">π</text>
<text transform="matrix(0.4965 0 0 0.4182 714.914 898.9)" font-family="'Liberation Serif', serif" font-size="100">Δ</text>
<text transform="matrix(0.5638 0 0 0.372 757.3809 902.012)" font-family="'Liberation Serif', serif" font-size="100">=</text>
<text transform="matrix(0.4979 0 0 0.54 799.6106 907.04)" font-family="'Liberation Serif', serif" font-size="100">−</text>
<text transform="matrix(0.4 0 0 0.3854 827.1 899.3146)" font-family="'Liberation Serif', serif" font-size="100" font-style="italic">ω</text>
<text transform="matrix(0.3297 0 0 0.3064 853.7405 904.7)" font-family="'Liberation Serif', serif" font-size="100">m</text>
<text transform="matrix(0.5333 0 0 0.3979 681.1667 970.0)" font-family="'Liberation Serif', serif" font-size="100" font-style="italic">n</text>
<text transform="matrix(0.3892 0 0 0.2896 705.3432 975.0104)" font-family="'Liberation Serif', serif" font-size="100">c</text>
<text transform="matrix(0.6021 0 0 0.5333 733.9938 978.5)" font-family="'Liberation Serif', serif" font-size="100">≈</text>
<text transform="matrix(0.431 0 0 0.4313 778.5762 973.2373)" font-family="'Liberation Serif', serif" font-size="100">8</text>
<text transform="matrix(0.5425 0 0 0.51 809.66 979.53)" font-family="'Liberation Serif', serif" font-size="100">×</text>
<text transform="matrix(0.4483 0 0 0.425 849.2655 973.25)" font-family="'Liberation Serif', serif" font-size="100">10</text>
<text transform="matrix(0.2978 0 0 0.2938 892.4043 956.1)" font-family="'Liberation Serif', serif" font-size="100">4</text>
<text transform="matrix(0.4358 0 0 0.4636 -0.7075 25.2364)" font-family="'Liberation Sans', sans-serif" font-size="100" font-weight="bold">a</text>
<text transform="matrix(0.5 0 0 0.4712 -2.1 758.6)" font-family="'Liberation Sans', sans-serif" font-size="100" font-weight="bold">b</text>
</svg></body></html>
